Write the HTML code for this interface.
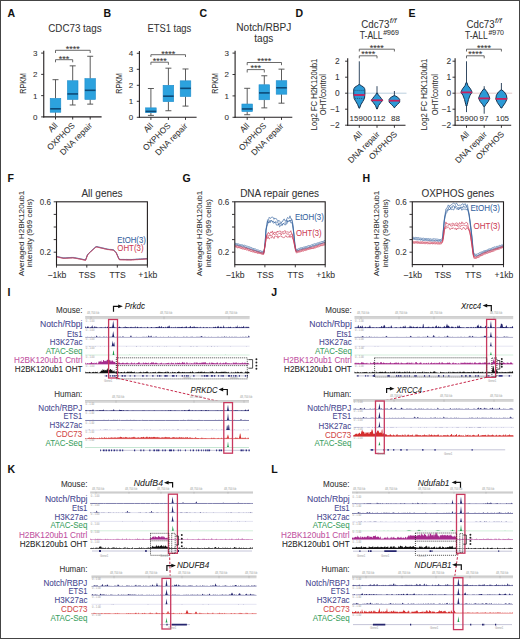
<!DOCTYPE html>
<html><head><meta charset="utf-8"><style>
html,body{margin:0;padding:0;background:#fff;}
svg{display:block;}
text{font-family:"Liberation Sans", sans-serif;}
</style></head><body>
<svg width="520" height="639" viewBox="0 0 520 639">
<rect x="0" y="0" width="520" height="639" fill="#fff"/>
<text x="7.40" y="16.90" font-size="10.5" text-anchor="start" fill="#111" stroke="#111" stroke-width="0.06" font-weight="bold">A</text>
<text x="103.60" y="16.90" font-size="10.5" text-anchor="start" fill="#111" stroke="#111" stroke-width="0.06" font-weight="bold">B</text>
<text x="199.40" y="16.90" font-size="10.5" text-anchor="start" fill="#111" stroke="#111" stroke-width="0.06" font-weight="bold">C</text>
<text x="295.40" y="16.90" font-size="10.5" text-anchor="start" fill="#111" stroke="#111" stroke-width="0.06" font-weight="bold">D</text>
<text x="408.60" y="16.90" font-size="10.5" text-anchor="start" fill="#111" stroke="#111" stroke-width="0.06" font-weight="bold">E</text>
<text x="7.40" y="181.60" font-size="10.5" text-anchor="start" fill="#111" stroke="#111" stroke-width="0.06" font-weight="bold">F</text>
<text x="182.40" y="182.00" font-size="10.5" text-anchor="start" fill="#111" stroke="#111" stroke-width="0.06" font-weight="bold">G</text>
<text x="362.40" y="182.00" font-size="10.5" text-anchor="start" fill="#111" stroke="#111" stroke-width="0.06" font-weight="bold">H</text>
<text x="7.40" y="296.20" font-size="10.5" text-anchor="start" fill="#111" stroke="#111" stroke-width="0.06" font-weight="bold">I</text>
<text x="271.20" y="296.20" font-size="10.5" text-anchor="start" fill="#111" stroke="#111" stroke-width="0.06" font-weight="bold">J</text>
<text x="7.40" y="473.00" font-size="10.5" text-anchor="start" fill="#111" stroke="#111" stroke-width="0.06" font-weight="bold">K</text>
<text x="271.20" y="473.00" font-size="10.5" text-anchor="start" fill="#111" stroke="#111" stroke-width="0.06" font-weight="bold">L</text>
<line x1="43.75" y1="50.80" x2="43.75" y2="117.40" stroke="#231f20" stroke-width="1.1"/>
<line x1="43.25" y1="116.90" x2="101.60" y2="116.90" stroke="#231f20" stroke-width="1.1"/>
<line x1="41.15" y1="116.90" x2="43.75" y2="116.90" stroke="#231f20" stroke-width="0.9"/>
<text x="37.55" y="119.80" font-size="8" text-anchor="end" fill="#333" stroke="#333" stroke-width="0.06">0</text>
<line x1="41.15" y1="95.63" x2="43.75" y2="95.63" stroke="#231f20" stroke-width="0.9"/>
<text x="37.55" y="98.53" font-size="8" text-anchor="end" fill="#333" stroke="#333" stroke-width="0.06">1</text>
<line x1="41.15" y1="74.36" x2="43.75" y2="74.36" stroke="#231f20" stroke-width="0.9"/>
<text x="37.55" y="77.26" font-size="8" text-anchor="end" fill="#333" stroke="#333" stroke-width="0.06">2</text>
<line x1="41.15" y1="53.09" x2="43.75" y2="53.09" stroke="#231f20" stroke-width="0.9"/>
<text x="37.55" y="55.99" font-size="8" text-anchor="end" fill="#333" stroke="#333" stroke-width="0.06">3</text>
<line x1="55.50" y1="116.90" x2="55.50" y2="119.50" stroke="#231f20" stroke-width="0.9"/>
<line x1="72.70" y1="116.90" x2="72.70" y2="119.50" stroke="#231f20" stroke-width="0.9"/>
<line x1="90.20" y1="116.90" x2="90.20" y2="119.50" stroke="#231f20" stroke-width="0.9"/>
<line x1="55.50" y1="79.68" x2="55.50" y2="98.40" stroke="#4a4a4a" stroke-width="0.9"/>
<line x1="55.50" y1="112.22" x2="55.50" y2="116.90" stroke="#4a4a4a" stroke-width="0.9"/>
<line x1="52.50" y1="79.68" x2="58.50" y2="79.68" stroke="#4a4a4a" stroke-width="0.9"/>
<rect x="50.20" y="98.40" width="10.60" height="13.83" fill="#2ca2de" stroke="#1f8ccb" stroke-width="0.6"/>
<line x1="50.20" y1="108.82" x2="60.80" y2="108.82" stroke="#0d4a78" stroke-width="1.6"/>
<line x1="72.70" y1="65.85" x2="72.70" y2="80.74" stroke="#4a4a4a" stroke-width="0.9"/>
<line x1="72.70" y1="99.46" x2="72.70" y2="104.99" stroke="#4a4a4a" stroke-width="0.9"/>
<line x1="69.70" y1="65.85" x2="75.70" y2="65.85" stroke="#4a4a4a" stroke-width="0.9"/>
<line x1="69.70" y1="104.99" x2="75.70" y2="104.99" stroke="#4a4a4a" stroke-width="0.9"/>
<rect x="67.40" y="80.74" width="10.60" height="18.72" fill="#2ca2de" stroke="#1f8ccb" stroke-width="0.6"/>
<line x1="67.40" y1="93.93" x2="78.00" y2="93.93" stroke="#0d4a78" stroke-width="1.6"/>
<line x1="90.20" y1="56.28" x2="90.20" y2="78.61" stroke="#4a4a4a" stroke-width="0.9"/>
<line x1="90.20" y1="99.46" x2="90.20" y2="104.14" stroke="#4a4a4a" stroke-width="0.9"/>
<line x1="87.20" y1="56.28" x2="93.20" y2="56.28" stroke="#4a4a4a" stroke-width="0.9"/>
<line x1="87.20" y1="104.14" x2="93.20" y2="104.14" stroke="#4a4a4a" stroke-width="0.9"/>
<rect x="84.90" y="78.61" width="10.60" height="20.84" fill="#2ca2de" stroke="#1f8ccb" stroke-width="0.6"/>
<line x1="84.90" y1="90.31" x2="95.50" y2="90.31" stroke="#0d4a78" stroke-width="1.6"/>
<path d="M55.50,53.00 L55.50,50.30 L90.20,50.30 L90.20,53.00" fill="none" stroke="#444" stroke-width="0.8"/>
<text x="72.85" y="52.10" font-size="8.5" text-anchor="middle" fill="#333" stroke="#333" stroke-width="0.06" textLength="14.0" lengthAdjust="spacingAndGlyphs">****</text>
<path d="M55.50,62.30 L55.50,59.70 L72.70,59.70 L72.70,62.30" fill="none" stroke="#444" stroke-width="0.8"/>
<text x="64.10" y="61.50" font-size="8.5" text-anchor="middle" fill="#333" stroke="#333" stroke-width="0.06" textLength="10.5" lengthAdjust="spacingAndGlyphs">***</text>
<text x="74.90" y="31.50" font-size="10" text-anchor="middle" fill="#333" stroke="#333" stroke-width="0.06" textLength="53.3" lengthAdjust="spacingAndGlyphs">CDC73 tags</text>
<text x="26.30" y="83.40" font-size="8.2" text-anchor="middle" fill="#333" stroke="#333" stroke-width="0.06" textLength="20.5" lengthAdjust="spacingAndGlyphs" transform="rotate(-90 26.30 83.40)">RPKM</text>
<text x="58.10" y="126.10" font-size="8.4" text-anchor="end" fill="#333" stroke="#333" stroke-width="0.06" transform="rotate(-45 58.10 126.10)">All</text>
<text x="75.30" y="126.10" font-size="8.4" text-anchor="end" fill="#333" stroke="#333" stroke-width="0.06" textLength="35" lengthAdjust="spacingAndGlyphs" transform="rotate(-45 75.30 126.10)">OXPHOS</text>
<text x="92.80" y="126.10" font-size="8.4" text-anchor="end" fill="#333" stroke="#333" stroke-width="0.06" textLength="41.8" lengthAdjust="spacingAndGlyphs" transform="rotate(-45 92.80 126.10)">DNA repair</text>
<line x1="139.40" y1="51.00" x2="139.40" y2="117.80" stroke="#231f20" stroke-width="1.1"/>
<line x1="138.90" y1="117.30" x2="196.60" y2="117.30" stroke="#231f20" stroke-width="1.1"/>
<line x1="136.80" y1="117.30" x2="139.40" y2="117.30" stroke="#231f20" stroke-width="0.9"/>
<text x="133.20" y="120.20" font-size="8" text-anchor="end" fill="#333" stroke="#333" stroke-width="0.06">0</text>
<line x1="136.80" y1="101.30" x2="139.40" y2="101.30" stroke="#231f20" stroke-width="0.9"/>
<text x="133.20" y="104.20" font-size="8" text-anchor="end" fill="#333" stroke="#333" stroke-width="0.06">1</text>
<line x1="136.80" y1="85.30" x2="139.40" y2="85.30" stroke="#231f20" stroke-width="0.9"/>
<text x="133.20" y="88.20" font-size="8" text-anchor="end" fill="#333" stroke="#333" stroke-width="0.06">2</text>
<line x1="136.80" y1="69.30" x2="139.40" y2="69.30" stroke="#231f20" stroke-width="0.9"/>
<text x="133.20" y="72.20" font-size="8" text-anchor="end" fill="#333" stroke="#333" stroke-width="0.06">3</text>
<line x1="136.80" y1="53.30" x2="139.40" y2="53.30" stroke="#231f20" stroke-width="0.9"/>
<text x="133.20" y="56.20" font-size="8" text-anchor="end" fill="#333" stroke="#333" stroke-width="0.06">4</text>
<line x1="150.90" y1="117.30" x2="150.90" y2="119.90" stroke="#231f20" stroke-width="0.9"/>
<line x1="168.40" y1="117.30" x2="168.40" y2="119.90" stroke="#231f20" stroke-width="0.9"/>
<line x1="185.50" y1="117.30" x2="185.50" y2="119.90" stroke="#231f20" stroke-width="0.9"/>
<line x1="150.90" y1="88.50" x2="150.90" y2="107.86" stroke="#4a4a4a" stroke-width="0.9"/>
<line x1="150.90" y1="112.66" x2="150.90" y2="115.38" stroke="#4a4a4a" stroke-width="0.9"/>
<line x1="147.90" y1="88.50" x2="153.90" y2="88.50" stroke="#4a4a4a" stroke-width="0.9"/>
<line x1="147.90" y1="115.38" x2="153.90" y2="115.38" stroke="#4a4a4a" stroke-width="0.9"/>
<rect x="145.60" y="107.86" width="10.60" height="4.80" fill="#2ca2de" stroke="#1f8ccb" stroke-width="0.6"/>
<line x1="145.60" y1="111.38" x2="156.20" y2="111.38" stroke="#0d4a78" stroke-width="1.6"/>
<line x1="168.40" y1="68.18" x2="168.40" y2="85.30" stroke="#4a4a4a" stroke-width="0.9"/>
<line x1="168.40" y1="101.62" x2="168.40" y2="110.74" stroke="#4a4a4a" stroke-width="0.9"/>
<line x1="165.40" y1="68.18" x2="171.40" y2="68.18" stroke="#4a4a4a" stroke-width="0.9"/>
<line x1="165.40" y1="110.74" x2="171.40" y2="110.74" stroke="#4a4a4a" stroke-width="0.9"/>
<rect x="163.10" y="85.30" width="10.60" height="16.32" fill="#2ca2de" stroke="#1f8ccb" stroke-width="0.6"/>
<line x1="163.10" y1="96.18" x2="173.70" y2="96.18" stroke="#0d4a78" stroke-width="1.6"/>
<line x1="185.50" y1="68.98" x2="185.50" y2="80.82" stroke="#4a4a4a" stroke-width="0.9"/>
<line x1="185.50" y1="96.50" x2="185.50" y2="106.10" stroke="#4a4a4a" stroke-width="0.9"/>
<line x1="182.50" y1="68.98" x2="188.50" y2="68.98" stroke="#4a4a4a" stroke-width="0.9"/>
<line x1="182.50" y1="106.10" x2="188.50" y2="106.10" stroke="#4a4a4a" stroke-width="0.9"/>
<rect x="180.20" y="80.82" width="10.60" height="15.68" fill="#2ca2de" stroke="#1f8ccb" stroke-width="0.6"/>
<line x1="180.20" y1="88.34" x2="190.80" y2="88.34" stroke="#0d4a78" stroke-width="1.6"/>
<path d="M150.90,57.00 L150.90,54.70 L185.50,54.70 L185.50,57.00" fill="none" stroke="#444" stroke-width="0.8"/>
<text x="168.20" y="56.50" font-size="8.5" text-anchor="middle" fill="#333" stroke="#333" stroke-width="0.06" textLength="14.0" lengthAdjust="spacingAndGlyphs">****</text>
<path d="M150.90,64.80 L150.90,62.20 L168.40,62.20 L168.40,64.80" fill="none" stroke="#444" stroke-width="0.8"/>
<text x="159.65" y="64.00" font-size="8.5" text-anchor="middle" fill="#333" stroke="#333" stroke-width="0.06" textLength="14.0" lengthAdjust="spacingAndGlyphs">****</text>
<text x="169.40" y="31.60" font-size="10" text-anchor="middle" fill="#333" stroke="#333" stroke-width="0.06" textLength="43.7" lengthAdjust="spacingAndGlyphs">ETS1 tags</text>
<text x="122.50" y="83.40" font-size="8.2" text-anchor="middle" fill="#333" stroke="#333" stroke-width="0.06" textLength="20.5" lengthAdjust="spacingAndGlyphs" transform="rotate(-90 122.50 83.40)">RPKM</text>
<text x="153.50" y="126.50" font-size="8.4" text-anchor="end" fill="#333" stroke="#333" stroke-width="0.06" transform="rotate(-45 153.50 126.50)">All</text>
<text x="171.00" y="126.50" font-size="8.4" text-anchor="end" fill="#333" stroke="#333" stroke-width="0.06" textLength="35" lengthAdjust="spacingAndGlyphs" transform="rotate(-45 171.00 126.50)">OXPHOS</text>
<text x="188.10" y="126.50" font-size="8.4" text-anchor="end" fill="#333" stroke="#333" stroke-width="0.06" textLength="41.8" lengthAdjust="spacingAndGlyphs" transform="rotate(-45 188.10 126.50)">DNA repair</text>
<line x1="235.10" y1="50.70" x2="235.10" y2="117.80" stroke="#231f20" stroke-width="1.1"/>
<line x1="234.60" y1="117.30" x2="292.30" y2="117.30" stroke="#231f20" stroke-width="1.1"/>
<line x1="232.50" y1="117.30" x2="235.10" y2="117.30" stroke="#231f20" stroke-width="0.9"/>
<text x="228.90" y="120.20" font-size="8" text-anchor="end" fill="#333" stroke="#333" stroke-width="0.06">0</text>
<line x1="232.50" y1="95.90" x2="235.10" y2="95.90" stroke="#231f20" stroke-width="0.9"/>
<text x="228.90" y="98.80" font-size="8" text-anchor="end" fill="#333" stroke="#333" stroke-width="0.06">1</text>
<line x1="232.50" y1="74.50" x2="235.10" y2="74.50" stroke="#231f20" stroke-width="0.9"/>
<text x="228.90" y="77.40" font-size="8" text-anchor="end" fill="#333" stroke="#333" stroke-width="0.06">2</text>
<line x1="232.50" y1="53.10" x2="235.10" y2="53.10" stroke="#231f20" stroke-width="0.9"/>
<text x="228.90" y="56.00" font-size="8" text-anchor="end" fill="#333" stroke="#333" stroke-width="0.06">3</text>
<line x1="247.20" y1="117.30" x2="247.20" y2="119.90" stroke="#231f20" stroke-width="0.9"/>
<line x1="264.30" y1="117.30" x2="264.30" y2="119.90" stroke="#231f20" stroke-width="0.9"/>
<line x1="281.50" y1="117.30" x2="281.50" y2="119.90" stroke="#231f20" stroke-width="0.9"/>
<line x1="247.20" y1="88.30" x2="247.20" y2="104.03" stroke="#4a4a4a" stroke-width="0.9"/>
<line x1="247.20" y1="111.52" x2="247.20" y2="114.73" stroke="#4a4a4a" stroke-width="0.9"/>
<line x1="244.20" y1="88.30" x2="250.20" y2="88.30" stroke="#4a4a4a" stroke-width="0.9"/>
<line x1="244.20" y1="114.73" x2="250.20" y2="114.73" stroke="#4a4a4a" stroke-width="0.9"/>
<rect x="241.90" y="104.03" width="10.60" height="7.49" fill="#2ca2de" stroke="#1f8ccb" stroke-width="0.6"/>
<line x1="241.90" y1="108.95" x2="252.50" y2="108.95" stroke="#0d4a78" stroke-width="1.6"/>
<line x1="264.30" y1="75.78" x2="264.30" y2="84.77" stroke="#4a4a4a" stroke-width="0.9"/>
<line x1="264.30" y1="99.75" x2="264.30" y2="107.88" stroke="#4a4a4a" stroke-width="0.9"/>
<line x1="261.30" y1="75.78" x2="267.30" y2="75.78" stroke="#4a4a4a" stroke-width="0.9"/>
<line x1="261.30" y1="107.88" x2="267.30" y2="107.88" stroke="#4a4a4a" stroke-width="0.9"/>
<rect x="259.00" y="84.77" width="10.60" height="14.98" fill="#2ca2de" stroke="#1f8ccb" stroke-width="0.6"/>
<line x1="259.00" y1="92.90" x2="269.60" y2="92.90" stroke="#0d4a78" stroke-width="1.6"/>
<line x1="281.50" y1="69.15" x2="281.50" y2="80.71" stroke="#4a4a4a" stroke-width="0.9"/>
<line x1="281.50" y1="94.19" x2="281.50" y2="103.18" stroke="#4a4a4a" stroke-width="0.9"/>
<line x1="278.50" y1="69.15" x2="284.50" y2="69.15" stroke="#4a4a4a" stroke-width="0.9"/>
<line x1="278.50" y1="103.18" x2="284.50" y2="103.18" stroke="#4a4a4a" stroke-width="0.9"/>
<rect x="276.20" y="80.71" width="10.60" height="13.48" fill="#2ca2de" stroke="#1f8ccb" stroke-width="0.6"/>
<line x1="276.20" y1="87.77" x2="286.80" y2="87.77" stroke="#0d4a78" stroke-width="1.6"/>
<path d="M247.20,65.20 L247.20,62.50 L281.50,62.50 L281.50,65.20" fill="none" stroke="#444" stroke-width="0.8"/>
<text x="264.35" y="64.30" font-size="8.5" text-anchor="middle" fill="#333" stroke="#333" stroke-width="0.06" textLength="14.0" lengthAdjust="spacingAndGlyphs">****</text>
<path d="M247.20,72.50 L247.20,69.60 L264.30,69.60 L264.30,72.50" fill="none" stroke="#444" stroke-width="0.8"/>
<text x="255.75" y="71.40" font-size="8.5" text-anchor="middle" fill="#333" stroke="#333" stroke-width="0.06" textLength="10.5" lengthAdjust="spacingAndGlyphs">***</text>
<text x="263.80" y="30.80" font-size="10" text-anchor="middle" fill="#333" stroke="#333" stroke-width="0.06" textLength="55" lengthAdjust="spacingAndGlyphs">Notch/RBPJ</text>
<text x="263.80" y="42.40" font-size="10" text-anchor="middle" fill="#333" stroke="#333" stroke-width="0.06" textLength="19" lengthAdjust="spacingAndGlyphs">tags</text>
<text x="218.00" y="83.40" font-size="8.2" text-anchor="middle" fill="#333" stroke="#333" stroke-width="0.06" textLength="20.5" lengthAdjust="spacingAndGlyphs" transform="rotate(-90 218.00 83.40)">RPKM</text>
<text x="249.80" y="126.50" font-size="8.4" text-anchor="end" fill="#333" stroke="#333" stroke-width="0.06" transform="rotate(-45 249.80 126.50)">All</text>
<text x="266.90" y="126.50" font-size="8.4" text-anchor="end" fill="#333" stroke="#333" stroke-width="0.06" textLength="35" lengthAdjust="spacingAndGlyphs" transform="rotate(-45 266.90 126.50)">OXPHOS</text>
<text x="284.10" y="126.50" font-size="8.4" text-anchor="end" fill="#333" stroke="#333" stroke-width="0.06" textLength="41.8" lengthAdjust="spacingAndGlyphs" transform="rotate(-45 284.10 126.50)">DNA repair</text>
<line x1="347.70" y1="93.20" x2="406.50" y2="93.20" stroke="#a9c3d6" stroke-width="0.8"/>
<line x1="347.70" y1="58.30" x2="347.70" y2="125.70" stroke="#231f20" stroke-width="1.1"/>
<line x1="347.20" y1="125.20" x2="405.50" y2="125.20" stroke="#231f20" stroke-width="1.1"/>
<line x1="345.10" y1="61.20" x2="347.70" y2="61.20" stroke="#231f20" stroke-width="0.9"/>
<text x="339.70" y="64.10" font-size="8.4" text-anchor="end" fill="#333" stroke="#333" stroke-width="0.06">2</text>
<line x1="345.10" y1="77.20" x2="347.70" y2="77.20" stroke="#231f20" stroke-width="0.9"/>
<text x="339.70" y="80.10" font-size="8.4" text-anchor="end" fill="#333" stroke="#333" stroke-width="0.06">1</text>
<line x1="345.10" y1="93.20" x2="347.70" y2="93.20" stroke="#231f20" stroke-width="0.9"/>
<text x="339.70" y="96.10" font-size="8.4" text-anchor="end" fill="#333" stroke="#333" stroke-width="0.06">0</text>
<line x1="345.10" y1="109.20" x2="347.70" y2="109.20" stroke="#231f20" stroke-width="0.9"/>
<text x="339.70" y="112.10" font-size="8.4" text-anchor="end" fill="#333" stroke="#333" stroke-width="0.06">−1</text>
<line x1="345.10" y1="125.20" x2="347.70" y2="125.20" stroke="#231f20" stroke-width="0.9"/>
<text x="339.70" y="128.10" font-size="8.4" text-anchor="end" fill="#333" stroke="#333" stroke-width="0.06">−2</text>
<line x1="359.30" y1="125.20" x2="359.30" y2="127.80" stroke="#231f20" stroke-width="0.9"/>
<line x1="377.00" y1="125.20" x2="377.00" y2="127.80" stroke="#231f20" stroke-width="0.9"/>
<line x1="394.40" y1="125.20" x2="394.40" y2="127.80" stroke="#231f20" stroke-width="0.9"/>
<line x1="359.30" y1="61.30" x2="359.30" y2="108.50" stroke="#1d3550" stroke-width="0.9"/>
<path d="M359.30,84.60 L358.90,84.60 L357.30,85.70 L355.10,87.00 L354.00,88.50 L353.70,90.00 L353.70,94.00 L354.10,98.40 L355.80,101.50 L357.70,104.70 L358.90,107.90 L359.70,107.90 L360.90,104.70 L362.80,101.50 L364.50,98.40 L364.90,94.00 L364.90,90.00 L364.60,88.50 L363.50,87.00 L361.30,85.70 L359.70,84.60 Z" fill="#2c9ad6" stroke="#183452" stroke-width="1.0"/>
<line x1="353.79" y1="95.00" x2="364.81" y2="95.00" stroke="#c8205e" stroke-width="1.8"/>
<line x1="354.50" y1="90.40" x2="364.10" y2="90.40" stroke="#183452" stroke-width="0.6" stroke-dasharray="1.2,0.8"/>
<line x1="354.90" y1="98.40" x2="363.70" y2="98.40" stroke="#183452" stroke-width="0.6" stroke-dasharray="1.2,0.8"/>
<line x1="377.00" y1="86.20" x2="377.00" y2="109.00" stroke="#1d3550" stroke-width="0.9"/>
<path d="M377.00,93.10 L376.60,93.10 L375.70,94.80 L374.40,96.30 L372.60,98.50 L371.30,100.30 L373.20,102.50 L375.60,105.80 L376.70,109.00 L377.30,109.00 L378.40,105.80 L380.80,102.50 L382.70,100.30 L381.40,98.50 L379.60,96.30 L378.30,94.80 L377.40,93.10 Z" fill="#2c9ad6" stroke="#183452" stroke-width="1.0"/>
<line x1="371.30" y1="100.30" x2="382.70" y2="100.30" stroke="#c8205e" stroke-width="1.8"/>
<line x1="394.40" y1="91.00" x2="394.40" y2="107.60" stroke="#1d3550" stroke-width="0.9"/>
<path d="M394.40,95.70 L394.00,95.70 L391.80,96.80 L390.00,98.20 L389.10,99.40 L389.10,102.10 L391.40,104.50 L393.80,106.90 L394.10,107.60 L394.70,107.60 L395.00,106.90 L397.40,104.50 L399.70,102.10 L399.70,99.40 L398.80,98.20 L397.00,96.80 L394.80,95.70 Z" fill="#2c9ad6" stroke="#183452" stroke-width="1.0"/>
<line x1="389.10" y1="100.70" x2="399.70" y2="100.70" stroke="#c8205e" stroke-width="1.8"/>
<text x="349.60" y="120.60" font-size="8" text-anchor="start" fill="#333" stroke="#333" stroke-width="0.06">15900</text>
<text x="372.70" y="120.60" font-size="8" text-anchor="start" fill="#333" stroke="#333" stroke-width="0.06">112</text>
<text x="391.00" y="120.60" font-size="8" text-anchor="start" fill="#333" stroke="#333" stroke-width="0.06">88</text>
<text x="362.50" y="134.80" font-size="8.4" text-anchor="end" fill="#333" stroke="#333" stroke-width="0.06" transform="rotate(-45 362.50 134.80)">All</text>
<text x="380.20" y="134.80" font-size="8.4" text-anchor="end" fill="#333" stroke="#333" stroke-width="0.06" transform="rotate(-45 380.20 134.80)">DNA repair</text>
<text x="397.60" y="134.80" font-size="8.4" text-anchor="end" fill="#333" stroke="#333" stroke-width="0.06" transform="rotate(-45 397.60 134.80)">OXPHOS</text>
<path d="M359.30,51.50 L359.30,49.20 L394.40,49.20 L394.40,51.50" fill="none" stroke="#444" stroke-width="0.8"/>
<text x="376.85" y="50.50" font-size="8.5" text-anchor="middle" fill="#333" stroke="#333" stroke-width="0.06" textLength="14" lengthAdjust="spacingAndGlyphs">****</text>
<path d="M359.30,58.30 L359.30,55.80 L377.00,55.80 L377.00,58.30" fill="none" stroke="#444" stroke-width="0.8"/>
<text x="368.15" y="57.10" font-size="8.5" text-anchor="middle" fill="#333" stroke="#333" stroke-width="0.06" textLength="14" lengthAdjust="spacingAndGlyphs">****</text>
<text x="361.30" y="27.50" font-size="10" text-anchor="start" fill="#333" stroke="#333" stroke-width="0.06" textLength="28.1" lengthAdjust="spacingAndGlyphs">Cdc73</text>
<text x="389.80" y="22.90" font-size="6.4" text-anchor="start" fill="#333" stroke="#333" stroke-width="0.06" font-style="italic" textLength="6.6" lengthAdjust="spacingAndGlyphs">f/f</text>
<text x="359.80" y="38.70" font-size="10" text-anchor="start" fill="#333" stroke="#333" stroke-width="0.06" textLength="22.8" lengthAdjust="spacingAndGlyphs">T-ALL</text>
<text x="383.20" y="35.00" font-size="6.4" text-anchor="start" fill="#333" stroke="#333" stroke-width="0.06" textLength="15.6" lengthAdjust="spacingAndGlyphs">#969</text>
<text x="316.80" y="94.40" font-size="8.2" text-anchor="middle" fill="#333" stroke="#333" stroke-width="0.06" textLength="71.5" lengthAdjust="spacingAndGlyphs" transform="rotate(-90 316.80 94.40)">Log2 FC H2K120ub1</text>
<text x="326.10" y="94.60" font-size="8.2" text-anchor="middle" fill="#333" stroke="#333" stroke-width="0.06" textLength="41.3" lengthAdjust="spacingAndGlyphs" transform="rotate(-90 326.10 94.60)">OHT/control</text>
<line x1="455.10" y1="93.20" x2="512.20" y2="93.20" stroke="#dcbcbc" stroke-width="0.8"/>
<line x1="455.10" y1="58.30" x2="455.10" y2="125.70" stroke="#231f20" stroke-width="1.1"/>
<line x1="454.60" y1="125.20" x2="511.20" y2="125.20" stroke="#231f20" stroke-width="1.1"/>
<line x1="452.50" y1="61.20" x2="455.10" y2="61.20" stroke="#231f20" stroke-width="0.9"/>
<text x="451.20" y="64.10" font-size="8.4" text-anchor="end" fill="#333" stroke="#333" stroke-width="0.06">2</text>
<line x1="452.50" y1="77.20" x2="455.10" y2="77.20" stroke="#231f20" stroke-width="0.9"/>
<text x="451.20" y="80.10" font-size="8.4" text-anchor="end" fill="#333" stroke="#333" stroke-width="0.06">1</text>
<line x1="452.50" y1="93.20" x2="455.10" y2="93.20" stroke="#231f20" stroke-width="0.9"/>
<text x="451.20" y="96.10" font-size="8.4" text-anchor="end" fill="#333" stroke="#333" stroke-width="0.06">0</text>
<line x1="452.50" y1="109.20" x2="455.10" y2="109.20" stroke="#231f20" stroke-width="0.9"/>
<text x="451.20" y="112.10" font-size="8.4" text-anchor="end" fill="#333" stroke="#333" stroke-width="0.06">−1</text>
<line x1="452.50" y1="125.20" x2="455.10" y2="125.20" stroke="#231f20" stroke-width="0.9"/>
<text x="451.20" y="128.10" font-size="8.4" text-anchor="end" fill="#333" stroke="#333" stroke-width="0.06">−2</text>
<line x1="466.50" y1="125.20" x2="466.50" y2="127.80" stroke="#231f20" stroke-width="0.9"/>
<line x1="484.20" y1="125.20" x2="484.20" y2="127.80" stroke="#231f20" stroke-width="0.9"/>
<line x1="501.40" y1="125.20" x2="501.40" y2="127.80" stroke="#231f20" stroke-width="0.9"/>
<line x1="466.50" y1="61.30" x2="466.50" y2="112.10" stroke="#1d3550" stroke-width="0.9"/>
<path d="M466.50,82.50 L466.10,82.50 L465.00,85.70 L462.50,88.90 L460.90,92.20 L462.90,95.20 L464.50,99.40 L465.80,104.70 L466.10,106.00 L466.90,106.00 L467.20,104.70 L468.50,99.40 L470.10,95.20 L472.10,92.20 L470.50,88.90 L468.00,85.70 L466.90,82.50 Z" fill="#2c9ad6" stroke="#183452" stroke-width="1.0"/>
<line x1="461.03" y1="92.40" x2="471.97" y2="92.40" stroke="#c8205e" stroke-width="1.8"/>
<line x1="484.20" y1="86.20" x2="484.20" y2="113.70" stroke="#1d3550" stroke-width="0.9"/>
<path d="M484.20,88.90 L483.80,88.90 L481.70,91.50 L479.70,95.20 L478.60,98.20 L480.20,101.60 L482.70,104.70 L483.70,106.50 L484.70,106.50 L485.70,104.70 L488.20,101.60 L489.80,98.20 L488.70,95.20 L486.70,91.50 L484.60,88.90 Z" fill="#2c9ad6" stroke="#183452" stroke-width="1.0"/>
<line x1="478.69" y1="98.40" x2="489.71" y2="98.40" stroke="#c8205e" stroke-width="1.8"/>
<line x1="501.40" y1="83.00" x2="501.40" y2="108.00" stroke="#1d3550" stroke-width="0.9"/>
<path d="M501.40,89.90 L501.00,89.90 L498.40,92.00 L496.40,95.20 L495.80,98.90 L497.40,102.60 L500.40,106.90 L501.00,108.00 L501.80,108.00 L502.40,106.90 L505.40,102.60 L507.00,98.90 L506.40,95.20 L504.40,92.00 L501.80,89.90 Z" fill="#2c9ad6" stroke="#183452" stroke-width="1.0"/>
<line x1="495.80" y1="98.90" x2="507.00" y2="98.90" stroke="#c8205e" stroke-width="1.8"/>
<text x="455.60" y="120.60" font-size="8" text-anchor="start" fill="#333" stroke="#333" stroke-width="0.06">15900</text>
<text x="479.50" y="120.60" font-size="8" text-anchor="start" fill="#333" stroke="#333" stroke-width="0.06">97</text>
<text x="495.70" y="120.60" font-size="8" text-anchor="start" fill="#333" stroke="#333" stroke-width="0.06">105</text>
<text x="469.70" y="134.80" font-size="8.4" text-anchor="end" fill="#333" stroke="#333" stroke-width="0.06" transform="rotate(-45 469.70 134.80)">All</text>
<text x="487.40" y="134.80" font-size="8.4" text-anchor="end" fill="#333" stroke="#333" stroke-width="0.06" transform="rotate(-45 487.40 134.80)">DNA repair</text>
<text x="504.60" y="134.80" font-size="8.4" text-anchor="end" fill="#333" stroke="#333" stroke-width="0.06" transform="rotate(-45 504.60 134.80)">OXPHOS</text>
<path d="M466.50,51.50 L466.50,49.20 L501.40,49.20 L501.40,51.50" fill="none" stroke="#444" stroke-width="0.8"/>
<text x="483.95" y="50.50" font-size="8.5" text-anchor="middle" fill="#333" stroke="#333" stroke-width="0.06" textLength="14" lengthAdjust="spacingAndGlyphs">****</text>
<path d="M466.50,58.30 L466.50,55.80 L484.20,55.80 L484.20,58.30" fill="none" stroke="#444" stroke-width="0.8"/>
<text x="475.35" y="57.10" font-size="8.5" text-anchor="middle" fill="#333" stroke="#333" stroke-width="0.06" textLength="14" lengthAdjust="spacingAndGlyphs">****</text>
<text x="466.50" y="27.50" font-size="10" text-anchor="start" fill="#333" stroke="#333" stroke-width="0.06" textLength="28.1" lengthAdjust="spacingAndGlyphs">Cdc73</text>
<text x="495.00" y="22.90" font-size="6.4" text-anchor="start" fill="#333" stroke="#333" stroke-width="0.06" font-style="italic" textLength="6.6" lengthAdjust="spacingAndGlyphs">f/f</text>
<text x="465.00" y="38.70" font-size="10" text-anchor="start" fill="#333" stroke="#333" stroke-width="0.06" textLength="22.8" lengthAdjust="spacingAndGlyphs">T-ALL</text>
<text x="488.40" y="35.00" font-size="6.4" text-anchor="start" fill="#333" stroke="#333" stroke-width="0.06" textLength="15.6" lengthAdjust="spacingAndGlyphs">#970</text>
<text x="426.80" y="94.40" font-size="8.2" text-anchor="middle" fill="#333" stroke="#333" stroke-width="0.06" textLength="71.5" lengthAdjust="spacingAndGlyphs" transform="rotate(-90 426.80 94.40)">Log2 FC H2K120ub1</text>
<text x="438.50" y="94.60" font-size="8.2" text-anchor="middle" fill="#333" stroke="#333" stroke-width="0.06" textLength="41.3" lengthAdjust="spacingAndGlyphs" transform="rotate(-90 438.50 94.60)">OHT/control</text>
<text x="23.50" y="233.50" font-size="7.9" text-anchor="middle" fill="#333" stroke="#333" stroke-width="0.06" textLength="85.6" lengthAdjust="spacingAndGlyphs" transform="rotate(-90 23.50 233.50)">Averaged H2BK120ub1</text>
<text x="32.30" y="233.20" font-size="7.9" text-anchor="middle" fill="#333" stroke="#333" stroke-width="0.06" textLength="68.5" lengthAdjust="spacingAndGlyphs" transform="rotate(-90 32.30 233.20)">intensity (969 cells)</text>
<text x="50.90" y="204.80" font-size="8.6" text-anchor="end" fill="#333" stroke="#333" stroke-width="0.06" textLength="11.2" lengthAdjust="spacingAndGlyphs">0.6</text>
<text x="50.90" y="255.20" font-size="8.6" text-anchor="end" fill="#333" stroke="#333" stroke-width="0.06" textLength="11.2" lengthAdjust="spacingAndGlyphs">0.2</text>
<line x1="53.70" y1="201.80" x2="56.50" y2="201.80" stroke="#231f20" stroke-width="0.9"/>
<line x1="53.70" y1="214.40" x2="56.50" y2="214.40" stroke="#231f20" stroke-width="0.9"/>
<line x1="53.70" y1="227.00" x2="56.50" y2="227.00" stroke="#231f20" stroke-width="0.9"/>
<line x1="53.70" y1="239.60" x2="56.50" y2="239.60" stroke="#231f20" stroke-width="0.9"/>
<line x1="53.70" y1="252.20" x2="56.50" y2="252.20" stroke="#231f20" stroke-width="0.9"/>
<line x1="56.50" y1="265.00" x2="56.50" y2="267.60" stroke="#231f20" stroke-width="0.9"/>
<line x1="86.80" y1="265.00" x2="86.80" y2="267.60" stroke="#231f20" stroke-width="0.9"/>
<line x1="117.30" y1="265.00" x2="117.30" y2="267.60" stroke="#231f20" stroke-width="0.9"/>
<line x1="147.40" y1="265.00" x2="147.40" y2="267.60" stroke="#231f20" stroke-width="0.9"/>
<text x="56.90" y="278.00" font-size="8.6" text-anchor="middle" fill="#333" stroke="#333" stroke-width="0.06">−1kb</text>
<text x="87.20" y="278.00" font-size="8.6" text-anchor="middle" fill="#333" stroke="#333" stroke-width="0.06">TSS</text>
<text x="117.70" y="278.00" font-size="8.6" text-anchor="middle" fill="#333" stroke="#333" stroke-width="0.06">TTS</text>
<text x="147.80" y="278.00" font-size="8.6" text-anchor="middle" fill="#333" stroke="#333" stroke-width="0.06">+1kb</text>
<text x="102.00" y="197.30" font-size="10" text-anchor="middle" fill="#333" stroke="#333" stroke-width="0.06">All genes</text>
<path d="M56.7,256.4 L57.5,256.5 L58.3,256.7 L59.1,256.9 L59.9,257.1 L60.7,257.3 L61.5,257.4 L62.3,257.6 L63.1,257.8 L63.9,257.8 L64.7,257.8 L65.5,257.8 L66.3,257.7 L67.1,257.7 L67.9,257.6 L68.7,257.6 L69.5,257.5 L70.3,257.5 L71.1,257.4 L71.9,257.4 L72.7,257.4 L73.5,257.4 L74.3,257.6 L75.1,257.7 L75.9,257.8 L76.7,258.0 L77.5,258.1 L78.3,258.3 L79.1,258.4 L79.9,258.6 L80.7,258.8 L81.5,258.9 L82.3,259.1 L83.1,259.3 L83.9,259.5 L84.7,259.6 L85.5,259.8 L86.3,257.9 L87.1,255.5 L87.9,254.1 L88.7,253.2 L89.5,252.5 L90.3,251.7 L91.1,250.8 L91.9,250.1 L92.7,249.4 L93.5,248.7 L94.3,248.0 L95.1,247.3 L95.9,246.6 L96.7,246.5 L97.5,246.6 L98.3,246.9 L99.1,247.0 L99.9,247.2 L100.7,247.4 L101.5,247.6 L102.3,247.8 L103.1,248.0 L103.9,248.1 L104.7,248.4 L105.5,248.6 L106.3,248.7 L107.1,248.9 L107.9,249.0 L108.7,249.2 L109.5,249.3 L110.3,249.3 L111.1,249.4 L111.9,249.5 L112.7,249.5 L113.5,249.6 L114.3,250.5 L115.1,251.3 L115.9,252.1 L116.7,253.5 L117.5,255.3 L118.3,257.1 L119.1,259.0 L119.9,259.3 L120.7,259.3 L121.5,259.3 L122.3,259.3 L123.1,259.3 L123.9,259.3 L124.7,259.4 L125.5,259.4 L126.3,259.3 L127.1,259.4 L127.9,259.4 L128.7,259.4 L129.5,259.4 L130.3,259.4 L131.1,259.5 L131.9,259.4 L132.7,259.4 L133.5,259.3 L134.3,259.3 L135.1,259.2 L135.9,259.2 L136.7,259.1 L137.5,259.1 L138.3,259.0 L139.1,258.9 L139.9,258.9 L140.7,258.9 L141.5,258.8 L142.3,258.8 L143.1,258.7 L143.9,258.7 L144.7,258.6 L145.5,258.5 L146.3,258.5 L147.1,258.5" fill="none" stroke="#34629e" stroke-width="0.75" stroke-linejoin="round" stroke-opacity="0.55"/>
<path d="M56.7,256.5 L57.5,256.7 L58.3,256.9 L59.1,257.1 L59.9,257.2 L60.7,257.4 L61.5,257.6 L62.3,257.8 L63.1,257.9 L63.9,258.0 L64.7,257.9 L65.5,257.9 L66.3,257.9 L67.1,257.9 L67.9,257.8 L68.7,257.7 L69.5,257.7 L70.3,257.6 L71.1,257.6 L71.9,257.6 L72.7,257.5 L73.5,257.6 L74.3,257.8 L75.1,257.9 L75.9,258.0 L76.7,258.2 L77.5,258.3 L78.3,258.5 L79.1,258.6 L79.9,258.8 L80.7,259.0 L81.5,259.2 L82.3,259.3 L83.1,259.5 L83.9,259.6 L84.7,259.8 L85.5,260.0 L86.3,258.1 L87.1,255.8 L87.9,254.2 L88.7,253.4 L89.5,252.6 L90.3,251.8 L91.1,251.0 L91.9,250.3 L92.7,249.6 L93.5,248.9 L94.3,248.2 L95.1,247.5 L95.9,246.8 L96.7,246.6 L97.5,246.8 L98.3,247.1 L99.1,247.2 L99.9,247.4 L100.7,247.6 L101.5,247.8 L102.3,248.0 L103.1,248.2 L103.9,248.4 L104.7,248.5 L105.5,248.7 L106.3,248.9 L107.1,249.1 L107.9,249.3 L108.7,249.3 L109.5,249.5 L110.3,249.5 L111.1,249.6 L111.9,249.7 L112.7,249.8 L113.5,249.8 L114.3,250.7 L115.1,251.5 L115.9,252.3 L116.7,253.6 L117.5,255.5 L118.3,257.4 L119.1,259.2 L119.9,259.4 L120.7,259.5 L121.5,259.5 L122.3,259.5 L123.1,259.5 L123.9,259.5 L124.7,259.5 L125.5,259.5 L126.3,259.6 L127.1,259.6 L127.9,259.6 L128.7,259.6 L129.5,259.6 L130.3,259.6 L131.1,259.6 L131.9,259.6 L132.7,259.5 L133.5,259.4 L134.3,259.4 L135.1,259.4 L135.9,259.3 L136.7,259.3 L137.5,259.2 L138.3,259.2 L139.1,259.1 L139.9,259.1 L140.7,259.1 L141.5,259.0 L142.3,259.0 L143.1,258.9 L143.9,258.8 L144.7,258.8 L145.5,258.7 L146.3,258.7 L147.1,258.6" fill="none" stroke="#34629e" stroke-width="0.75" stroke-linejoin="round" stroke-opacity="0.55"/>
<path d="M56.7,256.7 L57.5,256.8 L58.3,257.0 L59.1,257.2 L59.9,257.3 L60.7,257.5 L61.5,257.7 L62.3,257.9 L63.1,258.0 L63.9,258.1 L64.7,258.1 L65.5,258.1 L66.3,258.0 L67.1,258.0 L67.9,257.9 L68.7,257.9 L69.5,257.8 L70.3,257.8 L71.1,257.8 L71.9,257.7 L72.7,257.7 L73.5,257.8 L74.3,257.9 L75.1,258.0 L75.9,258.1 L76.7,258.3 L77.5,258.4 L78.3,258.6 L79.1,258.7 L79.9,258.9 L80.7,259.0 L81.5,259.2 L82.3,259.4 L83.1,259.6 L83.9,259.7 L84.7,259.9 L85.5,260.1 L86.3,258.1 L87.1,255.8 L87.9,254.3 L88.7,253.5 L89.5,252.7 L90.3,251.9 L91.1,251.2 L91.9,250.4 L92.7,249.7 L93.5,249.0 L94.3,248.3 L95.1,247.6 L95.9,246.9 L96.7,246.8 L97.5,246.9 L98.3,247.1 L99.1,247.3 L99.9,247.5 L100.7,247.8 L101.5,247.9 L102.3,248.1 L103.1,248.2 L103.9,248.4 L104.7,248.7 L105.5,248.8 L106.3,249.0 L107.1,249.2 L107.9,249.4 L108.7,249.5 L109.5,249.5 L110.3,249.6 L111.1,249.7 L111.9,249.8 L112.7,249.9 L113.5,249.9 L114.3,250.8 L115.1,251.6 L115.9,252.4 L116.7,253.8 L117.5,255.6 L118.3,257.5 L119.1,259.3 L119.9,259.6 L120.7,259.5 L121.5,259.6 L122.3,259.6 L123.1,259.6 L123.9,259.6 L124.7,259.6 L125.5,259.6 L126.3,259.7 L127.1,259.7 L127.9,259.7 L128.7,259.7 L129.5,259.7 L130.3,259.8 L131.1,259.7 L131.9,259.6 L132.7,259.6 L133.5,259.6 L134.3,259.5 L135.1,259.5 L135.9,259.4 L136.7,259.3 L137.5,259.3 L138.3,259.3 L139.1,259.2 L139.9,259.1 L140.7,259.2 L141.5,259.1 L142.3,259.1 L143.1,259.0 L143.9,259.0 L144.7,258.9 L145.5,258.9 L146.3,258.8 L147.1,258.7" fill="none" stroke="#34629e" stroke-width="0.75" stroke-linejoin="round" stroke-opacity="0.55"/>
<path d="M56.7,256.8 L57.5,256.9 L58.3,257.1 L59.1,257.2 L59.9,257.4 L60.7,257.6 L61.5,257.8 L62.3,257.9 L63.1,258.1 L63.9,258.2 L64.7,258.1 L65.5,258.1 L66.3,258.1 L67.1,258.0 L67.9,258.0 L68.7,257.9 L69.5,257.9 L70.3,257.9 L71.1,257.8 L71.9,257.8 L72.7,257.7 L73.5,257.8 L74.3,257.9 L75.1,258.1 L75.9,258.2 L76.7,258.4 L77.5,258.5 L78.3,258.6 L79.1,258.7 L79.9,258.9 L80.7,259.1 L81.5,259.3 L82.3,259.5 L83.1,259.6 L83.9,259.8 L84.7,260.0 L85.5,260.2 L86.3,258.2 L87.1,255.9 L87.9,254.4 L88.7,253.6 L89.5,252.8 L90.3,252.1 L91.1,251.2 L91.9,250.5 L92.7,249.8 L93.5,249.1 L94.3,248.4 L95.1,247.7 L95.9,247.0 L96.7,246.9 L97.5,247.1 L98.3,247.3 L99.1,247.4 L99.9,247.6 L100.7,247.8 L101.5,248.0 L102.3,248.2 L103.1,248.3 L103.9,248.5 L104.7,248.8 L105.5,248.9 L106.3,249.0 L107.1,249.3 L107.9,249.5 L108.7,249.5 L109.5,249.6 L110.3,249.7 L111.1,249.7 L111.9,249.8 L112.7,249.9 L113.5,250.0 L114.3,250.9 L115.1,251.7 L115.9,252.5 L116.7,253.8 L117.5,255.7 L118.3,257.5 L119.1,259.4 L119.9,259.6 L120.7,259.6 L121.5,259.6 L122.3,259.6 L123.1,259.7 L123.9,259.7 L124.7,259.7 L125.5,259.7 L126.3,259.7 L127.1,259.7 L127.9,259.8 L128.7,259.8 L129.5,259.8 L130.3,259.8 L131.1,259.8 L131.9,259.8 L132.7,259.7 L133.5,259.7 L134.3,259.6 L135.1,259.5 L135.9,259.5 L136.7,259.4 L137.5,259.4 L138.3,259.4 L139.1,259.3 L139.9,259.2 L140.7,259.2 L141.5,259.1 L142.3,259.1 L143.1,259.1 L143.9,259.0 L144.7,259.0 L145.5,258.9 L146.3,258.9 L147.1,258.8" fill="none" stroke="#cc3a55" stroke-width="0.75" stroke-linejoin="round" stroke-opacity="0.55"/>
<path d="M56.7,256.9 L57.5,257.0 L58.3,257.2 L59.1,257.3 L59.9,257.5 L60.7,257.8 L61.5,257.9 L62.3,258.1 L63.1,258.3 L63.9,258.3 L64.7,258.3 L65.5,258.3 L66.3,258.2 L67.1,258.1 L67.9,258.1 L68.7,258.1 L69.5,258.1 L70.3,258.0 L71.1,258.0 L71.9,257.9 L72.7,257.8 L73.5,257.9 L74.3,258.1 L75.1,258.2 L75.9,258.3 L76.7,258.4 L77.5,258.6 L78.3,258.8 L79.1,258.9 L79.9,259.1 L80.7,259.3 L81.5,259.4 L82.3,259.6 L83.1,259.8 L83.9,260.0 L84.7,260.2 L85.5,260.3 L86.3,258.4 L87.1,256.1 L87.9,254.5 L88.7,253.8 L89.5,253.0 L90.3,252.1 L91.1,251.3 L91.9,250.7 L92.7,249.9 L93.5,249.2 L94.3,248.5 L95.1,247.8 L95.9,247.1 L96.7,247.0 L97.5,247.1 L98.3,247.4 L99.1,247.5 L99.9,247.7 L100.7,247.9 L101.5,248.1 L102.3,248.3 L103.1,248.5 L103.9,248.6 L104.7,248.9 L105.5,249.0 L106.3,249.2 L107.1,249.4 L107.9,249.6 L108.7,249.6 L109.5,249.7 L110.3,249.9 L111.1,249.9 L111.9,250.0 L112.7,250.1 L113.5,250.1 L114.3,250.9 L115.1,251.8 L115.9,252.7 L116.7,253.9 L117.5,255.9 L118.3,257.7 L119.1,259.5 L119.9,259.8 L120.7,259.8 L121.5,259.8 L122.3,259.8 L123.1,259.8 L123.9,259.8 L124.7,259.9 L125.5,259.9 L126.3,259.9 L127.1,259.9 L127.9,259.9 L128.7,259.9 L129.5,259.9 L130.3,259.9 L131.1,259.9 L131.9,259.9 L132.7,259.8 L133.5,259.8 L134.3,259.8 L135.1,259.7 L135.9,259.7 L136.7,259.6 L137.5,259.6 L138.3,259.5 L139.1,259.5 L139.9,259.4 L140.7,259.4 L141.5,259.3 L142.3,259.3 L143.1,259.2 L143.9,259.1 L144.7,259.1 L145.5,259.0 L146.3,259.0 L147.1,258.9" fill="none" stroke="#cc3a55" stroke-width="0.75" stroke-linejoin="round" stroke-opacity="0.55"/>
<path d="M56.7,256.9 L57.5,257.1 L58.3,257.3 L59.1,257.5 L59.9,257.7 L60.7,257.8 L61.5,258.0 L62.3,258.2 L63.1,258.4 L63.9,258.5 L64.7,258.4 L65.5,258.4 L66.3,258.3 L67.1,258.3 L67.9,258.2 L68.7,258.2 L69.5,258.2 L70.3,258.1 L71.1,258.0 L71.9,258.0 L72.7,258.0 L73.5,258.1 L74.3,258.2 L75.1,258.3 L75.9,258.4 L76.7,258.6 L77.5,258.7 L78.3,258.9 L79.1,259.0 L79.9,259.2 L80.7,259.4 L81.5,259.5 L82.3,259.7 L83.1,259.9 L83.9,260.1 L84.7,260.2 L85.5,260.5 L86.3,258.5 L87.1,256.2 L87.9,254.6 L88.7,253.8 L89.5,253.0 L90.3,252.3 L91.1,251.5 L91.9,250.7 L92.7,250.0 L93.5,249.3 L94.3,248.6 L95.1,247.9 L95.9,247.3 L96.7,247.0 L97.5,247.2 L98.3,247.4 L99.1,247.7 L99.9,247.8 L100.7,248.0 L101.5,248.2 L102.3,248.4 L103.1,248.6 L103.9,248.7 L104.7,249.0 L105.5,249.1 L106.3,249.4 L107.1,249.5 L107.9,249.7 L108.7,249.7 L109.5,249.8 L110.3,249.9 L111.1,250.0 L111.9,250.0 L112.7,250.2 L113.5,250.3 L114.3,251.1 L115.1,251.9 L115.9,252.7 L116.7,254.1 L117.5,255.9 L118.3,257.8 L119.1,259.6 L119.9,259.9 L120.7,259.9 L121.5,259.9 L122.3,259.9 L123.1,259.9 L123.9,259.9 L124.7,259.9 L125.5,259.9 L126.3,260.0 L127.1,260.0 L127.9,260.0 L128.7,260.0 L129.5,260.0 L130.3,260.1 L131.1,260.0 L131.9,260.0 L132.7,259.9 L133.5,259.9 L134.3,259.8 L135.1,259.8 L135.9,259.7 L136.7,259.7 L137.5,259.7 L138.3,259.6 L139.1,259.6 L139.9,259.5 L140.7,259.5 L141.5,259.4 L142.3,259.4 L143.1,259.3 L143.9,259.3 L144.7,259.2 L145.5,259.1 L146.3,259.1 L147.1,259.1" fill="none" stroke="#cc3a55" stroke-width="0.75" stroke-linejoin="round" stroke-opacity="0.55"/>
<rect x="56.50" y="201.80" width="90.90" height="63.20" fill="none" stroke="#231f20" stroke-width="1.1"/>
<text x="117.30" y="242.50" font-size="9.2" text-anchor="start" fill="#34629e" stroke="#34629e" stroke-width="0.06" textLength="28.5" lengthAdjust="spacingAndGlyphs">EtOH(3)</text>
<text x="117.30" y="250.80" font-size="9.2" text-anchor="start" fill="#cc3a55" stroke="#cc3a55" stroke-width="0.06" textLength="26.2" lengthAdjust="spacingAndGlyphs">OHT(3)</text>
<text x="201.80" y="233.50" font-size="7.9" text-anchor="middle" fill="#333" stroke="#333" stroke-width="0.06" textLength="85.6" lengthAdjust="spacingAndGlyphs" transform="rotate(-90 201.80 233.50)">Averaged H2BK120ub1</text>
<text x="210.60" y="233.20" font-size="7.9" text-anchor="middle" fill="#333" stroke="#333" stroke-width="0.06" textLength="68.5" lengthAdjust="spacingAndGlyphs" transform="rotate(-90 210.60 233.20)">intensity (969 cells)</text>
<text x="229.20" y="204.80" font-size="8.6" text-anchor="end" fill="#333" stroke="#333" stroke-width="0.06" textLength="11.2" lengthAdjust="spacingAndGlyphs">0.6</text>
<text x="229.20" y="255.20" font-size="8.6" text-anchor="end" fill="#333" stroke="#333" stroke-width="0.06" textLength="11.2" lengthAdjust="spacingAndGlyphs">0.2</text>
<line x1="232.00" y1="201.80" x2="234.80" y2="201.80" stroke="#231f20" stroke-width="0.9"/>
<line x1="232.00" y1="214.40" x2="234.80" y2="214.40" stroke="#231f20" stroke-width="0.9"/>
<line x1="232.00" y1="227.00" x2="234.80" y2="227.00" stroke="#231f20" stroke-width="0.9"/>
<line x1="232.00" y1="239.60" x2="234.80" y2="239.60" stroke="#231f20" stroke-width="0.9"/>
<line x1="232.00" y1="252.20" x2="234.80" y2="252.20" stroke="#231f20" stroke-width="0.9"/>
<line x1="234.80" y1="264.70" x2="234.80" y2="267.30" stroke="#231f20" stroke-width="0.9"/>
<line x1="264.90" y1="264.70" x2="264.90" y2="267.30" stroke="#231f20" stroke-width="0.9"/>
<line x1="295.30" y1="264.70" x2="295.30" y2="267.30" stroke="#231f20" stroke-width="0.9"/>
<line x1="325.20" y1="264.70" x2="325.20" y2="267.30" stroke="#231f20" stroke-width="0.9"/>
<text x="235.20" y="278.00" font-size="8.6" text-anchor="middle" fill="#333" stroke="#333" stroke-width="0.06">−1kb</text>
<text x="265.30" y="278.00" font-size="8.6" text-anchor="middle" fill="#333" stroke="#333" stroke-width="0.06">TSS</text>
<text x="295.70" y="278.00" font-size="8.6" text-anchor="middle" fill="#333" stroke="#333" stroke-width="0.06">TTS</text>
<text x="325.60" y="278.00" font-size="8.6" text-anchor="middle" fill="#333" stroke="#333" stroke-width="0.06">+1kb</text>
<text x="279.60" y="197.30" font-size="10" text-anchor="middle" fill="#333" stroke="#333" stroke-width="0.06">DNA repair genes</text>
<path d="M234.8,242.9 L235.6,243.4 L236.4,243.6 L237.2,243.8 L238.0,243.8 L238.8,244.0 L239.6,244.4 L240.4,244.6 L241.2,244.8 L242.0,244.7 L242.8,245.0 L243.6,245.4 L244.4,245.2 L245.2,245.5 L246.0,246.0 L246.8,246.1 L247.6,246.3 L248.4,246.6 L249.2,246.8 L250.0,247.0 L250.8,247.5 L251.6,247.6 L252.4,248.2 L253.2,248.4 L254.0,248.8 L254.8,248.8 L255.6,249.0 L256.4,249.7 L257.2,249.8 L258.0,250.1 L258.8,250.2 L259.6,250.7 L260.4,250.6 L261.2,251.2 L262.0,251.2 L262.8,251.5 L263.6,251.9 L264.4,248.6 L265.2,240.9 L266.0,229.1 L266.8,224.4 L267.6,219.7 L268.4,220.5 L269.2,217.3 L270.0,218.3 L270.8,218.2 L271.6,217.1 L272.4,217.1 L273.2,217.4 L274.0,219.4 L274.8,218.0 L275.6,218.6 L276.4,218.7 L277.2,220.2 L278.0,221.6 L278.8,220.2 L279.6,221.3 L280.4,221.8 L281.2,223.2 L282.0,221.4 L282.8,221.3 L283.6,219.3 L284.4,219.0 L285.2,221.3 L286.0,220.7 L286.8,219.1 L287.6,217.4 L288.4,218.3 L289.2,218.4 L290.0,215.8 L290.8,218.7 L291.6,218.8 L292.4,221.4 L293.2,227.0 L294.0,234.5 L294.8,243.1 L295.6,247.8 L296.4,250.0 L297.2,249.2 L298.0,249.3 L298.8,248.3 L299.6,248.3 L300.4,247.9 L301.2,247.8 L302.0,247.7 L302.8,247.6 L303.6,247.1 L304.4,247.0 L305.2,246.8 L306.0,246.5 L306.8,246.4 L307.6,246.0 L308.4,245.6 L309.2,245.9 L310.0,245.3 L310.8,245.4 L311.6,244.8 L312.4,244.5 L313.2,244.3 L314.0,244.0 L314.8,243.7 L315.6,243.8 L316.4,243.4 L317.2,243.0 L318.0,242.9 L318.8,242.9 L319.6,242.1 L320.4,242.1 L321.2,241.8 L322.0,241.5 L322.8,241.5 L323.6,241.1 L324.4,240.6 L325.2,240.5" fill="none" stroke="#34629e" stroke-width="0.75" stroke-linejoin="round" stroke-opacity="0.85"/>
<path d="M234.8,244.4 L235.6,244.2 L236.4,244.6 L237.2,244.5 L238.0,244.9 L238.8,245.3 L239.6,245.4 L240.4,245.5 L241.2,245.9 L242.0,245.8 L242.8,246.0 L243.6,246.2 L244.4,246.5 L245.2,247.0 L246.0,247.2 L246.8,247.5 L247.6,247.9 L248.4,247.9 L249.2,247.9 L250.0,248.7 L250.8,249.0 L251.6,248.8 L252.4,249.3 L253.2,249.3 L254.0,249.6 L254.8,250.2 L255.6,250.3 L256.4,250.4 L257.2,251.1 L258.0,251.1 L258.8,251.6 L259.6,251.8 L260.4,252.1 L261.2,252.1 L262.0,252.2 L262.8,252.4 L263.6,252.9 L264.4,249.6 L265.2,242.3 L266.0,230.4 L266.8,226.1 L267.6,221.0 L268.4,222.9 L269.2,221.6 L270.0,220.2 L270.8,221.1 L271.6,220.5 L272.4,221.5 L273.2,220.9 L274.0,222.2 L274.8,222.6 L275.6,221.5 L276.4,222.2 L277.2,222.1 L278.0,222.5 L278.8,225.0 L279.6,222.8 L280.4,223.6 L281.2,223.6 L282.0,224.7 L282.8,224.2 L283.6,223.7 L284.4,222.9 L285.2,223.2 L286.0,223.1 L286.8,219.8 L287.6,222.0 L288.4,221.7 L289.2,220.7 L290.0,220.0 L290.8,220.7 L291.6,219.6 L292.4,222.3 L293.2,228.4 L294.0,235.7 L294.8,244.3 L295.6,249.5 L296.4,250.7 L297.2,250.5 L298.0,250.0 L298.8,250.0 L299.6,249.7 L300.4,249.0 L301.2,249.2 L302.0,248.4 L302.8,248.7 L303.6,248.6 L304.4,248.0 L305.2,247.8 L306.0,247.7 L306.8,247.8 L307.6,247.1 L308.4,247.2 L309.2,246.7 L310.0,246.8 L310.8,246.4 L311.6,246.3 L312.4,245.6 L313.2,245.4 L314.0,245.7 L314.8,245.1 L315.6,244.7 L316.4,244.6 L317.2,244.1 L318.0,244.3 L318.8,243.8 L319.6,243.3 L320.4,243.4 L321.2,243.3 L322.0,243.0 L322.8,242.6 L323.6,242.2 L324.4,242.2 L325.2,241.9" fill="none" stroke="#34629e" stroke-width="0.75" stroke-linejoin="round" stroke-opacity="0.85"/>
<path d="M234.8,244.8 L235.6,245.1 L236.4,245.4 L237.2,245.5 L238.0,245.5 L238.8,245.7 L239.6,245.8 L240.4,246.2 L241.2,246.6 L242.0,246.8 L242.8,247.1 L243.6,246.9 L244.4,247.2 L245.2,247.7 L246.0,247.8 L246.8,247.8 L247.6,248.4 L248.4,248.6 L249.2,248.7 L250.0,249.0 L250.8,249.6 L251.6,249.7 L252.4,250.1 L253.2,250.1 L254.0,250.6 L254.8,250.6 L255.6,250.8 L256.4,251.3 L257.2,251.8 L258.0,251.8 L258.8,252.0 L259.6,252.1 L260.4,252.3 L261.2,252.9 L262.0,253.2 L262.8,253.3 L263.6,253.7 L264.4,250.4 L265.2,243.1 L266.0,230.6 L266.8,226.4 L267.6,224.4 L268.4,222.2 L269.2,221.4 L270.0,222.9 L270.8,220.9 L271.6,220.9 L272.4,221.4 L273.2,223.1 L274.0,223.1 L274.8,222.4 L275.6,222.5 L276.4,225.1 L277.2,224.7 L278.0,225.4 L278.8,224.3 L279.6,226.9 L280.4,226.2 L281.2,224.5 L282.0,225.7 L282.8,223.7 L283.6,223.6 L284.4,224.2 L285.2,225.2 L286.0,223.9 L286.8,224.0 L287.6,221.2 L288.4,220.7 L289.2,221.5 L290.0,220.0 L290.8,222.9 L291.6,222.5 L292.4,224.3 L293.2,229.0 L294.0,236.0 L294.8,244.5 L295.6,250.2 L296.4,251.7 L297.2,251.0 L298.0,250.9 L298.8,250.4 L299.6,249.9 L300.4,249.9 L301.2,249.6 L302.0,249.6 L302.8,249.0 L303.6,249.1 L304.4,248.7 L305.2,248.5 L306.0,248.3 L306.8,248.0 L307.6,248.1 L308.4,247.9 L309.2,247.5 L310.0,247.3 L310.8,247.2 L311.6,246.9 L312.4,246.3 L313.2,246.6 L314.0,245.8 L314.8,246.1 L315.6,245.3 L316.4,245.4 L317.2,245.3 L318.0,244.5 L318.8,244.3 L319.6,244.2 L320.4,243.9 L321.2,243.5 L322.0,243.5 L322.8,243.3 L323.6,242.9 L324.4,242.7 L325.2,242.4" fill="none" stroke="#34629e" stroke-width="0.75" stroke-linejoin="round" stroke-opacity="0.85"/>
<path d="M234.8,245.1 L235.6,245.3 L236.4,246.1 L237.2,245.8 L238.0,245.9 L238.8,246.5 L239.6,246.5 L240.4,246.6 L241.2,246.9 L242.0,246.9 L242.8,247.6 L243.6,247.3 L244.4,247.7 L245.2,247.9 L246.0,248.3 L246.8,248.3 L247.6,248.5 L248.4,248.9 L249.2,249.4 L250.0,249.3 L250.8,249.5 L251.6,249.7 L252.4,250.1 L253.2,250.5 L254.0,250.5 L254.8,251.1 L255.6,250.9 L256.4,251.5 L257.2,251.2 L258.0,251.8 L258.8,252.0 L259.6,252.3 L260.4,252.6 L261.2,252.4 L262.0,252.5 L262.8,253.0 L263.6,253.3 L264.4,248.5 L265.2,244.1 L266.0,238.0 L266.8,234.3 L267.6,233.8 L268.4,232.3 L269.2,234.0 L270.0,233.4 L270.8,231.8 L271.6,232.8 L272.4,230.9 L273.2,233.3 L274.0,233.0 L274.8,231.9 L275.6,233.0 L276.4,233.3 L277.2,231.0 L278.0,232.3 L278.8,231.2 L279.6,231.1 L280.4,231.0 L281.2,232.5 L282.0,231.5 L282.8,232.1 L283.6,231.8 L284.4,230.8 L285.2,230.6 L286.0,232.4 L286.8,231.6 L287.6,232.0 L288.4,232.2 L289.2,232.2 L290.0,232.5 L290.8,230.7 L291.6,233.2 L292.4,234.3 L293.2,238.3 L294.0,241.5 L294.8,245.4 L295.6,249.2 L296.4,251.2 L297.2,251.1 L298.0,251.0 L298.8,250.7 L299.6,250.7 L300.4,250.2 L301.2,250.0 L302.0,249.6 L302.8,249.6 L303.6,249.1 L304.4,249.3 L305.2,249.0 L306.0,248.9 L306.8,248.7 L307.6,248.4 L308.4,248.0 L309.2,247.6 L310.0,247.8 L310.8,247.4 L311.6,247.3 L312.4,247.1 L313.2,247.1 L314.0,246.8 L314.8,246.2 L315.6,246.2 L316.4,245.9 L317.2,245.6 L318.0,245.6 L318.8,244.9 L319.6,244.6 L320.4,244.5 L321.2,244.1 L322.0,243.8 L322.8,243.7 L323.6,243.2 L324.4,243.2 L325.2,243.0" fill="none" stroke="#cc3a55" stroke-width="0.75" stroke-linejoin="round" stroke-opacity="0.85"/>
<path d="M234.8,246.2 L235.6,246.6 L236.4,246.6 L237.2,247.1 L238.0,246.9 L238.8,247.3 L239.6,247.4 L240.4,247.7 L241.2,248.0 L242.0,248.2 L242.8,248.0 L243.6,248.5 L244.4,248.9 L245.2,248.7 L246.0,248.9 L246.8,249.0 L247.6,249.4 L248.4,250.0 L249.2,250.2 L250.0,250.2 L250.8,250.4 L251.6,251.1 L252.4,250.9 L253.2,251.5 L254.0,251.7 L254.8,251.9 L255.6,252.1 L256.4,252.1 L257.2,252.7 L258.0,252.8 L258.8,252.5 L259.6,253.0 L260.4,253.3 L261.2,253.3 L262.0,253.8 L262.8,253.7 L263.6,253.8 L264.4,249.4 L265.2,244.6 L266.0,239.1 L266.8,235.3 L267.6,234.6 L268.4,236.3 L269.2,235.9 L270.0,234.5 L270.8,236.1 L271.6,235.9 L272.4,234.5 L273.2,233.2 L274.0,234.7 L274.8,234.4 L275.6,234.0 L276.4,234.3 L277.2,235.0 L278.0,234.4 L278.8,233.5 L279.6,233.4 L280.4,233.2 L281.2,235.0 L282.0,233.5 L282.8,232.7 L283.6,234.2 L284.4,233.3 L285.2,232.6 L286.0,233.1 L286.8,234.2 L287.6,234.1 L288.4,233.7 L289.2,235.1 L290.0,235.5 L290.8,234.9 L291.6,233.6 L292.4,235.0 L293.2,239.1 L294.0,242.3 L294.8,246.1 L295.6,250.0 L296.4,251.9 L297.2,251.9 L298.0,251.5 L298.8,251.4 L299.6,251.3 L300.4,251.2 L301.2,250.9 L302.0,250.5 L302.8,250.2 L303.6,250.2 L304.4,249.9 L305.2,249.6 L306.0,249.7 L306.8,249.5 L307.6,248.9 L308.4,248.8 L309.2,248.6 L310.0,248.6 L310.8,248.3 L311.6,248.4 L312.4,248.2 L313.2,248.0 L314.0,247.6 L314.8,247.5 L315.6,247.0 L316.4,246.8 L317.2,246.7 L318.0,246.1 L318.8,245.7 L319.6,245.7 L320.4,245.5 L321.2,245.0 L322.0,245.1 L322.8,244.7 L323.6,244.5 L324.4,244.1 L325.2,244.0" fill="none" stroke="#cc3a55" stroke-width="0.75" stroke-linejoin="round" stroke-opacity="0.85"/>
<path d="M234.8,246.9 L235.6,246.9 L236.4,247.2 L237.2,247.9 L238.0,247.6 L238.8,247.7 L239.6,247.9 L240.4,248.3 L241.2,248.4 L242.0,248.9 L242.8,249.1 L243.6,249.1 L244.4,249.4 L245.2,249.3 L246.0,249.7 L246.8,250.2 L247.6,250.0 L248.4,250.7 L249.2,250.5 L250.0,251.2 L250.8,251.5 L251.6,251.4 L252.4,251.9 L253.2,251.9 L254.0,251.9 L254.8,252.7 L255.6,252.6 L256.4,252.7 L257.2,253.1 L258.0,253.4 L258.8,253.3 L259.6,253.4 L260.4,253.6 L261.2,253.9 L262.0,254.6 L262.8,254.3 L263.6,254.5 L264.4,250.1 L265.2,245.6 L266.0,239.9 L266.8,235.9 L267.6,238.5 L268.4,237.1 L269.2,239.0 L270.0,238.4 L270.8,237.6 L271.6,237.9 L272.4,236.3 L273.2,237.5 L274.0,238.6 L274.8,236.1 L275.6,236.0 L276.4,236.6 L277.2,235.9 L278.0,238.2 L278.8,236.1 L279.6,236.7 L280.4,235.9 L281.2,235.9 L282.0,237.3 L282.8,237.0 L283.6,237.7 L284.4,237.6 L285.2,236.3 L286.0,235.5 L286.8,237.1 L287.6,237.1 L288.4,237.2 L289.2,235.8 L290.0,237.6 L290.8,236.1 L291.6,236.4 L292.4,237.9 L293.2,239.5 L294.0,243.3 L294.8,247.0 L295.6,251.2 L296.4,253.0 L297.2,252.7 L298.0,252.5 L298.8,252.1 L299.6,252.0 L300.4,252.1 L301.2,251.3 L302.0,251.4 L302.8,250.9 L303.6,251.2 L304.4,250.5 L305.2,250.7 L306.0,250.0 L306.8,250.1 L307.6,249.7 L308.4,249.5 L309.2,249.3 L310.0,249.0 L310.8,248.9 L311.6,248.6 L312.4,248.4 L313.2,248.6 L314.0,248.1 L314.8,248.0 L315.6,247.9 L316.4,247.4 L317.2,247.0 L318.0,247.2 L318.8,246.7 L319.6,246.5 L320.4,246.0 L321.2,245.7 L322.0,245.6 L322.8,245.6 L323.6,245.3 L324.4,245.0 L325.2,244.7" fill="none" stroke="#cc3a55" stroke-width="0.75" stroke-linejoin="round" stroke-opacity="0.85"/>
<rect x="234.80" y="201.80" width="90.40" height="62.90" fill="none" stroke="#231f20" stroke-width="1.1"/>
<text x="294.90" y="220.40" font-size="9.2" text-anchor="start" fill="#34629e" stroke="#34629e" stroke-width="0.06" textLength="28.9" lengthAdjust="spacingAndGlyphs">EtOH(3)</text>
<text x="295.90" y="235.80" font-size="9.2" text-anchor="start" fill="#cc3a55" stroke="#cc3a55" stroke-width="0.06" textLength="25.8" lengthAdjust="spacingAndGlyphs">OHT(3)</text>
<text x="379.30" y="233.50" font-size="7.9" text-anchor="middle" fill="#333" stroke="#333" stroke-width="0.06" textLength="85.6" lengthAdjust="spacingAndGlyphs" transform="rotate(-90 379.30 233.50)">Averaged H2BK120ub1</text>
<text x="388.10" y="233.20" font-size="7.9" text-anchor="middle" fill="#333" stroke="#333" stroke-width="0.06" textLength="68.5" lengthAdjust="spacingAndGlyphs" transform="rotate(-90 388.10 233.20)">intensity (969 cells)</text>
<text x="406.70" y="204.80" font-size="8.6" text-anchor="end" fill="#333" stroke="#333" stroke-width="0.06" textLength="11.2" lengthAdjust="spacingAndGlyphs">0.6</text>
<text x="406.70" y="255.20" font-size="8.6" text-anchor="end" fill="#333" stroke="#333" stroke-width="0.06" textLength="11.2" lengthAdjust="spacingAndGlyphs">0.2</text>
<line x1="409.50" y1="201.80" x2="412.30" y2="201.80" stroke="#231f20" stroke-width="0.9"/>
<line x1="409.50" y1="214.40" x2="412.30" y2="214.40" stroke="#231f20" stroke-width="0.9"/>
<line x1="409.50" y1="227.00" x2="412.30" y2="227.00" stroke="#231f20" stroke-width="0.9"/>
<line x1="409.50" y1="239.60" x2="412.30" y2="239.60" stroke="#231f20" stroke-width="0.9"/>
<line x1="409.50" y1="252.20" x2="412.30" y2="252.20" stroke="#231f20" stroke-width="0.9"/>
<line x1="412.30" y1="264.60" x2="412.30" y2="267.20" stroke="#231f20" stroke-width="0.9"/>
<line x1="442.60" y1="264.60" x2="442.60" y2="267.20" stroke="#231f20" stroke-width="0.9"/>
<line x1="473.00" y1="264.60" x2="473.00" y2="267.20" stroke="#231f20" stroke-width="0.9"/>
<line x1="503.50" y1="264.60" x2="503.50" y2="267.20" stroke="#231f20" stroke-width="0.9"/>
<text x="412.70" y="278.00" font-size="8.6" text-anchor="middle" fill="#333" stroke="#333" stroke-width="0.06">−1kb</text>
<text x="443.00" y="278.00" font-size="8.6" text-anchor="middle" fill="#333" stroke="#333" stroke-width="0.06">TSS</text>
<text x="473.40" y="278.00" font-size="8.6" text-anchor="middle" fill="#333" stroke="#333" stroke-width="0.06">TTS</text>
<text x="503.90" y="278.00" font-size="8.6" text-anchor="middle" fill="#333" stroke="#333" stroke-width="0.06">+1kb</text>
<text x="457.80" y="197.30" font-size="10" text-anchor="middle" fill="#333" stroke="#333" stroke-width="0.06">OXPHOS genes</text>
<path d="M412.3,237.2 L413.1,237.5 L413.9,237.2 L414.7,237.8 L415.5,237.4 L416.3,237.5 L417.1,237.6 L417.9,237.8 L418.7,237.6 L419.5,238.1 L420.3,238.0 L421.1,238.4 L421.9,238.2 L422.7,238.4 L423.5,238.2 L424.3,238.6 L425.1,238.4 L425.9,238.8 L426.7,238.5 L427.5,238.7 L428.3,238.5 L429.1,239.0 L429.9,238.9 L430.7,238.8 L431.5,239.2 L432.3,239.2 L433.1,238.7 L433.9,238.9 L434.7,238.9 L435.5,239.0 L436.3,239.1 L437.1,238.9 L437.9,239.4 L438.7,239.4 L439.5,239.5 L440.3,239.5 L441.1,239.5 L441.9,238.7 L442.7,237.0 L443.5,227.8 L444.3,219.3 L445.1,214.4 L445.9,208.9 L446.7,208.7 L447.5,206.8 L448.3,204.9 L449.1,206.0 L449.9,206.2 L450.7,205.1 L451.5,204.7 L452.3,203.9 L453.1,203.2 L453.9,203.2 L454.7,203.9 L455.5,204.4 L456.3,203.1 L457.1,203.6 L457.9,205.6 L458.7,205.4 L459.5,205.2 L460.3,205.4 L461.1,205.0 L461.9,204.5 L462.7,203.6 L463.5,205.0 L464.3,204.6 L465.1,203.6 L465.9,205.9 L466.7,205.2 L467.5,204.7 L468.3,210.1 L469.1,213.6 L469.9,219.7 L470.7,225.5 L471.5,232.7 L472.3,240.1 L473.1,249.1 L473.9,253.8 L474.7,254.0 L475.5,254.3 L476.3,254.3 L477.1,254.2 L477.9,253.4 L478.7,253.4 L479.5,252.7 L480.3,252.4 L481.1,252.1 L481.9,251.9 L482.7,251.6 L483.5,251.0 L484.3,250.8 L485.1,250.5 L485.9,250.5 L486.7,250.2 L487.5,249.8 L488.3,249.3 L489.1,248.8 L489.9,249.0 L490.7,248.7 L491.5,248.3 L492.3,247.8 L493.1,247.4 L493.9,247.4 L494.7,246.8 L495.5,247.1 L496.3,246.5 L497.1,246.3 L497.9,246.4 L498.7,246.0 L499.5,245.4 L500.3,245.7 L501.1,245.1 L501.9,245.0 L502.7,244.9 L503.5,244.7" fill="none" stroke="#34629e" stroke-width="0.75" stroke-linejoin="round" stroke-opacity="0.85"/>
<path d="M412.3,238.2 L413.1,238.5 L413.9,238.4 L414.7,238.6 L415.5,238.9 L416.3,238.8 L417.1,238.7 L417.9,239.1 L418.7,238.9 L419.5,239.3 L420.3,239.1 L421.1,239.6 L421.9,239.3 L422.7,239.3 L423.5,239.8 L424.3,239.4 L425.1,239.5 L425.9,239.6 L426.7,239.6 L427.5,239.7 L428.3,239.9 L429.1,239.9 L429.9,239.8 L430.7,240.1 L431.5,240.3 L432.3,240.2 L433.1,240.0 L433.9,240.2 L434.7,240.5 L435.5,240.1 L436.3,240.4 L437.1,240.4 L437.9,240.6 L438.7,240.8 L439.5,240.5 L440.3,240.9 L441.1,240.8 L441.9,239.8 L442.7,238.7 L443.5,228.8 L444.3,220.6 L445.1,215.5 L445.9,211.8 L446.7,211.1 L447.5,209.3 L448.3,209.2 L449.1,206.3 L449.9,206.9 L450.7,208.3 L451.5,206.7 L452.3,207.6 L453.1,205.3 L453.9,206.1 L454.7,207.3 L455.5,205.6 L456.3,206.8 L457.1,207.4 L457.9,208.0 L458.7,207.5 L459.5,208.4 L460.3,206.8 L461.1,208.4 L461.9,206.8 L462.7,207.8 L463.5,205.8 L464.3,207.2 L465.1,206.8 L465.9,207.6 L466.7,205.9 L467.5,209.0 L468.3,211.2 L469.1,214.8 L469.9,221.0 L470.7,227.0 L471.5,233.8 L472.3,241.5 L473.1,250.6 L473.9,254.7 L474.7,255.0 L475.5,255.5 L476.3,255.3 L477.1,255.5 L477.9,254.9 L478.7,254.8 L479.5,254.2 L480.3,253.9 L481.1,253.4 L481.9,252.8 L482.7,252.5 L483.5,252.1 L484.3,251.8 L485.1,251.4 L485.9,251.5 L486.7,251.0 L487.5,250.6 L488.3,250.3 L489.1,250.2 L489.9,250.2 L490.7,249.5 L491.5,249.2 L492.3,249.1 L493.1,248.7 L493.9,248.6 L494.7,248.2 L495.5,248.3 L496.3,247.7 L497.1,247.4 L497.9,247.4 L498.7,247.2 L499.5,246.8 L500.3,246.9 L501.1,246.2 L501.9,246.2 L502.7,245.7 L503.5,245.6" fill="none" stroke="#34629e" stroke-width="0.75" stroke-linejoin="round" stroke-opacity="0.85"/>
<path d="M412.3,239.0 L413.1,239.2 L413.9,239.1 L414.7,239.4 L415.5,239.2 L416.3,239.7 L417.1,239.8 L417.9,239.8 L418.7,239.8 L419.5,239.7 L420.3,240.2 L421.1,239.8 L421.9,239.8 L422.7,240.4 L423.5,240.4 L424.3,240.5 L425.1,240.2 L425.9,240.3 L426.7,240.5 L427.5,240.7 L428.3,240.4 L429.1,240.7 L429.9,240.6 L430.7,240.9 L431.5,240.9 L432.3,241.1 L433.1,240.8 L433.9,241.1 L434.7,240.9 L435.5,241.1 L436.3,240.9 L437.1,241.0 L437.9,241.0 L438.7,241.2 L439.5,241.0 L440.3,241.1 L441.1,241.6 L441.9,240.8 L442.7,239.0 L443.5,229.6 L444.3,221.0 L445.1,216.5 L445.9,213.8 L446.7,212.9 L447.5,210.4 L448.3,210.4 L449.1,209.0 L449.9,210.0 L450.7,208.0 L451.5,209.6 L452.3,209.1 L453.1,209.9 L453.9,209.8 L454.7,207.0 L455.5,207.5 L456.3,208.5 L457.1,209.5 L457.9,208.2 L458.7,210.0 L459.5,207.9 L460.3,208.2 L461.1,208.6 L461.9,210.3 L462.7,208.8 L463.5,209.1 L464.3,209.5 L465.1,208.6 L465.9,209.8 L466.7,209.7 L467.5,208.8 L468.3,211.9 L469.1,215.4 L469.9,221.2 L470.7,227.8 L471.5,234.3 L472.3,242.4 L473.1,251.3 L473.9,255.7 L474.7,256.0 L475.5,256.0 L476.3,256.5 L477.1,255.8 L477.9,255.8 L478.7,255.3 L479.5,254.7 L480.3,254.6 L481.1,253.9 L481.9,253.8 L482.7,253.5 L483.5,252.8 L484.3,252.4 L485.1,252.5 L485.9,252.2 L486.7,252.1 L487.5,251.6 L488.3,251.1 L489.1,251.1 L489.9,250.5 L490.7,250.4 L491.5,249.9 L492.3,249.9 L493.1,249.7 L493.9,249.5 L494.7,249.1 L495.5,249.0 L496.3,248.8 L497.1,248.5 L497.9,248.3 L498.7,247.8 L499.5,247.6 L500.3,247.5 L501.1,247.0 L501.9,247.1 L502.7,246.4 L503.5,246.4" fill="none" stroke="#34629e" stroke-width="0.75" stroke-linejoin="round" stroke-opacity="0.85"/>
<path d="M412.3,241.4 L413.1,241.4 L413.9,241.4 L414.7,241.7 L415.5,241.4 L416.3,241.7 L417.1,241.6 L417.9,241.5 L418.7,241.9 L419.5,242.0 L420.3,241.8 L421.1,241.9 L421.9,241.8 L422.7,241.6 L423.5,242.1 L424.3,242.1 L425.1,242.1 L425.9,242.0 L426.7,242.2 L427.5,242.2 L428.3,242.1 L429.1,241.8 L429.9,241.9 L430.7,242.1 L431.5,242.3 L432.3,242.4 L433.1,242.4 L433.9,242.1 L434.7,242.1 L435.5,242.1 L436.3,242.5 L437.1,242.0 L437.9,242.2 L438.7,242.6 L439.5,242.4 L440.3,242.4 L441.1,242.6 L441.9,241.5 L442.7,239.8 L443.5,235.6 L444.3,228.8 L445.1,226.1 L445.9,221.9 L446.7,224.0 L447.5,223.6 L448.3,224.1 L449.1,223.7 L449.9,224.3 L450.7,224.1 L451.5,224.2 L452.3,223.1 L453.1,223.2 L453.9,223.9 L454.7,224.3 L455.5,223.3 L456.3,222.9 L457.1,223.1 L457.9,223.6 L458.7,224.6 L459.5,222.6 L460.3,223.8 L461.1,224.2 L461.9,221.8 L462.7,223.5 L463.5,223.1 L464.3,223.9 L465.1,223.5 L465.9,222.3 L466.7,222.5 L467.5,223.0 L468.3,227.0 L469.1,229.1 L469.9,231.5 L470.7,235.9 L471.5,241.0 L472.3,246.9 L473.1,253.4 L473.9,256.3 L474.7,256.6 L475.5,257.0 L476.3,256.7 L477.1,256.2 L477.9,256.1 L478.7,255.5 L479.5,255.2 L480.3,254.9 L481.1,254.2 L481.9,253.8 L482.7,253.6 L483.5,253.1 L484.3,253.0 L485.1,252.1 L485.9,252.4 L486.7,251.6 L487.5,251.4 L488.3,251.1 L489.1,250.7 L489.9,250.7 L490.7,250.3 L491.5,250.4 L492.3,249.9 L493.1,249.5 L493.9,249.6 L494.7,249.0 L495.5,248.7 L496.3,248.7 L497.1,248.2 L497.9,248.0 L498.7,247.7 L499.5,247.3 L500.3,247.2 L501.1,246.8 L501.9,246.3 L502.7,246.2 L503.5,245.9" fill="none" stroke="#cc3a55" stroke-width="0.75" stroke-linejoin="round" stroke-opacity="0.85"/>
<path d="M412.3,242.1 L413.1,242.4 L413.9,242.7 L414.7,242.7 L415.5,242.4 L416.3,242.3 L417.1,242.7 L417.9,242.6 L418.7,242.5 L419.5,242.9 L420.3,242.8 L421.1,242.4 L421.9,242.8 L422.7,242.7 L423.5,242.7 L424.3,242.7 L425.1,242.8 L425.9,242.8 L426.7,242.7 L427.5,242.7 L428.3,243.0 L429.1,243.2 L429.9,243.2 L430.7,243.2 L431.5,243.0 L432.3,243.2 L433.1,243.1 L433.9,243.3 L434.7,242.8 L435.5,243.3 L436.3,243.0 L437.1,243.4 L437.9,242.9 L438.7,243.3 L439.5,243.5 L440.3,243.2 L441.1,243.0 L441.9,242.7 L442.7,241.1 L443.5,236.1 L444.3,229.7 L445.1,227.4 L445.9,226.2 L446.7,226.2 L447.5,226.1 L448.3,225.3 L449.1,224.1 L449.9,224.7 L450.7,226.1 L451.5,226.0 L452.3,226.1 L453.1,224.4 L453.9,225.5 L454.7,225.8 L455.5,224.7 L456.3,225.9 L457.1,224.5 L457.9,226.6 L458.7,225.8 L459.5,225.7 L460.3,226.7 L461.1,225.3 L461.9,225.9 L462.7,225.3 L463.5,225.1 L464.3,225.4 L465.1,225.3 L465.9,226.0 L466.7,225.5 L467.5,227.3 L468.3,228.3 L469.1,230.1 L469.9,232.2 L470.7,236.6 L471.5,241.9 L472.3,247.5 L473.1,253.9 L473.9,257.1 L474.7,257.6 L475.5,257.7 L476.3,257.8 L477.1,257.5 L477.9,256.9 L478.7,256.7 L479.5,256.0 L480.3,255.5 L481.1,255.3 L481.9,254.8 L482.7,254.6 L483.5,253.9 L484.3,253.6 L485.1,253.2 L485.9,253.0 L486.7,252.6 L487.5,252.3 L488.3,252.3 L489.1,251.9 L489.9,251.7 L490.7,251.6 L491.5,251.3 L492.3,250.9 L493.1,250.3 L493.9,250.2 L494.7,249.6 L495.5,249.4 L496.3,249.1 L497.1,249.0 L497.9,248.6 L498.7,248.6 L499.5,248.2 L500.3,247.7 L501.1,247.5 L501.9,247.5 L502.7,247.3 L503.5,247.0" fill="none" stroke="#cc3a55" stroke-width="0.75" stroke-linejoin="round" stroke-opacity="0.85"/>
<path d="M412.3,243.2 L413.1,243.1 L413.9,243.2 L414.7,243.2 L415.5,243.0 L416.3,243.0 L417.1,243.2 L417.9,243.2 L418.7,243.2 L419.5,243.2 L420.3,243.4 L421.1,243.5 L421.9,243.4 L422.7,243.5 L423.5,243.4 L424.3,243.6 L425.1,243.7 L425.9,243.6 L426.7,243.3 L427.5,243.8 L428.3,243.7 L429.1,243.6 L429.9,243.9 L430.7,243.7 L431.5,243.5 L432.3,243.9 L433.1,243.5 L433.9,243.7 L434.7,243.8 L435.5,243.9 L436.3,243.7 L437.1,243.8 L437.9,244.2 L438.7,244.0 L439.5,244.1 L440.3,244.0 L441.1,244.0 L441.9,243.3 L442.7,241.6 L443.5,237.3 L444.3,230.9 L445.1,227.6 L445.9,228.6 L446.7,227.5 L447.5,227.6 L448.3,227.0 L449.1,227.7 L449.9,229.6 L450.7,229.2 L451.5,227.9 L452.3,228.9 L453.1,227.6 L453.9,228.5 L454.7,228.8 L455.5,228.1 L456.3,230.0 L457.1,228.2 L457.9,229.1 L458.7,227.7 L459.5,228.2 L460.3,228.0 L461.1,229.1 L461.9,229.7 L462.7,228.6 L463.5,227.1 L464.3,228.0 L465.1,229.3 L465.9,229.5 L466.7,227.7 L467.5,228.5 L468.3,229.2 L469.1,230.6 L469.9,232.9 L470.7,237.4 L471.5,243.0 L472.3,248.6 L473.1,254.7 L473.9,258.3 L474.7,258.4 L475.5,258.5 L476.3,258.1 L477.1,258.1 L477.9,257.3 L478.7,257.3 L479.5,256.9 L480.3,256.2 L481.1,255.8 L481.9,255.5 L482.7,255.2 L483.5,254.7 L484.3,254.3 L485.1,253.9 L485.9,254.0 L486.7,253.3 L487.5,253.4 L488.3,252.9 L489.1,252.3 L489.9,252.5 L490.7,252.1 L491.5,251.7 L492.3,251.6 L493.1,251.4 L493.9,251.0 L494.7,250.7 L495.5,250.2 L496.3,249.8 L497.1,249.7 L497.9,249.4 L498.7,249.3 L499.5,249.1 L500.3,248.6 L501.1,248.5 L501.9,247.9 L502.7,247.6 L503.5,247.3" fill="none" stroke="#cc3a55" stroke-width="0.75" stroke-linejoin="round" stroke-opacity="0.85"/>
<rect x="412.30" y="201.80" width="91.20" height="62.80" fill="none" stroke="#231f20" stroke-width="1.1"/>
<text x="470.50" y="210.70" font-size="9.2" text-anchor="start" fill="#34629e" stroke="#34629e" stroke-width="0.06" textLength="29.4" lengthAdjust="spacingAndGlyphs">EtOH(3)</text>
<text x="473.40" y="228.90" font-size="9.2" text-anchor="start" fill="#cc3a55" stroke="#cc3a55" stroke-width="0.06" textLength="26.9" lengthAdjust="spacingAndGlyphs">OHT(3)</text>
<text x="82.50" y="312.60" font-size="8.6" text-anchor="end" fill="#333" stroke="#333" stroke-width="0.06" textLength="26.5" lengthAdjust="spacingAndGlyphs">Mouse:</text>
<text x="82.50" y="327.40" font-size="8.6" text-anchor="end" fill="#45458f" stroke="#45458f" stroke-width="0.06" textLength="42.5" lengthAdjust="spacingAndGlyphs">Notch/Rbpj</text>
<text x="82.50" y="336.50" font-size="8.6" text-anchor="end" fill="#45458f" stroke="#45458f" stroke-width="0.06" textLength="15.4" lengthAdjust="spacingAndGlyphs">Ets1</text>
<text x="82.50" y="345.40" font-size="8.6" text-anchor="end" fill="#45458f" stroke="#45458f" stroke-width="0.06" textLength="32.8" lengthAdjust="spacingAndGlyphs">H3K27ac</text>
<text x="82.50" y="354.20" font-size="8.6" text-anchor="end" fill="#3aa05e" stroke="#3aa05e" stroke-width="0.06" textLength="36.8" lengthAdjust="spacingAndGlyphs">ATAC-Seq</text>
<text x="82.50" y="363.10" font-size="8.6" text-anchor="end" fill="#c150a0" stroke="#c150a0" stroke-width="0.06" textLength="68.5" lengthAdjust="spacingAndGlyphs">H2BK120ub1 Cntrl</text>
<text x="82.50" y="372.30" font-size="8.6" text-anchor="end" fill="#222" stroke="#222" stroke-width="0.06" textLength="67.7" lengthAdjust="spacingAndGlyphs">H2BK120ub1 OHT</text>
<rect x="85.20" y="316.60" width="164.40" height="2.60" fill="#d6d6d6" stroke="none" stroke-width="1"/>
<line x1="85.20" y1="316.60" x2="249.60" y2="316.60" stroke="#a8a8a8" stroke-width="0.5"/>
<text x="87.00" y="314.40" font-size="2.8" text-anchor="start" fill="#9a9a9a">48,700 kb</text>
<line x1="91.00" y1="316.60" x2="91.00" y2="319.20" stroke="#999" stroke-width="0.4"/>
<text x="160.00" y="314.40" font-size="2.8" text-anchor="start" fill="#9a9a9a">48,700 kb</text>
<line x1="164.00" y1="316.60" x2="164.00" y2="319.20" stroke="#999" stroke-width="0.4"/>
<text x="225.00" y="314.40" font-size="2.8" text-anchor="start" fill="#9a9a9a">48,700 kb</text>
<line x1="229.00" y1="316.60" x2="229.00" y2="319.20" stroke="#999" stroke-width="0.4"/>
<line x1="85.20" y1="328.00" x2="249.60" y2="328.00" stroke="#b8b8d8" stroke-width="0.5"/>
<text x="85.70" y="321.80" font-size="2.6" text-anchor="start" fill="#999">0 - 1.00</text>
<path d="M85.2,328.0L85.2,326.6 85.7,326.5 86.2,327.7 86.7,327.5 87.2,327 87.7,326.2 88.2,326.2 88.7,327.5 89.2,327.5 89.7,327.7 90.2,327.5 90.7,327.1 91.2,327.5 91.7,326.5 92.2,324.9 92.7,326.9 93.2,327.4 93.7,327.5 94.2,327.5 94.7,325.9 95.2,326.4 95.7,327.4 96.2,327.5 96.7,326.5 97.2,327.5 97.7,327.5 98.2,327.4 98.7,327.7 99.2,327.5 99.7,327.5 100.2,327.2 100.7,327.5 101.2,327.1 101.7,327.5 102.2,327.6 102.7,327.5 103.2,327.5 103.7,327.6 104.2,327.5 104.7,327.5 105.2,326.6 105.7,327.5 106.2,327.5 106.7,327.7 107.2,326.5 107.7,326.9 108.2,326.7 108.7,327.4 109.2,326.9 109.7,327.5 110.2,326.7 110.7,327.5 111.2,326.6 111.7,327.8 112.2,326.8 112.7,324.3 113.2,320.6 113.7,324.1 114.2,327.1 114.7,327.5 115.7,327.5 116.2,327.6 116.7,327.8 117.2,327.5 118.2,327.5 118.7,327 119.2,326.9 119.7,326.5 120.2,327.1 120.7,327.5 123.2,327.5 123.7,326.9 124.2,327.5 124.7,326.9 125.2,326.1 125.7,327.4 126.2,327 126.7,327 127.2,327.5 127.7,327 128.2,327 128.7,327.5 129.7,327.5 130.2,326.8 130.7,327.2 131.2,327.5 131.7,326.8 132.2,327 132.7,327.5 133.2,327.5 133.7,327 134.2,327.5 134.7,327.3 135.2,326.1 135.7,327.4 136.2,327.5 136.7,327.5 137.2,326.6 137.7,326.9 138.2,327.2 138.7,327.5 139.7,327.5 140.2,327 140.7,327.6 141.2,326.7 141.7,327.5 142.7,327.5 143.2,327.6 143.7,327.4 144.2,327.3 144.7,327.5 145.2,327.4 145.7,327.5 146.2,327.5 146.7,327.7 147.2,326.7 147.7,326.9 148.2,327.4 148.7,327.5 149.2,327.6 149.7,327.8 150.2,327.5 150.7,327.6 151.2,327 151.7,327 152.2,327.5 153.7,327.5 154.2,327.2 154.7,327.8 155.2,326.9 155.7,327.4 156.2,326.9 156.7,327 157.2,327.5 157.7,326.8 158.2,327.5 158.7,326.6 159.2,326.7 159.7,325.8 160.2,327.3 160.7,327.4 161.2,326.1 161.7,326.4 162.2,327.4 162.7,327.5 163.2,327 163.7,326.9 164.2,327.5 165.2,327.5 165.7,326.6 166.2,327.5 166.7,327.5 167.2,326.8 167.7,326.6 168.2,327 168.7,325.9 169.2,325.2 169.7,326.5 170.2,327.7 170.7,327.5 171.2,326.8 171.7,327.4 172.2,327.5 172.7,327.6 173.2,326.9 173.7,327.5 174.7,327.5 175.2,326.6 175.7,327.5 176.2,327.4 176.7,327.5 177.2,327.5 177.7,326.7 178.2,327.4 178.7,326.7 179.2,327.5 179.7,326.7 180.2,327.5 180.7,327.1 181.2,327.1 181.7,327 182.2,326.5 182.7,327.3 183.2,327.5 183.7,327.2 184.2,327.5 184.7,327.1 185.2,326.6 185.7,327.4 186.2,326.3 186.7,326.6 187.2,327.5 187.7,327.5 188.2,327.4 188.7,327 189.2,327.5 189.7,326.7 190.2,326.5 190.7,325.8 191.2,327.2 191.7,327.5 192.2,326.8 192.7,327.1 193.2,327.5 193.7,326.6 194.2,325.9 194.7,327.3 195.2,327 195.7,327.5 196.2,326.7 196.7,327.5 197.2,327.5 197.7,326.8 198.2,327.5 198.7,327.5 199.2,327.4 199.7,327.5 200.2,326.5 200.7,327.5 201.7,327.5 202.2,327.7 202.7,327.5 203.2,326.8 203.7,327.3 204.2,327.5 206.2,327.5 206.7,327.1 207.2,327.5 207.7,326.9 208.2,327.7 208.7,327.8 209.2,327.1 209.7,327.6 210.2,327.5 211.7,327.5 212.2,327.7 212.7,327.5 213.2,326.8 213.7,327.2 214.2,327.5 214.7,326.9 215.2,327 215.7,326.4 216.2,327.4 216.7,327.5 217.2,327.1 217.7,326.3 218.2,325.8 218.7,326.7 219.2,327.5 219.7,327.5 220.2,327 220.7,326.5 221.2,327.5 221.7,326.6 222.2,327.5 222.7,327.5 223.2,327 223.7,325.1 224.2,327.1 224.7,327.5 225.7,327.5 226.2,326.9 226.7,327.4 227.2,327.8 227.7,327 228.2,327.5 228.7,326.6 229.2,327.5 229.7,326.9 230.2,327.1 230.7,326.5 231.2,327.5 232.7,327.5 233.2,327 233.7,327.5 234.2,327.3 234.7,327.5 235.2,327.7 235.7,326.6 236.2,327.1 236.7,326.9 237.2,325.1 237.7,327.2 238.2,327.5 238.7,327 239.2,327.5 239.7,326.6 240.2,327.2 240.7,327.2 241.2,327.5 241.7,326.6 242.2,327.1 242.7,327.3 243.2,326.7 243.7,325.8 244.2,326.7 244.7,327.7 245.2,327.7 245.7,326.8 246.2,326.6 246.7,327.5 247.2,326.5 247.7,327.5 248.2,326.6 248.7,327.2 249.2,327.5 249.6,328.0Z" fill="#25256e" stroke="none" stroke-width="1"/>
<line x1="85.20" y1="337.20" x2="249.60" y2="337.20" stroke="#c0c0dc" stroke-width="0.5"/>
<text x="85.70" y="331.00" font-size="2.6" text-anchor="start" fill="#999">0 - 1.00</text>
<path d="M85.2,337.2L85.2,336.9 86.7,336.9 87.2,336.8 87.7,336.9 91.2,336.9 91.7,336.8 92.2,336.9 93.7,336.9 94.2,336.7 94.7,336.9 95.7,336.9 96.2,336.6 96.7,335.2 97.2,336.4 97.7,336.9 98.7,336.9 99.2,336.6 99.7,336.9 100.2,337 100.7,336.8 101.2,336.9 103.2,336.9 103.7,336.6 104.2,336.6 104.7,336.9 105.7,336.9 106.2,336.6 106.7,336.9 107.7,336.9 108.2,336.7 108.7,336.6 109.2,336.8 109.7,336.9 110.2,336.8 110.7,337 111.2,336.6 111.7,336.9 112.2,336.6 112.7,334.1 113.2,331.1 113.7,334.1 114.2,336.6 114.7,336.9 116.2,336.9 116.7,336.8 117.2,336.9 117.7,336.8 118.2,336.8 118.7,336.9 119.2,336.9 119.7,336.7 120.2,336.6 120.7,336.9 122.2,336.9 122.7,336.3 123.2,336.2 123.7,336.9 129.7,336.9 130.2,336.8 130.7,335.6 131.2,335.5 131.7,336.9 134.2,336.9 134.7,337 135.2,336.9 136.2,336.9 136.7,336.7 137.2,336.9 138.2,336.9 138.7,337 139.2,336.9 141.7,336.9 142.2,336.7 142.7,336.9 143.2,336.9 143.7,336.7 144.2,336.8 144.7,336.9 145.7,336.9 146.2,336.6 146.7,336.9 147.7,336.9 148.2,336.5 148.7,335.3 149.2,336.3 149.7,336.9 150.2,336.9 150.7,336 151.2,335.6 151.7,336.8 152.2,336.9 153.2,336.9 153.7,336.7 154.2,336.9 154.7,336.9 155.2,336.6 155.7,336.9 156.2,336.7 156.7,336.6 157.2,337 157.7,336.9 159.7,336.9 160.2,336.7 160.7,336.9 163.2,336.9 163.7,336.7 164.2,336.9 167.7,336.9 168.2,336.7 168.7,336.6 169.2,336.9 170.2,336.9 170.7,336.8 171.2,336.9 173.7,336.9 174.2,336.6 174.7,336.9 175.2,336.8 175.7,336.9 177.2,336.9 177.7,336.8 178.2,336.9 182.7,336.9 183.2,336.7 183.7,336.8 184.2,336.8 184.7,336.9 185.7,336.9 186.2,336.8 186.7,336.8 187.2,336.9 187.7,336.8 188.2,336.9 189.7,336.9 190.2,336.8 190.7,336.9 191.2,336.9 191.7,336.7 192.2,336.6 192.7,336.9 196.2,336.9 196.7,336.8 197.2,336.7 197.7,336.9 198.2,336.7 198.7,336.9 199.2,336.9 199.7,336.8 200.2,336.9 200.7,336.6 201.2,336.3 201.7,336.1 202.2,336.8 202.7,336.8 203.2,336.9 204.2,336.9 204.7,336.8 205.2,336.8 205.7,337 206.2,336.9 208.2,336.9 208.7,336.8 209.2,336.9 211.2,336.9 211.7,336.8 212.2,336.9 217.2,336.9 217.7,336.8 218.2,336.9 218.7,336.8 219.2,336.9 221.2,336.9 221.7,336.8 222.2,336.7 222.7,336.9 223.2,337 223.7,336.9 224.2,336.6 224.7,336.5 225.2,336.9 225.7,336.9 226.2,336.6 226.7,336.9 229.2,336.9 229.7,336.6 230.2,336.9 231.2,336.9 231.7,336.8 232.2,337 232.7,336.8 233.2,336.9 234.2,336.9 234.7,336.7 235.2,336.7 235.7,336.9 236.2,336.9 236.7,336.7 237.2,336.9 239.2,336.9 239.7,337 240.2,336.7 240.7,336.9 241.7,336.9 242.2,336.7 242.7,336.9 243.2,336.7 243.7,336.9 244.7,336.9 245.2,336.7 245.7,336.8 246.2,336.9 246.7,336.8 247.2,336.9 247.7,336.9 248.2,336.8 248.7,335.6 249.2,335.9 249.6,337.2Z" fill="#25256e" stroke="none" stroke-width="1"/>
<line x1="85.20" y1="346.20" x2="249.60" y2="346.20" stroke="#c8c8e4" stroke-width="0.5"/>
<text x="85.70" y="340.00" font-size="2.6" text-anchor="start" fill="#999">0 - 1.00</text>
<path d="M85.2,346.2L85.2,346.2 88.7,346.2 89.2,346 89.7,346.2 95.2,346.2 95.7,346.1 96.2,346.2 99.7,346.2 100.2,345.9 100.7,346.2 103.7,346.2 104.2,346.1 104.7,346.2 111.2,346.2 111.7,346.1 112.2,343.5 112.7,340.5 113.2,345 113.7,343 114.2,342.1 114.7,345.8 115.2,346.2 126.2,346.2 126.7,346.1 127.2,346.2 135.7,346.2 136.2,345.9 136.7,346.1 137.2,346.2 139.7,346.2 140.2,346 140.7,346.2 147.2,346.2 147.7,346.1 148.2,346.2 152.2,346.2 152.7,346.1 153.2,346.2 157.2,346.2 157.7,345.9 158.2,346.2 158.7,346.2 159.2,346.1 159.7,346.2 163.7,346.2 164.2,346 164.7,346.2 166.2,346.2 166.7,346.1 167.2,346.2 179.2,346.2 179.7,346.1 180.2,346.1 180.7,346.2 190.2,346.2 190.7,345.9 191.2,346 191.7,346.2 192.7,346.2 193.2,346.1 193.7,346.2 195.7,346.2 196.2,346.1 196.7,346.2 197.2,346 197.7,346.2 207.2,346.2 207.7,345.9 208.2,346.2 210.7,346.2 211.2,346 211.7,346 212.2,346.2 214.2,346.2 214.7,346 215.2,346.2 216.7,346.2 217.2,346 217.7,346.2 229.7,346.2 230.2,346.1 230.7,346.2 245.7,346.2 246.2,346 246.7,346.2 249.2,346.2 249.6,346.2Z" fill="#25256e" stroke="none" stroke-width="1"/>
<line x1="85.20" y1="355.00" x2="249.60" y2="355.00" stroke="#a8dcb8" stroke-width="0.5"/>
<text x="85.70" y="348.80" font-size="2.6" text-anchor="start" fill="#999">0 - 1.00</text>
<path d="M85.2,355.0L85.2,355 100.2,355 100.7,354.9 101.2,355 112.2,355 112.7,354.8 113.2,351.3 113.7,350.2 114.2,354.5 114.7,355 128.7,355 129.2,354.8 129.7,355 160.2,355 160.7,354.9 161.2,355 189.2,355 189.7,354.9 190.2,355 217.7,355 218.2,354.9 218.7,355 225.2,355 225.7,354.8 226.2,355 243.2,355 243.7,354.9 244.2,355 246.2,355 246.7,354.9 247.2,355 249.2,355 249.6,355.0Z" fill="#1f9a4c" stroke="none" stroke-width="1"/>
<line x1="85.20" y1="364.20" x2="249.60" y2="364.20" stroke="#e0b0d4" stroke-width="0.5"/>
<text x="85.70" y="358.00" font-size="2.6" text-anchor="start" fill="#999">0 - 1.00</text>
<path d="M85.2,364.2L85.2,362.3 85.7,363.2 86.2,364 86.7,363.4 87.2,363.2 87.7,362.9 88.2,363.7 88.7,363.2 90.2,363.2 90.7,363 91.2,362.2 91.7,362 92.2,363.1 92.7,363.2 93.2,363.2 93.7,363.1 94.2,362.5 94.7,363.7 95.2,362.7 95.7,363.2 96.2,363.4 96.7,362 97.2,364 97.7,363.2 98.2,363.3 98.7,361.3 99.2,361.8 99.7,361.4 100.2,360.8 100.7,362 101.2,360 101.7,362.2 102.2,362.1 102.7,362.1 103.2,360 103.7,360.1 104.2,360.7 104.7,361.3 105.2,361.2 105.7,360.6 106.2,361.6 106.7,360.3 107.2,359.8 107.7,359.7 108.2,359.8 108.7,359.3 109.2,360.4 109.7,359.8 110.2,359.9 110.7,361.4 111.2,361.7 111.7,360.5 112.2,360.1 112.7,360.9 113.2,361 113.7,362.2 114.2,361.7 114.7,362 115.2,362.3 115.7,363.4 116.2,363.6 116.7,363.2 117.2,362.6 117.7,363.2 118.2,361.9 118.7,363.2 119.2,362.5 119.7,362.7 120.2,363.2 121.7,363.2 122.2,362.6 122.7,363.1 123.2,362.6 123.7,363.2 125.7,363.2 126.2,362.6 126.7,363.3 127.2,362.2 127.7,363.2 128.7,363.2 129.2,363.7 129.7,363.2 130.2,363.2 130.7,363.4 131.2,363.2 131.7,362.1 132.2,363 132.7,363.4 133.2,363.4 133.7,363.2 134.2,362.6 134.7,363.2 135.2,363.6 135.7,363.8 136.2,363.2 136.7,363.2 137.2,363 137.7,363.3 138.2,363.1 138.7,361.9 139.2,362 139.7,363.2 140.2,363.7 140.7,363.2 141.2,362.8 141.7,363.8 142.2,363.7 142.7,363.2 143.2,362 143.7,363.2 144.7,363.2 145.2,362.3 145.7,363.2 146.2,362.8 146.7,362.9 147.2,363.2 147.7,363.2 148.2,362.3 148.7,363.2 149.2,363.7 149.7,363.6 150.2,363.2 150.7,363 151.2,362.8 151.7,362.3 152.2,362.1 152.7,363.2 153.2,362.8 153.7,362.1 154.2,363.4 154.7,363.2 155.2,362.5 155.7,362.9 156.2,363 156.7,362.5 157.2,363.7 157.7,362.8 158.2,364 158.7,363.2 159.2,363.2 159.7,363.7 160.2,363.2 160.7,363.2 161.2,362.3 161.7,363.2 162.2,363.2 162.7,363.7 163.2,363.5 163.7,363.2 164.2,363.2 164.7,363.7 165.2,363.5 165.7,363.2 166.7,363.2 167.2,363 167.7,363.2 168.2,362.5 168.7,363.2 169.2,362.8 169.7,363.9 170.2,363.2 170.7,363.8 171.2,361.9 171.7,363.2 172.2,363.3 172.7,363.3 173.2,362.7 173.7,363.2 174.2,363.6 174.7,364 175.2,363.2 175.7,362.4 176.2,363.2 176.7,363.6 177.2,362.3 177.7,363.2 178.2,363 178.7,363 179.2,363.2 179.7,362.2 180.2,363.2 181.7,363.2 182.2,361.8 182.7,362.2 183.2,363.3 183.7,362.2 184.2,363.2 184.7,362 185.2,363.2 185.7,363.9 186.2,363.4 186.7,361.9 187.2,362.2 187.7,363.5 188.2,363.2 188.7,363.5 189.2,363.9 189.7,362.8 190.2,362.8 190.7,364 191.2,363.2 191.7,362.9 192.2,363.4 192.7,363.3 193.2,363.7 193.7,362.9 194.2,362.1 194.7,363 195.2,363.9 195.7,362.3 196.2,362.9 196.7,362.3 197.2,362.3 197.7,363.2 199.2,363.2 199.7,362.8 200.2,362.8 200.7,363.2 201.2,363.2 201.7,362.3 202.2,363.2 202.7,362 203.2,363 203.7,361.9 204.2,362.8 204.7,362.3 205.2,362.4 205.7,362.1 206.2,363.5 206.7,363.2 207.7,363.2 208.2,363.8 208.7,363.2 209.2,363.2 209.7,361.9 210.2,363.9 210.7,363.3 211.2,362.1 211.7,363.2 212.2,363 212.7,362.5 213.2,363.3 213.7,362.7 214.2,363.2 215.7,363.2 216.2,363.5 216.7,362.6 217.2,363.2 217.7,361.8 218.2,364 218.7,363.5 219.2,363.2 219.7,363.2 220.2,363.5 220.7,362.3 221.2,363.2 221.7,363.8 222.2,363.2 223.2,363.2 223.7,362.4 224.2,363.2 224.7,363.4 225.2,362.5 225.7,362.6 226.2,361.9 226.7,363.5 227.2,363.2 229.7,363.2 230.2,363.8 230.7,363.2 231.7,363.2 232.2,363.9 232.7,363.2 233.2,362 233.7,363.2 234.2,362.5 234.7,363.2 235.2,363.2 235.7,362.6 236.2,362 236.7,363.2 237.2,363.2 237.7,363.5 238.2,362.5 238.7,363.8 239.2,363.1 239.7,363.5 240.2,363.1 240.7,363.2 241.7,363.2 242.2,362.1 242.7,363.2 243.7,363.2 244.2,363.3 244.7,362.5 245.2,362.5 245.7,363.2 248.7,363.2 249.2,364 249.6,364.2Z" fill="#a52a8c" stroke="none" stroke-width="1"/>
<text x="85.70" y="367.00" font-size="2.6" text-anchor="start" fill="#999">0 - 1.00</text>
<path d="M85.2,373.2L85.2,371.3 85.7,372.3 88.2,372.3 88.7,372.4 89.2,372 89.7,371.8 90.2,372.3 90.7,372.3 91.2,373 91.7,372.2 92.2,372.3 92.7,372.1 93.2,372.3 93.7,371.8 94.2,372 94.7,372.8 95.2,371.4 95.7,372.3 96.2,372 96.7,372.2 97.2,371.6 97.7,372.6 98.2,372.6 98.7,372.9 99.2,372.7 99.7,372.3 100.2,372.1 100.7,371.4 101.2,370.4 101.7,370.5 102.2,371.2 102.7,369 103.2,369.8 103.7,370.1 104.2,369.4 104.7,370.7 105.2,369.7 105.7,370.5 106.2,369.5 106.7,370.8 107.2,368.1 107.7,369.2 108.2,370.8 108.7,368.1 109.2,369.9 109.7,369.9 110.2,368.9 110.7,369 111.2,370.2 111.7,369.7 112.2,369.5 112.7,371.4 113.2,371.4 113.7,370.8 114.2,370.1 114.7,372.1 115.2,372.4 115.7,371.4 116.2,371.7 116.7,372.1 117.2,372.3 117.7,371.5 118.2,371.2 118.7,372.3 119.2,371.9 119.7,372.7 120.2,372.2 120.7,372.3 121.2,372 121.7,372 122.2,372.3 122.7,372.4 123.2,372.3 123.7,372.5 124.2,371.4 124.7,371.8 125.2,372.5 125.7,372.6 126.2,372.2 126.7,372.3 127.2,371.9 127.7,371.6 128.2,371.6 128.7,372.3 129.2,371.2 129.7,372.4 130.2,371.7 130.7,371.8 131.2,371.5 131.7,371.4 132.2,372.3 132.7,372.1 133.2,372 133.7,372.3 134.2,372.3 134.7,371.2 135.2,372.9 135.7,372.3 136.2,372.9 136.7,372.1 137.2,372.3 137.7,372.7 138.2,372.9 138.7,372.1 139.2,372.3 140.2,372.3 140.7,371.4 141.2,372.3 141.7,372.3 142.2,372.8 142.7,372.3 143.2,372.6 143.7,371.6 144.2,371.9 144.7,372.6 145.2,372.1 145.7,372.3 146.2,371.8 146.7,371.6 147.2,372.3 147.7,371.2 148.2,372.1 148.7,372.8 149.2,372.3 149.7,372.9 150.2,372 150.7,372.5 151.2,372.3 151.7,372.7 152.2,372.3 153.2,372.3 153.7,372 154.2,372.3 155.2,372.3 155.7,371.6 156.2,372.8 156.7,372.7 157.2,372.5 157.7,372.3 158.2,371.5 158.7,372.3 159.2,371.6 159.7,372.3 160.2,371.8 160.7,372.3 161.2,372.3 161.7,372.1 162.2,372.3 162.7,372.3 163.2,372.1 163.7,372.7 164.2,372.3 164.7,372.3 165.2,371.9 165.7,371.8 166.2,371.6 166.7,372.8 167.2,372.5 167.7,371.3 168.2,371.7 168.7,371.9 169.2,372.6 169.7,373 170.2,372.3 170.7,372.3 171.2,373 171.7,372.3 172.2,372.3 172.7,371.6 173.2,372.6 173.7,372.3 174.2,372.3 174.7,372.1 175.2,372.3 175.7,372.3 176.2,372.7 176.7,372.7 177.2,371.9 177.7,371.9 178.2,371.8 178.7,371.5 179.2,371.4 179.7,372.3 181.2,372.3 181.7,372.6 182.2,371.8 182.7,371.9 183.2,371.9 183.7,372.6 184.2,371.7 184.7,372.3 185.2,372.4 185.7,372.2 186.2,372.3 188.7,372.3 189.2,372.2 189.7,372.3 190.2,371.5 190.7,372 191.2,372.3 191.7,372.5 192.2,371.3 192.7,371.4 193.2,372.3 193.7,372.3 194.2,373 194.7,372.3 195.2,372.5 195.7,372.3 197.2,372.3 197.7,372.1 198.2,372.3 198.7,371.5 199.2,371.8 199.7,372.5 200.2,372 200.7,371.7 201.2,371.3 201.7,372.3 202.2,371.4 202.7,372.5 203.2,371.9 203.7,372.3 204.2,372.3 204.7,371.3 205.2,372.6 205.7,372.3 206.7,372.3 207.2,372.5 207.7,372.2 208.2,372 208.7,372.5 209.2,373 209.7,371.7 210.2,371.4 210.7,372.3 211.2,372.3 211.7,371.4 212.2,371.5 212.7,371.3 213.2,372.3 213.7,372.3 214.2,372.4 214.7,372.7 215.2,372.8 215.7,372.3 216.2,371.7 216.7,371.2 217.2,372.3 219.2,372.3 219.7,371.9 220.2,372.3 220.7,371.9 221.2,371.6 221.7,372.2 222.2,371.5 222.7,372.3 223.2,371.8 223.7,371.9 224.2,371.3 224.7,372.5 225.2,371.3 225.7,372.6 226.2,371.8 226.7,372.3 227.2,372.4 227.7,372.3 228.2,371.8 228.7,372.3 229.2,372.9 229.7,372.5 230.2,372.5 230.7,373 231.2,371.6 231.7,372.8 232.2,372.3 232.7,372.7 233.2,372.5 233.7,372.3 234.2,372.1 234.7,373 235.2,372.3 235.7,371.5 236.2,372.2 236.7,372.7 237.2,371.3 237.7,372.3 238.2,372.3 238.7,371.7 239.2,372.3 239.7,372.7 240.2,372.3 240.7,371.8 241.2,372.5 241.7,371.6 242.2,372.5 242.7,372.3 243.2,372.5 243.7,373 244.2,372.9 244.7,372.3 245.2,372.3 245.7,371.3 246.2,371.8 246.7,372.2 247.2,372.3 247.7,371.8 248.2,371.8 248.7,372.1 249.2,372.1 249.6,373.2Z" fill="#111" stroke="none" stroke-width="1"/>
<line x1="104.00" y1="375.90" x2="247.00" y2="375.90" stroke="#8a8ab0" stroke-width="0.5"/>
<path d="M105.7,375.0h1.2v1.8h-1.2ZM109.8,375.0h0.9v1.8h-0.9ZM112.2,375.0h1.3v1.8h-1.3ZM114.2,375.0h1.3v1.8h-1.3ZM117.2,375.0h1.3v1.8h-1.3ZM121.6,375.0h1.6v1.8h-1.6ZM124.3,375.0h1.4v1.8h-1.4ZM129.7,375.0h0.9v1.8h-0.9ZM134.2,375.0h1.1v1.8h-1.1ZM142.1,375.0h1.6v1.8h-1.6ZM146.4,375.0h1.0v1.8h-1.0ZM152.2,375.0h1.3v1.8h-1.3ZM157.2,375.0h0.8v1.8h-0.8ZM158.8,375.0h1.2v1.8h-1.2ZM160.5,375.0h0.8v1.8h-0.8ZM164.4,375.0h1.6v1.8h-1.6ZM166.2,375.0h1.4v1.8h-1.4ZM171.9,375.0h1.5v1.8h-1.5ZM173.2,375.0h1.3v1.8h-1.3ZM176.1,375.0h0.9v1.8h-0.9ZM181.7,375.0h1.2v1.8h-1.2ZM184.2,375.0h0.8v1.8h-0.8ZM185.9,375.0h1.0v1.8h-1.0ZM187.4,375.0h1.3v1.8h-1.3ZM193.2,375.0h1.3v1.8h-1.3ZM201.6,375.0h0.8v1.8h-0.8ZM203.8,375.0h1.3v1.8h-1.3ZM205.7,375.0h1.5v1.8h-1.5ZM207.1,375.0h1.2v1.8h-1.2ZM210.9,375.0h1.3v1.8h-1.3ZM212.3,375.0h0.8v1.8h-0.8ZM214.0,375.0h1.2v1.8h-1.2ZM218.2,375.0h0.9v1.8h-0.9ZM220.7,375.0h0.9v1.8h-0.9ZM222.3,375.0h1.5v1.8h-1.5ZM228.0,375.0h1.4v1.8h-1.4ZM229.3,375.0h0.9v1.8h-0.9ZM231.1,375.0h0.9v1.8h-0.9ZM233.3,375.0h0.9v1.8h-0.9ZM235.0,375.0h1.5v1.8h-1.5ZM238.9,375.0h1.0v1.8h-1.0ZM244.9,375.0h1.0v1.8h-1.0ZM246.9,375.0h1.0v1.8h-1.0Z" fill="#3a3a88" stroke="none" stroke-width="1"/>
<rect x="108.60" y="319.50" width="8.90" height="58.50" fill="none" stroke="#c8385e" stroke-width="1.3"/>
<rect x="116.30" y="357.80" width="131.00" height="21.10" fill="none" stroke="#222" stroke-width="0.9" stroke-dasharray="0.9,1.1"/>
<line x1="116.30" y1="365.60" x2="247.30" y2="365.60" stroke="#222" stroke-width="0.9" stroke-dasharray="0.9,1.1"/>
<path d="M248.4,359.6 L252.6,359.6 L252.6,368.2 L248.4,368.2" fill="none" stroke="#222" stroke-width="0.8"/>
<circle cx="256.40" cy="359.29" r="0.95" fill="#222"/>
<circle cx="256.40" cy="362.46" r="0.95" fill="#222"/>
<circle cx="256.40" cy="365.64" r="0.95" fill="#222"/>
<circle cx="256.40" cy="368.81" r="0.95" fill="#222"/>
<path d="M113.50,311.80 L113.50,306.30 L119.80,306.30" fill="none" stroke="#111" stroke-width="1.2"/>
<path d="M122.80,306.30 L118.20,304.40 L118.20,308.20 Z" fill="#111" stroke="none" stroke-width="1"/>
<text x="124.70" y="309.40" font-size="8.8" text-anchor="start" fill="#1a1a1a" stroke="#1a1a1a" stroke-width="0.06" font-style="italic" textLength="20.2" lengthAdjust="spacingAndGlyphs">Prkdc</text>
<line x1="117.30" y1="378.20" x2="224.00" y2="402.60" stroke="#c82a4c" stroke-width="1.0" stroke-dasharray="2.6,1.6"/>
<text x="82.30" y="397.00" font-size="8.6" text-anchor="end" fill="#333" stroke="#333" stroke-width="0.06" textLength="28" lengthAdjust="spacingAndGlyphs">Human:</text>
<text x="82.30" y="410.80" font-size="8.6" text-anchor="end" fill="#45458f" stroke="#45458f" stroke-width="0.06" textLength="44" lengthAdjust="spacingAndGlyphs">Notch/RBPJ</text>
<text x="82.30" y="419.20" font-size="8.6" text-anchor="end" fill="#45458f" stroke="#45458f" stroke-width="0.06" textLength="18.9" lengthAdjust="spacingAndGlyphs">ETS1</text>
<text x="82.30" y="428.10" font-size="8.6" text-anchor="end" fill="#45458f" stroke="#45458f" stroke-width="0.06" textLength="32.8" lengthAdjust="spacingAndGlyphs">H3K27ac</text>
<text x="82.30" y="437.30" font-size="8.6" text-anchor="end" fill="#d24848" stroke="#d24848" stroke-width="0.06" textLength="26.3" lengthAdjust="spacingAndGlyphs">CDC73</text>
<text x="82.30" y="445.80" font-size="8.6" text-anchor="end" fill="#3aa05e" stroke="#3aa05e" stroke-width="0.06" textLength="36.8" lengthAdjust="spacingAndGlyphs">ATAC-Seq</text>
<rect x="85.00" y="400.50" width="164.00" height="2.30" fill="#d6d6d6" stroke="none" stroke-width="1"/>
<line x1="85.00" y1="400.50" x2="249.00" y2="400.50" stroke="#a8a8a8" stroke-width="0.5"/>
<text x="112.00" y="398.30" font-size="2.8" text-anchor="start" fill="#9a9a9a">48,700 kb</text>
<line x1="116.00" y1="400.50" x2="116.00" y2="402.80" stroke="#999" stroke-width="0.4"/>
<text x="190.00" y="398.30" font-size="2.8" text-anchor="start" fill="#9a9a9a">48,700 kb</text>
<line x1="194.00" y1="400.50" x2="194.00" y2="402.80" stroke="#999" stroke-width="0.4"/>
<text x="240.00" y="398.30" font-size="2.8" text-anchor="start" fill="#9a9a9a">48,700 kb</text>
<line x1="244.00" y1="400.50" x2="244.00" y2="402.80" stroke="#999" stroke-width="0.4"/>
<line x1="85.00" y1="410.90" x2="249.00" y2="410.90" stroke="#b8b8d8" stroke-width="0.5"/>
<text x="85.50" y="404.70" font-size="2.6" text-anchor="start" fill="#999">0 - 1.00</text>
<path d="M85.0,410.9L85,410.1 85.5,410.6 86,410.6 86.5,410 87,410.6 89.5,410.6 90,410 90.5,410.2 91,410.6 91.5,410.3 92,410.6 92.5,410.3 93,409 93.5,410.2 94,410.7 94.5,410.7 95,410.6 95.5,410.6 96,410.7 96.5,410.2 97,410.6 97.5,410.3 98,410.4 98.5,410.6 99,410.6 99.5,410 100,410.2 100.5,410.1 101,410.6 101.5,410.1 102,410.6 102.5,410.1 103,410.3 103.5,409.2 104,410.4 104.5,410.6 105,410.5 105.5,410.6 106.5,410.6 107,410.3 107.5,410.6 108,410.7 108.5,410.6 109.5,410.6 110,410.4 110.5,410.6 111,410.2 111.5,410.6 112,410 112.5,410.6 113,410.5 113.5,409.3 114,409.5 114.5,410.6 117.5,410.6 118,410.4 118.5,410.6 119,410.4 119.5,409.6 120,410.1 120.5,409.9 121,409.9 121.5,410.1 122,410.2 122.5,410.6 123,410.3 123.5,410.1 124,410.5 124.5,410.6 125,410.5 125.5,410.5 126,410.6 126.5,410.3 127,410.6 127.5,410.2 128,410.3 128.5,410.5 129,410.6 129.5,410.6 130,410.7 130.5,410.6 132.5,410.6 133,410.3 133.5,410.6 135.5,410.6 136,410.4 136.5,410.6 138.5,410.6 139,410.5 139.5,410.6 141.5,410.6 142,410.4 142.5,410.6 143,410.1 143.5,410.5 144,410.6 144.5,410.2 145,410.6 145.5,410.6 146,410.4 146.5,410.6 147,410.5 147.5,410.6 148.5,410.6 149,410.3 149.5,410.5 150,410.5 150.5,410.6 153.5,410.6 154,410.3 154.5,410.3 155,410.6 155.5,410.5 156,410.5 156.5,410.6 161.5,410.6 162,410.2 162.5,410.6 165,410.6 165.5,410.3 166,410.6 166.5,410.6 167,410.4 167.5,410.6 168,410.6 168.5,410 169,410.6 169.5,410.2 170,410.6 170.5,410 171,410.1 171.5,410.5 172,410.5 172.5,410.6 174,410.6 174.5,410.5 175,410.1 175.5,410.6 180,410.6 180.5,410.7 181,410.6 181.5,410.6 182,410.1 182.5,410.6 184,410.6 184.5,410.1 185,410.1 185.5,410.6 186,410.2 186.5,410.6 187,410.6 187.5,410.4 188,410.1 188.5,410 189,409.5 189.5,409.6 190,410.6 190.5,410.3 191,410.7 191.5,410.6 192,410.1 192.5,410.6 193,410.1 193.5,410.7 194,410.4 194.5,410.6 195,410.6 195.5,410.2 196,410.2 196.5,410.6 197,410.4 197.5,410.4 198,410.6 198.5,410.6 199,410.3 199.5,410.6 200.5,410.6 201,410 201.5,410.1 202,410.6 202.5,410.6 203,410.2 203.5,410.6 205,410.6 205.5,410 206,409.9 206.5,410.2 207,410.2 207.5,410.6 208,410.4 208.5,410 209,410.4 209.5,410.6 211,410.6 211.5,410.4 212.5,410.4 213,410.6 215,410.6 215.5,410.4 216,410.2 216.5,410.6 217,410.4 217.5,410.3 218,410.2 218.5,410.6 220,410.6 220.5,410.2 221,410.4 221.5,410.6 222,410.1 222.5,410.6 223,410.6 223.5,410.4 224,410.3 224.5,410.6 225.5,410.6 226,410.4 226.5,410.6 227,410.5 227.5,407.6 228,404.6 228.5,408.2 229,410.5 229.5,410.6 231.5,410.6 232,410.1 232.5,410.6 234.5,410.6 235,410.1 235.5,410.6 236,410.1 236.5,410.6 237,410.2 237.5,410.2 238,410.6 239.5,410.6 240,410.4 240.5,410.6 241,410.6 241.5,410.3 242,410.2 242.5,410.5 243,410.5 243.5,410.6 244.5,410.6 245,409.7 245.5,409.4 246,410.3 246.5,410.6 247,410.2 247.5,410.5 248,409.5 248.5,409.5 249,410.6 249.0,410.9Z" fill="#25256e" stroke="none" stroke-width="1"/>
<line x1="85.00" y1="420.40" x2="249.00" y2="420.40" stroke="#c0c0dc" stroke-width="0.5"/>
<text x="85.50" y="414.20" font-size="2.6" text-anchor="start" fill="#999">0 - 1.00</text>
<path d="M85.0,420.4L85,420.1 85.5,420.2 86,419.9 86.5,420.1 87,420.1 87.5,419.9 88,420 88.5,420 89,420.1 89.5,420 90,420.1 91.5,420.1 92,419.9 92.5,420.1 93,419.8 93.5,419.9 94,420.1 95.5,420.1 96,419.9 96.5,420.1 97,419.9 97.5,420.1 99,420.1 99.5,420 100,420.1 100.5,420 101,420.1 101.5,419.9 102,420.1 103.5,420.1 104,419.8 104.5,420.1 107.5,420.1 108,420 108.5,419.8 109,420.1 109.5,420.2 110,420.1 113,420.1 113.5,419.8 114,420.1 114.5,420.1 115,419.8 115.5,420.1 117,420.1 117.5,419.8 118,419.9 118.5,420.2 119,420.1 119.5,419.8 120,419.9 120.5,420.2 121,420.1 123.5,420.1 124,419.9 124.5,420 125,420.1 125.5,420 126,420.1 126.5,420.1 127,419.8 127.5,420.1 130,420.1 130.5,419.8 131,420.1 133.5,420.1 134,419.8 134.5,420 135,420.1 136.5,420.1 137,419.9 137.5,420.1 138,420.2 138.5,420.1 140.5,420.1 141,420.2 141.5,420.1 142,420.2 142.5,419.8 143,420.1 143.5,420 144,420 144.5,419.9 145,420.1 148,420.1 148.5,420.2 149,420.1 150,420.1 150.5,419.9 151,420 151.5,420.1 152,420 152.5,420.1 153.5,420.1 154,420.2 154.5,420.1 155,420.1 155.5,419.9 156,420 156.5,420.1 157,420 157.5,420 158,420.1 158.5,420.1 159,419.9 159.5,420.1 165,420.1 165.5,420.2 166,420.1 167,420.1 167.5,419.9 168,419.9 168.5,420 169,420.1 169.5,420.1 170,419.9 170.5,420.1 171,420.1 171.5,420 172,420 172.5,420.1 173,420.1 173.5,420 174,420.1 174.5,420 175,420.1 175.5,419.9 176,420.1 176.5,420.1 177,420 177.5,420.1 178.5,420.1 179,419.9 179.5,420.2 180,419.9 180.5,420.1 181.5,420.1 182,419.9 182.5,420 183,420.1 183.5,419.8 184,420.1 184.5,419.9 185,419.9 185.5,420.1 186,420.1 186.5,420.2 187,420.1 187.5,420.1 188,419.8 188.5,420.1 189,419.8 189.5,420.1 190.5,420.1 191,419.8 191.5,419.9 192,419.8 192.5,420.1 194.5,420.1 195,419.9 195.5,420.1 198.5,420.1 199,419.8 199.5,420.1 200.5,420.1 201,419.9 201.5,420.1 203,420.1 203.5,420.2 204,420 204.5,420.1 206,420.1 206.5,420 207,420.1 208.5,420.1 209,419.9 209.5,420.1 211,420.1 211.5,420 212,420.1 212.5,419.9 213,420.1 215,420.1 215.5,419.8 216,420.1 216.5,420.1 217,420 217.5,420.1 218.5,420.1 219,419.8 219.5,420 220,420.1 220.5,420 221,420.1 221.5,419.8 222,420.1 224,420.1 224.5,419.9 225,420.1 226.5,420.1 227,419.7 227.5,417.2 228,412.9 228.5,417.2 229,420 229.5,419.8 230,420.1 231.5,420.1 232,420.2 232.5,419.9 233,420.1 233.5,419.9 234,420.1 234.5,419.8 235,420.1 236.5,420.1 237,420 237.5,419.9 238,420.1 240,420.1 240.5,419.7 241,418.7 241.5,419.7 242,420.2 242.5,420.1 244.5,420.1 245,419.8 245.5,420.1 246,420.1 246.5,419.9 247,420 247.5,420.1 248,419.9 248.5,419.9 249,420.1 249.0,420.4Z" fill="#25256e" stroke="none" stroke-width="1"/>
<line x1="85.00" y1="430.10" x2="249.00" y2="430.10" stroke="#c8c8e4" stroke-width="0.5"/>
<text x="85.50" y="423.90" font-size="2.6" text-anchor="start" fill="#999">0 - 1.00</text>
<path d="M85.0,430.1L85,430 88,430 88.5,429.9 89,429.8 89.5,429.8 90,430 92.5,430 93,429.8 93.5,429.9 94,430 100,430 100.5,429.7 101,430 103.5,430 104,429.7 104.5,430 105,429.8 105.5,429.8 106,430 106.5,429.7 107,430 107.5,429.7 108,430 109,430 109.5,429.9 110,429.7 110.5,430 114,430 114.5,429.9 115,430 115.5,429.9 116,430 117,430 117.5,429.8 118,429.9 118.5,429.8 119,430 119.5,430 120,429.8 120.5,430 121,430 121.5,429.9 122,430 122.5,429.8 123,430 123.5,430 124,429.8 124.5,429.9 125,430 130.5,430 131,429.7 131.5,430 132,429.8 132.5,430 141.5,430 142,429.9 142.5,430 144,430 144.5,429.8 145,430 146.5,430 147,429.8 147.5,430 148,429.9 148.5,430 150,430 150.5,429.7 151,430 153.5,430 154,429.9 154.5,430 155,429.9 155.5,430 159.5,430 160,429.8 160.5,430 163.5,430 164,429.8 164.5,430 166,430 166.5,429.7 167,430 168,430 168.5,429.9 169,429.8 169.5,430 171,430 171.5,429.9 172,430 172.5,430 173,429.8 173.5,430 175,430 175.5,429.9 176,430 177,430 177.5,429.8 178.5,429.8 179,430 186.5,430 187,429.8 187.5,430 188.5,430 189,429.9 189.5,430 197,430 197.5,429.8 198,429.8 198.5,430 199,429.8 199.5,430 201,430 201.5,429.9 202,430 206,430 206.5,429.7 207,429.9 207.5,430 208.5,430 209,429.9 209.5,430 211.5,430 212,429.7 212.5,429.8 213,430 213.5,429.9 214,430 216,430 216.5,429.8 217,430 219,430 219.5,429.9 220,430 220.5,429.9 221,430 221.5,429.7 222,430 222.5,430 223,429.7 223.5,429.9 224,430 224.5,430 225,429.9 226,429.9 226.5,429.2 227,425 227.5,426.1 228,429.4 228.5,425.3 229,424.2 229.5,429.3 230,429.9 231.5,429.9 232,430 234,430 234.5,429.8 235,430 243,430 243.5,429.8 244,430 244.5,429.9 245,430 247.5,430 248,429.8 248.5,430 249,429.8 249.0,430.1Z" fill="#25256e" stroke="none" stroke-width="1"/>
<line x1="85.00" y1="438.80" x2="249.00" y2="438.80" stroke="#f0b0b0" stroke-width="0.5"/>
<text x="85.50" y="432.60" font-size="2.6" text-anchor="start" fill="#999">0 - 1.00</text>
<path d="M85.0,438.8L85,438.2 85.5,438.1 86,438.4 86.5,438.4 87,438.6 87.5,438.2 88,438.2 88.5,438 89,437.5 89.5,437.4 90,438.2 90.5,437.8 91,438.2 91.5,437.3 92,437.7 92.5,438.1 93,438.2 93.5,437.3 94,437.9 94.5,438.2 95,437.7 95.5,438.2 96.5,438.2 97,438 97.5,437.9 98,438.2 98.5,438.3 99,437.9 99.5,437.4 100,438 100.5,438.1 101,438.4 101.5,437.6 102,437.2 102.5,438 103,438.1 103.5,438.3 104,437.4 104.5,437 105,437.9 105.5,437.7 106,438 106.5,437.6 107,437.7 107.5,438.2 108,437.9 108.5,437.3 109,437.9 109.5,437.8 110,437.7 110.5,437.7 111,437.4 111.5,437.8 112,436.8 112.5,437.9 113,437.7 113.5,437.9 114,436.9 114.5,437.7 115,437.4 115.5,437.2 116,437.9 116.5,437.9 117,437.1 117.5,437.9 118,437 118.5,437.9 119,436.8 119.5,437.6 120,437.5 120.5,436.6 121,437 121.5,437.1 122,437.6 122.5,437.4 123,437.8 123.5,437.2 124,437.6 124.5,437.8 125,437.3 125.5,436.8 126,437.8 126.5,437.1 127,437.2 127.5,437.8 128,437.5 128.5,437.7 129,437.5 129.5,437.3 130,437.7 130.5,437.4 131,437.8 131.5,437.6 132,436.9 132.5,437.6 133,437.3 133.5,437.2 134,436.5 134.5,437.3 135,437.5 135.5,437.4 136,437.7 136.5,437.8 137,437.8 137.5,437.4 138,437.5 138.5,437.3 139,437.4 139.5,437.8 140,437.7 140.5,437.5 141,437.6 141.5,436.9 142,437.1 142.5,437.4 143,437.2 143.5,436.7 144,437 144.5,437.7 145,437.5 145.5,437.4 146,437.2 146.5,437 147,436.3 147.5,437.2 148,437.6 148.5,437.6 149,437.3 149.5,437.1 150,436.8 150.5,437.6 151,437.6 151.5,437.2 152,436.8 152.5,437.6 153,437.3 153.5,437 154,436.8 154.5,437.3 155,436.8 155.5,437.4 156,437.2 156.5,437.3 157,437.4 157.5,436.8 158,437.7 158.5,437.3 159,437.2 159.5,437.6 160,437.8 160.5,437.7 161,437.8 161.5,437.4 162,437.3 162.5,437.5 163,437.3 163.5,437.6 164,437.7 164.5,437.1 165,437.7 165.5,436.7 166,437.1 166.5,437.3 167,437.5 167.5,437.5 168,436.7 168.5,437.7 169,437 169.5,437.6 170,437.3 170.5,437.9 171,437.7 171.5,437.7 172,437.8 172.5,437.4 173,436.7 173.5,437.6 174,437 174.5,437.6 175,437.6 175.5,437.4 176,438 176.5,437.5 177,436.8 177.5,438 178,437.6 178.5,437.4 179,437.7 179.5,436.8 180,437.6 180.5,437.4 181,437.6 181.5,437.2 182,437.3 182.5,437.6 183,438 183.5,437 184,438.1 184.5,437.8 185,437.5 185.5,437.2 186,437.6 186.5,437.8 187,437 187.5,437.3 188,437.6 188.5,437.9 189,438.1 189.5,437.4 190,437.3 190.5,437.6 191,437.9 191.5,437.9 192,437.5 192.5,437.9 193,438.1 193.5,438.2 194,437.8 194.5,437.9 195,438.2 195.5,437.1 196,437.5 196.5,437.9 197,438 197.5,438 198,437.9 198.5,438.1 199,438.1 199.5,438.2 200,438.6 200.5,437.9 201,438.2 201.5,437.8 202,437.6 202.5,438.2 203,437.8 203.5,438.3 204,438.2 204.5,438.1 205,438.2 205.5,438.1 206,438.1 206.5,438.2 211,438.2 211.5,437.8 212,437.7 212.5,438.2 213,438.2 213.5,438.1 214,437.5 214.5,438.2 215,437.9 215.5,438.2 216,438.4 216.5,438.2 217,438.2 217.5,437.9 218,438.3 218.5,437.7 219,438.2 219.5,438.3 220,438.2 220.5,438.2 221,438.3 221.5,437.5 222,438.2 222.5,438.4 223,437.7 223.5,438.2 224.5,438.2 225,437.6 225.5,438.2 226,438.2 226.5,437.6 227,438 227.5,435.8 228,434.2 228.5,436.2 229,438 229.5,438.2 230,438.4 230.5,438 231,438.2 231.5,438.3 232,437.6 232.5,437.6 233,438 233.5,438.4 234,438.2 234.5,438.2 235,437.9 235.5,437.4 236,437.5 236.5,438.1 237,437.8 237.5,437.7 238,438.2 238.5,438.2 239,438.1 239.5,436 240,433.3 240.5,433.9 241,437.3 241.5,438.4 242,437.4 242.5,438.2 243,437.6 243.5,438.2 244,437.8 244.5,438.2 245,437.6 245.5,437.6 246,438.2 246.5,438.4 247,438.1 247.5,438.6 248,437.3 248.5,438.3 249,437.8 249.0,438.8Z" fill="#d42d2d" stroke="none" stroke-width="1"/>
<text x="85.50" y="441.00" font-size="2.6" text-anchor="start" fill="#999">0 - 1.00</text>
<path d="M85.0,447.2L85,447.1 227,447.1 227.5,445.5 228,441.3 228.5,445.5 229,447.1 249,447.1 249.0,447.2Z" fill="#1f9a4c" stroke="none" stroke-width="1"/>
<line x1="100.00" y1="450.30" x2="249.00" y2="450.30" stroke="#8a8ab0" stroke-width="0.5"/>
<path d="M100.0,449.4h0.8v1.8h-0.8ZM102.9,449.4h1.1v1.8h-1.1ZM104.4,449.4h1.0v1.8h-1.0ZM106.0,449.4h1.0v1.8h-1.0ZM108.3,449.4h1.6v1.8h-1.6ZM111.0,449.4h1.1v1.8h-1.1ZM113.6,449.4h1.5v1.8h-1.5ZM116.5,449.4h1.0v1.8h-1.0ZM119.4,449.4h1.4v1.8h-1.4ZM122.1,449.4h1.1v1.8h-1.1ZM134.0,449.4h1.2v1.8h-1.2ZM140.3,449.4h1.2v1.8h-1.2ZM143.2,449.4h1.1v1.8h-1.1ZM149.3,449.4h1.1v1.8h-1.1ZM153.4,449.4h1.6v1.8h-1.6ZM156.2,449.4h1.5v1.8h-1.5ZM158.0,449.4h1.4v1.8h-1.4ZM162.2,449.4h1.1v1.8h-1.1ZM164.6,449.4h1.3v1.8h-1.3ZM169.0,449.4h1.6v1.8h-1.6ZM170.4,449.4h1.6v1.8h-1.6ZM173.1,449.4h1.2v1.8h-1.2ZM177.8,449.4h1.0v1.8h-1.0ZM179.9,449.4h0.8v1.8h-0.8ZM184.9,449.4h1.0v1.8h-1.0ZM190.1,449.4h0.8v1.8h-0.8ZM192.7,449.4h1.3v1.8h-1.3ZM196.3,449.4h0.8v1.8h-0.8ZM198.0,449.4h1.2v1.8h-1.2ZM200.9,449.4h0.9v1.8h-0.9ZM203.0,449.4h0.7v1.8h-0.7ZM205.1,449.4h1.3v1.8h-1.3ZM207.2,449.4h1.1v1.8h-1.1ZM208.6,449.4h1.5v1.8h-1.5ZM216.1,449.4h1.0v1.8h-1.0ZM218.8,449.4h1.5v1.8h-1.5ZM220.7,449.4h1.3v1.8h-1.3ZM223.2,449.4h0.9v1.8h-0.9ZM240.5,449.4h1.3v1.8h-1.3ZM241.8,449.4h0.9v1.8h-0.9ZM243.4,449.4h0.7v1.8h-0.7ZM245.6,449.4h1.4v1.8h-1.4ZM248.5,449.4h1.3v1.8h-1.3Z" fill="#2e2e80" stroke="none" stroke-width="1"/>
<rect x="223.80" y="402.60" width="8.70" height="50.60" fill="none" stroke="#c8385e" stroke-width="1.3"/>
<path d="M227.30,395.30 L227.30,389.50 L221.60,389.50" fill="none" stroke="#111" stroke-width="1.2"/>
<path d="M218.60,389.50 L223.20,387.60 L223.20,391.40 Z" fill="#111" stroke="none" stroke-width="1"/>
<text x="190.60" y="393.20" font-size="8.8" text-anchor="start" fill="#1a1a1a" stroke="#1a1a1a" stroke-width="0.06" font-style="italic" textLength="26.9" lengthAdjust="spacingAndGlyphs">PRKDC</text>
<text x="351.80" y="312.60" font-size="8.6" text-anchor="end" fill="#333" stroke="#333" stroke-width="0.06" textLength="26.5" lengthAdjust="spacingAndGlyphs">Mouse:</text>
<text x="351.80" y="327.40" font-size="8.6" text-anchor="end" fill="#45458f" stroke="#45458f" stroke-width="0.06" textLength="42.5" lengthAdjust="spacingAndGlyphs">Notch/Rbpj</text>
<text x="351.80" y="336.50" font-size="8.6" text-anchor="end" fill="#45458f" stroke="#45458f" stroke-width="0.06" textLength="15.4" lengthAdjust="spacingAndGlyphs">Ets1</text>
<text x="351.80" y="345.40" font-size="8.6" text-anchor="end" fill="#45458f" stroke="#45458f" stroke-width="0.06" textLength="32.8" lengthAdjust="spacingAndGlyphs">H3K27ac</text>
<text x="351.80" y="354.20" font-size="8.6" text-anchor="end" fill="#3aa05e" stroke="#3aa05e" stroke-width="0.06" textLength="36.8" lengthAdjust="spacingAndGlyphs">ATAC-Seq</text>
<text x="351.80" y="363.10" font-size="8.6" text-anchor="end" fill="#c150a0" stroke="#c150a0" stroke-width="0.06" textLength="68.5" lengthAdjust="spacingAndGlyphs">H2BK120ub1 Cntrl</text>
<text x="351.80" y="372.30" font-size="8.6" text-anchor="end" fill="#222" stroke="#222" stroke-width="0.06" textLength="67.7" lengthAdjust="spacingAndGlyphs">H2BK120ub1 OHT</text>
<rect x="354.50" y="316.60" width="158.70" height="2.60" fill="#d6d6d6" stroke="none" stroke-width="1"/>
<line x1="354.50" y1="316.60" x2="513.20" y2="316.60" stroke="#a8a8a8" stroke-width="0.5"/>
<text x="357.00" y="314.40" font-size="2.8" text-anchor="start" fill="#9a9a9a">48,700 kb</text>
<line x1="361.00" y1="316.60" x2="361.00" y2="319.20" stroke="#999" stroke-width="0.4"/>
<text x="395.00" y="314.40" font-size="2.8" text-anchor="start" fill="#9a9a9a">48,700 kb</text>
<line x1="399.00" y1="316.60" x2="399.00" y2="319.20" stroke="#999" stroke-width="0.4"/>
<text x="430.00" y="314.40" font-size="2.8" text-anchor="start" fill="#9a9a9a">48,700 kb</text>
<line x1="434.00" y1="316.60" x2="434.00" y2="319.20" stroke="#999" stroke-width="0.4"/>
<text x="490.00" y="314.40" font-size="2.8" text-anchor="start" fill="#9a9a9a">48,700 kb</text>
<line x1="494.00" y1="316.60" x2="494.00" y2="319.20" stroke="#999" stroke-width="0.4"/>
<line x1="354.50" y1="328.00" x2="513.20" y2="328.00" stroke="#b8b8d8" stroke-width="0.5"/>
<text x="355.00" y="321.80" font-size="2.6" text-anchor="start" fill="#999">0 - 1.00</text>
<path d="M354.5,328.0L354.5,327.6 355,327.5 355.5,327.5 356,326.5 356.5,327.6 357,327.5 357.5,327.3 358,325.4 358.5,325.1 359,327.2 359.5,327.5 360,326.5 360.5,325.8 361,327 361.5,327.2 362,325.4 362.5,325.7 363,327.4 363.5,327.5 364.5,327.5 365,326.9 365.5,326.6 366,327.5 366.5,327.2 367,327.5 367.5,327.2 368,326.8 368.5,327 369,327.4 369.5,326 370,324.9 370.5,327.1 371,327.5 371.5,327.5 372,327.3 372.5,327.5 373,326.8 373.5,327.5 374,327.3 374.5,327.5 375,327.6 375.5,327.6 376,327.5 376.5,326.9 377,327.5 377.5,327.5 378,327.3 378.5,327.5 379,327.5 379.5,326.9 380,327.6 380.5,327.3 381,327 381.5,325.9 382,325.9 382.5,327.4 383,327 383.5,326.2 384,324.7 384.5,325.2 385,326 385.5,327.4 386,327.7 386.5,327.1 387,327.5 387.5,327.5 388,327 388.5,327.5 389,326.5 389.5,327.5 390,327.5 390.5,327.4 391,325.6 391.5,325.4 392,327.2 392.5,327.7 393,327.5 393.5,327.8 394,327.7 394.5,327.4 395,327.2 395.5,327.3 396,327.5 396.5,327.1 397,327.5 397.5,327.5 398,327.7 398.5,327.5 399.5,327.5 400,327.6 400.5,326.5 401,327.5 401.5,327.2 402,327.5 402.5,327.6 403,326.2 403.5,326.3 404,327.1 404.5,327.3 405,325.3 405.5,326.2 406,327.4 406.5,327.4 407,327.7 407.5,327.2 408,327.5 408.5,327.2 409,327.5 409.5,326.9 410,325.2 410.5,327 411,325.9 411.5,326.8 412,327.2 412.5,327.6 413,326.6 413.5,326.7 414,326.7 414.5,327.5 415,327.1 415.5,327.5 416,327 416.5,327.1 417,326.8 417.5,326.5 418,327.5 418.5,327.6 419,327.5 419.5,327 420,326.8 420.5,326.9 421,327.5 421.5,327.6 422,326.9 422.5,327.3 423,323.7 423.5,324.3 424,327.4 424.5,327.3 425,327.6 425.5,327.1 426,327.2 426.5,326.9 427,327.5 427.5,326.7 428,327.6 428.5,326.7 429,326.6 429.5,327.5 430,327.2 430.5,327.5 431,326.8 431.5,327.7 432,327.1 432.5,326.6 433,327.5 433.5,326.6 434,327.5 434.5,327.6 435,327.4 435.5,326.3 436,325.8 436.5,325.3 437,326.8 437.5,327.4 438,326.9 438.5,326.3 439,326.5 439.5,327.4 440,326.7 440.5,326.7 441,327.6 441.5,327.7 442,326.8 442.5,327.5 443,327.5 443.5,326.9 444,326.4 444.5,325.7 445,327.2 445.5,327.3 446,326.6 446.5,325.3 447,323.4 447.5,325.3 448,326.1 448.5,325.6 449,325.9 449.5,326.8 450,327.5 450.5,327.5 451,327.2 451.5,326.4 452,326.5 452.5,326.9 453,326.6 453.5,327.2 454,327.5 454.5,327.5 455,327.4 455.5,326.8 456,326.9 456.5,327.7 457,327.2 457.5,326.1 458,325.3 458.5,327.1 459,326.3 459.5,325 460,327.3 460.5,327 461,327.3 461.5,327.5 462,326.9 462.5,327.5 463,327.5 463.5,327.2 464,327.6 464.5,327.5 465,327.7 465.5,327.7 466,327.5 466.5,327.1 467,327.6 467.5,326.9 468,327.5 468.5,327 469,327.4 469.5,327.5 470,327.7 470.5,326.7 471,327.7 471.5,326.7 472,327.5 472.5,327.5 473,327.4 473.5,326.7 474,327.5 474.5,327.5 475,327.6 475.5,326.8 476,327.5 476.5,327.6 477,325.9 477.5,325.1 478,326.3 478.5,324.1 479,326.9 479.5,327.5 480,326.4 480.5,326.2 481,325.5 481.5,327.1 482,327.5 482.5,327.1 483,327.5 483.5,327.3 484,327.2 484.5,327.5 485,326.8 485.5,325.4 486,326.4 486.5,326.5 487,327 487.5,327.3 488,327.5 488.5,326.6 489,327.5 489.5,327.5 490,327.2 490.5,323.7 491,320.7 491.5,325.7 492,327.4 492.5,327.5 493,326.9 493.5,327.3 494,327.5 494.5,327.2 495,327.6 495.5,327.5 496,327.7 496.5,327.7 497,327.5 498,327.5 498.5,327.6 499,327.5 499.5,327.7 500,326.7 500.5,326.3 501,323.3 501.5,324.1 502,323.7 502.5,324.6 503,327.1 503.5,327.1 504,326.9 504.5,327 505,327.6 505.5,326.7 506,326.3 506.5,325 507,326.9 507.5,327.5 508,326.9 508.5,327.5 510,327.5 510.5,327.3 511,326.8 511.5,327.7 512,326.8 512.5,326.1 513,326.7 513.2,328.0Z" fill="#25256e" stroke="none" stroke-width="1"/>
<line x1="354.50" y1="337.20" x2="513.20" y2="337.20" stroke="#c0c0dc" stroke-width="0.5"/>
<text x="355.00" y="331.00" font-size="2.6" text-anchor="start" fill="#999">0 - 1.00</text>
<path d="M354.5,337.2L354.5,336.9 357.5,336.9 358,336.8 358.5,336.9 359,337 359.5,336.9 360.5,336.9 361,336.7 361.5,336.9 362,336.6 362.5,336.2 363,336.2 363.5,336.8 364,336.9 366,336.9 366.5,336.8 367,336.9 367.5,336.9 368,337 368.5,336.9 369,336.8 369.5,336.6 370,336.8 370.5,336.9 371,336.9 371.5,336.8 372,336.9 374,336.9 374.5,336.7 375,336.9 376.5,336.9 377,336.7 377.5,336.9 382.5,336.9 383,336.8 383.5,336.9 385,336.9 385.5,336.7 386,336.4 386.5,335.7 387,336.6 387.5,336.9 393,336.9 393.5,337 394,336.9 396.5,336.9 397,336.8 397.5,336.9 406,336.9 406.5,336.8 407,336.9 409,336.9 409.5,337 410,336.8 410.5,335.7 411,336 411.5,336.7 412,336.9 417.5,336.9 418,336.6 418.5,337 419,336.9 419.5,336.8 420,336.9 422.5,336.9 423,336.7 423.5,336.9 424,336.8 424.5,336.9 425,336.9 425.5,336.8 426,336.9 426.5,336.9 427,336.7 427.5,335.5 428,336.3 428.5,336.9 429,336.8 429.5,336.9 432,336.9 432.5,336.8 433,336.7 433.5,335.1 434,335.3 434.5,336.7 435,336.8 435.5,336.9 438.5,336.9 439,336.6 439.5,336.9 441,336.9 441.5,337 442,336.9 442.5,337 443,336.9 444,336.9 444.5,336.6 445,336.9 445.5,336.8 446,336.9 446.5,336.9 447,335.8 447.5,335.5 448,336.8 448.5,336.6 449,336.9 449.5,336.9 450,336.8 450.5,336.9 451.5,336.9 452,337 452.5,336.7 453,336.9 457.5,336.9 458,336.8 458.5,336.9 460.5,336.9 461,336.6 461.5,336.9 464,336.9 464.5,336.8 465,336.9 468,336.9 468.5,336.8 469,336.7 469.5,336.4 470,335.4 470.5,336.7 471,337 471.5,336.9 472,336.4 472.5,335.8 473,336.6 473.5,336.9 474,336.8 474.5,336.9 475.5,336.9 476,336.7 476.5,336.9 477.5,336.9 478,337 478.5,336.9 480.5,336.9 481,336.8 481.5,336.9 482,336.7 482.5,336.9 483,336.8 483.5,336.7 484,336.7 484.5,335.5 485,336.3 485.5,336.3 486,335.5 486.5,336.7 487,336.9 488,336.9 488.5,336.7 489,336.9 489.5,336.9 490,336.5 490.5,333.9 491,331.6 491.5,335.5 492,336.6 492.5,336.9 495.5,336.9 496,336.8 496.5,336.9 497,336.7 497.5,336.7 498,336.9 503.5,336.9 504,336.2 504.5,336.7 505,336.6 505.5,336.9 506,336.9 506.5,336.6 507,336.9 507.5,336.8 508,336.7 508.5,336.9 513,336.9 513.2,337.2Z" fill="#25256e" stroke="none" stroke-width="1"/>
<line x1="354.50" y1="346.20" x2="513.20" y2="346.20" stroke="#c8c8e4" stroke-width="0.5"/>
<text x="355.00" y="340.00" font-size="2.6" text-anchor="start" fill="#999">0 - 1.00</text>
<path d="M354.5,346.2L354.5,346.2 363.5,346.2 364,346 364.5,346.2 374.5,346.2 375,346 375.5,346.2 377.5,346.2 378,346.1 378.5,346.2 409.5,346.2 410,346 410.5,346.2 422,346.2 422.5,346 423,346.2 430,346.2 430.5,346.1 431,346.2 431.5,346.1 432,346.2 440,346.2 440.5,346 441,346.2 446.5,346.2 447,346.1 447.5,346.2 462.5,346.2 463,346.1 463.5,346.2 475,346.2 475.5,346.1 476,346.2 481,346.2 481.5,346 482,346.2 489.5,346.2 490,346.1 490.5,343.9 491,341.4 491.5,345.4 492,346 492.5,346.1 493,346.2 513,346.2 513.2,346.2Z" fill="#25256e" stroke="none" stroke-width="1"/>
<line x1="354.50" y1="355.00" x2="513.20" y2="355.00" stroke="#a8dcb8" stroke-width="0.5"/>
<text x="355.00" y="348.80" font-size="2.6" text-anchor="start" fill="#999">0 - 1.00</text>
<path d="M354.5,355.0L354.5,354.9 490,354.9 490.5,353.4 491,351.6 491.5,354.4 492,354.9 513,354.9 513.2,355.0Z" fill="#1f9a4c" stroke="none" stroke-width="1"/>
<line x1="354.50" y1="364.20" x2="513.20" y2="364.20" stroke="#e0b0d4" stroke-width="0.5"/>
<text x="355.00" y="358.00" font-size="2.6" text-anchor="start" fill="#999">0 - 1.00</text>
<path d="M354.5,364.2L354.5,362.8 355,363.2 355.5,363 356,362.3 356.5,363.2 357.5,363.2 358,362.4 358.5,363.1 359,363.2 361,363.2 361.5,361.9 362,362.2 362.5,362.7 363,362.2 363.5,362.8 364,363.2 364.5,363.3 365,363.2 366.5,363.2 367,362.5 367.5,363.2 368,364 368.5,363.2 369,363.4 369.5,363.6 370,363.9 370.5,361.9 371,363.2 371.5,363.2 372,363.3 372.5,363.2 373,363.2 373.5,362.2 374,361.8 374.5,363.2 375,362.1 375.5,363.2 376.5,363.2 377,362.1 377.5,363.2 378,361.9 378.5,363.2 380,363.2 380.5,362 381,362.2 381.5,362.1 382,362.9 382.5,363.2 383,363.2 383.5,362.1 384,363.2 384.5,362.7 385,363.2 385.5,363.2 386,363.1 386.5,363.2 387,362.7 387.5,363.2 388,363.6 388.5,362.9 389,363.2 389.5,363.2 390,362.8 390.5,361.9 391,363.2 394,363.2 394.5,362.7 395,362.9 395.5,362.2 396,363.6 396.5,362 397,363.2 397.5,363.2 398,362.5 398.5,362.4 399,363.2 399.5,363.2 400,364 400.5,363.2 401,362.6 401.5,362.5 402,363.5 402.5,363 403,363.2 403.5,363.2 404,363.5 404.5,363.2 405,363.2 405.5,363.4 406,362.8 406.5,363.2 407,362.4 407.5,363 408,362 408.5,364 409,362.3 409.5,363.2 410,362.6 410.5,363.2 411,363.2 411.5,362 412,363.9 412.5,363.2 413,362.3 413.5,363.8 414,363.5 414.5,363.2 415,363.9 415.5,362.1 416,362.1 416.5,361.9 417,363 417.5,363.2 418,363.2 418.5,363.7 419,363.2 419.5,363.2 420,362.4 420.5,362.8 421,361.9 421.5,363.6 422,363.3 422.5,364 423,363.6 423.5,363.2 424,362.8 424.5,363.2 425,363.8 425.5,363.2 426,363.2 426.5,362.8 427,363.2 427.5,363.7 428,363.2 428.5,362.2 429,363.6 429.5,363.9 430,363.1 430.5,363.2 431,363.2 431.5,361.8 432,363.4 432.5,363.2 433,363.2 433.5,363.1 434,363.2 434.5,362.4 435,363.7 435.5,363.2 436,362.5 436.5,363.5 437,362.8 437.5,363.2 438.5,363.2 439,362.4 439.5,362.2 440,362.7 440.5,363.2 441,363.9 441.5,362.2 442,362.7 442.5,362.1 443,363.4 443.5,363.1 444,363.2 446.5,363.2 447,362.9 447.5,362.2 448,363.2 448.5,362.4 449,363.2 449.5,362 450,363.2 450.5,363.2 451,363.5 451.5,364 452,363.6 452.5,363 453,362.5 453.5,362.6 454,363.7 454.5,363.2 455,363.2 455.5,363.1 456,363.3 456.5,363.6 457,363.2 457.5,363.9 458,363.2 458.5,362.9 459,363.8 459.5,363.8 460,363.2 460.5,363.8 461,361.9 461.5,363.2 462,363 462.5,363.3 463,362.2 463.5,363.2 464,363 464.5,362 465,363.6 465.5,362.2 466,363.2 466.5,363.2 467,362.2 467.5,363.2 468,362.4 468.5,363 469,363.2 469.5,362.4 470,363 470.5,362.2 471,363.6 471.5,363.2 472,362.4 472.5,362.7 473,364 473.5,363.2 474,363.2 474.5,362.6 475,361.9 475.5,362.4 476,363.5 476.5,363.1 477,363.2 478,363.2 478.5,363.1 479,362.4 479.5,362.4 480,363.2 480.5,362.2 481,363.2 482.5,363.2 483,362 483.5,363.2 484,363.2 484.5,362.4 485,361.8 485.5,362.6 486,363.2 486.5,363.2 487,363.7 487.5,363.2 488,362.8 488.5,363.5 489,362 489.5,362.8 490,363.2 490.5,364 491,363.2 491.5,363.2 492,362.1 492.5,363.1 493,361.3 493.5,360.3 494,358.3 494.5,360.9 495,362.4 495.5,362.6 496,364 496.5,362.5 497,363.2 497.5,362.1 498,363.6 498.5,363.3 499,363.2 499.5,363.5 500,362.6 500.5,363.2 501,363 501.5,363.2 502,363 502.5,363.2 503,362.2 503.5,362.3 504,363.2 504.5,362.5 505,363.2 505.5,363.2 506,363.3 506.5,363.8 507,362 507.5,363.1 508,362.4 508.5,362.9 509,363.2 510,363.2 510.5,361.8 511,363.2 511.5,361.9 512,363.2 512.5,364 513,362.8 513.2,364.2Z" fill="#a52a8c" stroke="none" stroke-width="1"/>
<text x="355.00" y="367.00" font-size="2.6" text-anchor="start" fill="#999">0 - 1.00</text>
<path d="M354.5,373.2L354.5,371.7 355,371.7 355.5,372.5 356,372.2 356.5,372.3 357,373 357.5,371.6 358,372.3 359,372.3 359.5,372.8 360,372.6 360.5,372.3 361,372.3 361.5,372.7 362,372.6 362.5,372.3 364,372.3 364.5,371.9 365,372.3 365.5,371.9 366,372.3 366.5,371.8 367,372.5 367.5,372.6 368,372.3 368.5,373 369,372.3 370,372.3 370.5,372.4 371,372.8 371.5,372.2 372,372.4 372.5,371.4 373,372.3 373.5,371.9 374,372.3 374.5,371.5 375,372.9 375.5,372.8 376,371.3 376.5,372.3 377,372.6 377.5,372.6 378,372.3 378.5,372.4 379,372.3 379.5,371.8 380,372.2 380.5,371.6 381,372.3 381.5,371.8 382,372.3 382.5,371.5 383,372.3 384.5,372.3 385,371.4 385.5,371.3 386,372.2 386.5,372.3 387,372.5 387.5,372.3 388,372.6 388.5,372.3 389,372 389.5,372.8 390,372.5 390.5,371.4 391,372.4 391.5,372.6 392,371.7 392.5,372.4 393,371.4 393.5,372.3 394,372.3 394.5,371.3 395,372.3 395.5,372.7 396,372.3 396.5,372.3 397,371.3 397.5,372.4 398,372.5 398.5,371.8 399,372.3 399.5,371.8 400,371.5 400.5,372.3 401,372.5 401.5,372.4 402,371.8 402.5,372.3 403.5,372.3 404,372.5 404.5,371.2 405,372.3 405.5,372.2 406,371.4 406.5,373 407,371.3 407.5,371.8 408,373 408.5,372 409,372.3 409.5,371.3 410,372.1 410.5,372.3 411,372.9 411.5,372.3 412,372.3 412.5,372.6 413,372.3 413.5,371.5 414,372.7 414.5,372.3 415,372.2 415.5,371.5 416,372.4 416.5,372.9 417,372.3 419.5,372.3 420,372 420.5,372.6 421,372 421.5,372.4 422,372.3 422.5,371.2 423,372.3 423.5,372.9 424,371.3 424.5,372.6 425,372.3 426,372.3 426.5,372.1 427,372.5 427.5,372.3 428.5,372.3 429,372.2 429.5,373 430,372.3 430.5,371.6 431,372.3 432,372.3 432.5,372.4 433,372.3 433.5,371.5 434,371.6 434.5,371.4 435,371.3 435.5,372.3 436,372.6 436.5,372.5 437,372 437.5,372.9 438,372.3 438.5,372.7 439,373 439.5,373 440,372.3 440.5,371.4 441,372.3 444,372.3 444.5,372.2 445,372.7 445.5,372.6 446,372.3 446.5,372.3 447,372.7 447.5,372.4 448,372.3 448.5,371.4 449,372.6 449.5,372.8 450,371.3 450.5,372.6 451,372.3 451.5,372.3 452,372.8 452.5,372.1 453,371.6 453.5,372.3 454,371.8 454.5,372.3 457.5,372.3 458,371.6 458.5,372.7 459,372.3 459.5,372.3 460,371.2 460.5,372.1 461,372.3 461.5,372.6 462,372 462.5,372.3 463,371.4 463.5,372.1 464,371.3 464.5,372 465,372.3 466,372.3 466.5,372.4 467,371.7 467.5,372.2 468,372.3 468.5,372.1 469,372.3 469.5,371.9 470,372.3 470.5,372.4 471,372.1 471.5,371.4 472,372.7 472.5,372.3 473,372.3 473.5,371.4 474,371.5 474.5,372.3 475,371.7 475.5,372.3 476,372.3 476.5,371.9 477,372.5 477.5,371.8 478,372.3 478.5,371.3 479,372.3 479.5,372.3 480,372.4 480.5,371.7 481,372.3 481.5,372.4 482,371.6 482.5,372.3 483,371.6 483.5,372.7 484,372.3 484.5,372.7 485,372.1 485.5,372.3 486,371.5 486.5,372.3 487,372.3 487.5,372.8 488,371.2 488.5,372.4 489,371.9 489.5,371.7 490,372.7 490.5,371.9 491,372.3 491.5,372.2 492,371.1 492.5,368.4 493,365.8 493.5,366.3 494,369.1 494.5,371.9 495,370.5 495.5,369.3 496,369.5 496.5,370.3 497,370.2 497.5,371.3 498,372.4 498.5,372.3 499.5,372.3 500,371.8 500.5,372.3 501,372.8 501.5,372.3 502,371.6 502.5,372.3 504.5,372.3 505,372 505.5,372.3 506,371.7 506.5,372.4 507,372.3 507.5,372.6 508,371.4 508.5,372.3 509,372.3 509.5,371.3 510,372.7 510.5,371.2 511,372.3 511.5,372.3 512,371.3 512.5,371.2 513,371.7 513.2,373.2Z" fill="#111" stroke="none" stroke-width="1"/>
<line x1="356.00" y1="375.90" x2="512.00" y2="375.90" stroke="#8a8ab0" stroke-width="0.5"/>
<path d="M357.3,375.0h1.2v1.8h-1.2ZM365.2,375.0h0.9v1.8h-0.9ZM367.5,375.0h0.9v1.8h-0.9ZM372.7,375.0h1.4v1.8h-1.4ZM373.9,375.0h1.2v1.8h-1.2ZM387.4,375.0h1.3v1.8h-1.3ZM388.7,375.0h1.1v1.8h-1.1ZM396.1,375.0h0.9v1.8h-0.9ZM397.8,375.0h1.5v1.8h-1.5ZM400.2,375.0h1.2v1.8h-1.2ZM404.4,375.0h0.9v1.8h-0.9ZM406.8,375.0h0.7v1.8h-0.7ZM409.2,375.0h0.8v1.8h-0.8ZM414.3,375.0h1.5v1.8h-1.5ZM416.3,375.0h0.7v1.8h-0.7ZM424.0,375.0h1.1v1.8h-1.1ZM428.8,375.0h1.0v1.8h-1.0ZM438.0,375.0h1.5v1.8h-1.5ZM443.0,375.0h1.0v1.8h-1.0ZM448.4,375.0h0.9v1.8h-0.9ZM461.2,375.0h1.2v1.8h-1.2ZM465.1,375.0h1.5v1.8h-1.5ZM469.1,375.0h1.0v1.8h-1.0ZM470.3,375.0h0.7v1.8h-0.7ZM475.2,375.0h1.1v1.8h-1.1ZM477.6,375.0h1.3v1.8h-1.3ZM486.3,375.0h0.9v1.8h-0.9ZM488.3,375.0h1.1v1.8h-1.1ZM500.9,375.0h1.5v1.8h-1.5ZM508.7,375.0h1.2v1.8h-1.2ZM498.6,375.0H502.6v1.8H498.6Z" fill="#3a3a88" stroke="none" stroke-width="1"/>
<rect x="486.60" y="319.40" width="9.00" height="57.90" fill="none" stroke="#c8385e" stroke-width="1.3"/>
<rect x="374.60" y="357.80" width="112.30" height="19.20" fill="none" stroke="#222" stroke-width="0.9" stroke-dasharray="0.9,1.1"/>
<rect x="491.90" y="358.00" width="5.00" height="18.50" fill="none" stroke="#222" stroke-width="0.9" stroke-dasharray="0.9,1.1"/>
<path d="M497.2,360.5 L499.8,360.5 L499.8,369.1 L497.2,369.1" fill="none" stroke="#222" stroke-width="0.8"/>
<circle cx="501.80" cy="359.07" r="0.95" fill="#222"/>
<circle cx="501.80" cy="361.62" r="0.95" fill="#222"/>
<circle cx="501.80" cy="364.18" r="0.95" fill="#222"/>
<circle cx="501.80" cy="366.73" r="0.95" fill="#222"/>
<path d="M491.30,311.30 L491.30,305.60 L485.60,305.60" fill="none" stroke="#111" stroke-width="1.2"/>
<path d="M482.60,305.60 L487.20,303.70 L487.20,307.50 Z" fill="#111" stroke="none" stroke-width="1"/>
<text x="461.00" y="309.00" font-size="8.8" text-anchor="start" fill="#1a1a1a" stroke="#1a1a1a" stroke-width="0.06" font-style="italic" textLength="20.3" lengthAdjust="spacingAndGlyphs">Xrcc4</text>
<line x1="486.60" y1="377.30" x2="384.30" y2="400.80" stroke="#c82a4c" stroke-width="1.0" stroke-dasharray="2.6,1.6"/>
<text x="351.30" y="397.30" font-size="8.6" text-anchor="end" fill="#333" stroke="#333" stroke-width="0.06" textLength="28" lengthAdjust="spacingAndGlyphs">Human:</text>
<text x="351.30" y="410.90" font-size="8.6" text-anchor="end" fill="#45458f" stroke="#45458f" stroke-width="0.06" textLength="44" lengthAdjust="spacingAndGlyphs">Notch/RBPJ</text>
<text x="351.30" y="419.30" font-size="8.6" text-anchor="end" fill="#45458f" stroke="#45458f" stroke-width="0.06" textLength="18.9" lengthAdjust="spacingAndGlyphs">ETS1</text>
<text x="351.30" y="428.60" font-size="8.6" text-anchor="end" fill="#45458f" stroke="#45458f" stroke-width="0.06" textLength="32.8" lengthAdjust="spacingAndGlyphs">H3K27ac</text>
<text x="351.30" y="437.80" font-size="8.6" text-anchor="end" fill="#d24848" stroke="#d24848" stroke-width="0.06" textLength="26.3" lengthAdjust="spacingAndGlyphs">CDC73</text>
<text x="351.30" y="446.20" font-size="8.6" text-anchor="end" fill="#3aa05e" stroke="#3aa05e" stroke-width="0.06" textLength="36.8" lengthAdjust="spacingAndGlyphs">ATAC-Seq</text>
<rect x="353.30" y="399.60" width="160.20" height="2.30" fill="#d6d6d6" stroke="none" stroke-width="1"/>
<line x1="353.30" y1="399.60" x2="513.50" y2="399.60" stroke="#a8a8a8" stroke-width="0.5"/>
<text x="390.00" y="397.40" font-size="2.8" text-anchor="start" fill="#9a9a9a">48,700 kb</text>
<line x1="394.00" y1="399.60" x2="394.00" y2="401.90" stroke="#999" stroke-width="0.4"/>
<text x="440.00" y="397.40" font-size="2.8" text-anchor="start" fill="#9a9a9a">48,700 kb</text>
<line x1="444.00" y1="399.60" x2="444.00" y2="401.90" stroke="#999" stroke-width="0.4"/>
<text x="490.00" y="397.40" font-size="2.8" text-anchor="start" fill="#9a9a9a">48,700 kb</text>
<line x1="494.00" y1="399.60" x2="494.00" y2="401.90" stroke="#999" stroke-width="0.4"/>
<line x1="353.30" y1="409.30" x2="513.50" y2="409.30" stroke="#b8b8d8" stroke-width="0.5"/>
<text x="353.80" y="403.10" font-size="2.6" text-anchor="start" fill="#999">0 - 1.00</text>
<path d="M353.3,409.3L353.3,408.6 353.8,409 354.3,409.1 354.8,408.4 355.3,408.7 355.8,408.5 356.3,409.1 357.8,409.1 358.3,409 358.8,409 359.3,408.7 359.8,408.9 360.3,408.2 360.8,407.9 361.3,408.7 361.8,408.6 362.3,409 362.8,408.7 363.3,409 363.8,408.7 364.3,407.4 364.8,408.5 365.3,409 365.8,409 366.3,408.9 366.8,409 367.3,409.1 369.3,409.1 369.8,408.8 370.3,408.6 370.8,409.1 371.3,408.9 371.8,409.1 372.3,408.7 372.8,409 373.3,408.8 373.8,409.1 374.3,408.8 374.8,408.6 375.3,409.1 376.3,409.1 376.8,409 378.3,409 378.8,407.6 379.3,403.2 379.8,406 380.3,408.8 380.8,409 381.3,408.5 381.8,408.6 382.3,409 382.8,409.1 383.3,409.1 383.8,408.8 384.3,409.1 384.8,409.1 385.3,408.4 385.8,409 386.3,408.6 386.8,408.9 387.3,408.4 387.8,408.8 388.3,409 389.8,409 390.3,408.6 390.8,408.5 391.3,407.3 391.8,408.4 392.3,409 393.8,409 394.3,408.5 394.8,408.4 395.3,407.5 395.8,408.7 396.3,409 396.8,408.7 397.3,409 397.8,409.1 398.8,409.1 399.3,409 399.8,408.9 400.3,409 400.8,408.6 401.3,408 401.8,407.6 402.3,408.6 402.8,409 403.3,409 403.8,408.8 404.3,409.1 405.8,409.1 406.3,408.6 406.8,409.1 407.3,408.5 407.8,409.1 408.3,408.8 408.8,409.1 409.3,408.5 409.8,409.1 410.3,409.1 410.8,408.6 411.3,408.7 411.8,408.9 412.3,409.1 413.8,409.1 414.3,408.7 414.8,409.1 415.3,408.7 415.8,408.5 416.3,409.1 417.8,409.1 418.3,408.6 418.8,409.1 419.3,408.6 419.8,408.9 420.3,408.8 420.8,409.1 421.3,408.8 421.8,408.6 422.3,409.1 422.8,409.1 423.3,408.4 423.8,409.1 425.3,409.1 425.8,409 426.3,408.9 426.8,408.8 427.3,408.6 427.8,408.9 428.3,408.7 428.8,409 429.3,409.1 429.8,408.9 430.3,408.9 430.8,408.7 431.3,408.7 431.8,409.1 432.3,409.1 432.8,408.9 433.3,409.1 433.8,409.1 434.3,409 434.8,408.8 435.3,409.1 435.8,409 436.8,409 437.3,408.8 437.8,407.6 438.3,408.4 438.8,409 440.8,409 441.3,409.1 443.3,409.1 443.8,408.6 444.3,409.1 444.8,409 445.3,409 445.8,409.1 447.8,409.1 448.3,409 449.3,409 449.8,408.8 450.3,408.1 450.8,408.7 451.3,409 451.8,409 452.3,408.8 452.8,409 453.3,409.1 453.8,408.8 454.3,408.6 454.8,409 455.3,408.9 455.8,408.8 456.3,408.5 456.8,408.8 457.3,409.1 457.8,408.8 458.3,409.1 458.8,408.6 459.3,408.5 459.8,409.1 460.3,408.7 460.8,409.1 461.3,409.1 461.8,408.8 462.3,408.8 462.8,409.1 463.3,409 463.8,409.1 464.3,409 464.8,409.1 465.3,408.4 465.8,409.1 466.3,409.1 466.8,408.6 467.3,409.1 467.8,408.7 468.3,408.6 468.8,408.8 469.3,409 469.8,409.1 470.8,409.1 471.3,409 471.8,409.1 472.3,409 472.8,409 473.3,409.1 473.8,408.5 474.3,409 474.8,408.6 475.3,408.9 475.8,409 476.8,409 477.3,408.7 477.8,408.1 478.3,407.2 478.8,408.5 479.3,408.7 479.8,409 480.3,408 480.8,408.1 481.3,408.7 481.8,408.4 482.3,409 482.8,409 483.3,408.7 483.8,408.7 484.3,408.6 484.8,407.6 485.3,408.7 485.8,408.4 486.3,408.5 486.8,408.7 487.3,408.7 487.8,409.1 488.3,409 489.3,409 489.8,408.5 490.3,408.4 490.8,408.3 491.3,409 491.8,408.6 492.3,407.5 492.8,407.9 493.3,409 493.8,409 494.3,408.5 494.8,408.9 495.3,408.8 495.8,409 496.3,408.7 496.8,409.1 497.3,408.5 497.8,409 498.3,409 498.8,408.8 499.3,407.6 499.8,408.3 500.3,408.9 500.8,409 501.3,408.9 501.8,409 502.3,409.1 502.8,408.9 503.3,408.6 503.8,409.1 504.3,408.8 504.8,409.1 505.3,409.1 505.8,408.8 506.3,409.1 506.8,409 507.3,408.9 507.8,409.1 508.3,409.1 508.8,409 509.3,408.5 509.8,409 510.3,409 510.8,408.1 511.3,408.5 511.8,408.8 512.8,408.8 513.3,409 513.5,409.3Z" fill="#25256e" stroke="none" stroke-width="1"/>
<line x1="353.30" y1="418.20" x2="513.50" y2="418.20" stroke="#c0c0dc" stroke-width="0.5"/>
<text x="353.80" y="412.00" font-size="2.6" text-anchor="start" fill="#999">0 - 1.00</text>
<path d="M353.3,418.2L353.3,417.7 353.8,417.9 354.3,417.9 354.8,417.7 355.3,417.9 355.8,417.8 356.3,417.9 358.3,417.9 358.8,417.8 359.3,417.9 360.3,417.9 360.8,417.7 361.3,417.9 362.3,417.9 362.8,417.8 363.3,416.9 363.8,417.2 364.3,417.9 364.8,417.7 365.3,417.9 365.8,417.8 366.3,417.7 366.8,417.7 367.3,417.9 370.3,417.9 370.8,417.8 371.3,417.9 371.8,417.6 372.3,417.9 372.8,417.6 373.3,417.8 373.8,417.9 375.8,417.9 376.3,417.6 376.8,417.9 378.3,417.9 378.8,416.1 379.3,411.7 379.8,414.3 380.3,417.6 380.8,417.9 381.3,417.7 381.8,417.9 382.8,417.9 383.3,418 383.8,417.9 387.8,417.9 388.3,418 388.8,417.9 389.3,417.7 389.8,417.9 391.8,417.9 392.3,417.7 392.8,417.9 394.8,417.9 395.3,417.7 395.8,417.9 397.8,417.9 398.3,417.8 398.8,417.9 400.8,417.9 401.3,417.7 401.8,417.9 402.3,418 402.8,417.9 403.3,417.8 403.8,417.7 404.3,417.8 404.8,417.9 409.8,417.9 410.3,418 410.8,417.9 413.3,417.9 413.8,417.7 414.3,417.5 414.8,416.6 415.3,417.5 415.8,417.9 416.8,417.9 417.3,417.4 417.8,417 418.3,417.6 418.8,417.9 420.3,417.9 420.8,417.7 421.3,417.9 422.3,417.9 422.8,417.7 423.3,417.9 424.8,417.9 425.3,417.7 425.8,417.9 429.3,417.9 429.8,418 430.3,417.9 430.8,417.6 431.3,417.8 431.8,417.9 432.8,417.9 433.3,417.8 433.8,417.9 434.3,417.9 434.8,417.4 435.3,417.4 435.8,417.7 436.3,417.9 436.8,417.9 437.3,417.7 437.8,417.9 439.3,417.9 439.8,417.7 440.3,417.9 440.8,417.8 441.3,417.9 442.8,417.9 443.3,417.7 443.8,416.5 444.3,417.4 444.8,417.9 445.3,417.9 445.8,417.7 446.3,417.9 446.8,417.8 447.3,417.7 447.8,417.9 448.8,417.9 449.3,418 449.8,417.9 450.3,417.7 450.8,417.9 451.3,417.7 451.8,418 452.3,417.9 453.8,417.9 454.3,418 454.8,417.6 455.3,417.9 455.8,417.9 456.3,417.6 456.8,417.9 457.8,417.9 458.3,417.8 458.8,417.9 459.8,417.9 460.3,418 460.8,418 461.3,417.9 461.8,417.9 462.3,418 462.8,417.9 467.3,417.9 467.8,418 468.3,417.9 469.3,417.9 469.8,417.6 470.3,417.9 470.8,417.9 471.3,417.8 471.8,417.7 472.3,417.9 472.8,417.6 473.3,417.9 475.3,417.9 475.8,417.8 476.3,417.9 476.8,417.9 477.3,417.6 477.8,417.7 478.3,417.9 478.8,417.9 479.3,417.7 479.8,417.9 480.8,417.9 481.3,417.8 481.8,417.9 482.3,417.9 482.8,417.6 483.3,417.8 483.8,417.9 484.3,417.9 484.8,417.8 485.3,418 485.8,417.7 486.3,417.7 486.8,417.9 487.3,417.9 487.8,418 488.3,417.8 488.8,417.9 489.8,417.9 490.3,417.7 490.8,417.7 491.3,417.9 491.8,417.6 492.3,417.9 493.8,417.9 494.3,417.8 494.8,417.9 495.8,417.9 496.3,417.7 496.8,417.9 498.8,417.9 499.3,417.8 499.8,417.9 502.8,417.9 503.3,417.7 503.8,417.8 504.3,417.9 504.8,417.7 505.3,417.7 505.8,417.9 507.3,417.9 507.8,417.7 508.3,417.9 509.3,417.9 509.8,417.6 510.3,417.4 510.8,416.2 511.3,417.4 511.8,417.9 512.8,417.9 513.3,417.8 513.5,418.2Z" fill="#25256e" stroke="none" stroke-width="1"/>
<line x1="353.30" y1="427.30" x2="513.50" y2="427.30" stroke="#c8c8e4" stroke-width="0.5"/>
<text x="353.80" y="421.10" font-size="2.6" text-anchor="start" fill="#999">0 - 1.00</text>
<path d="M353.3,427.3L353.3,427.2 353.8,427.2 354.3,426.9 354.8,427.2 355.3,427 355.8,427 356.3,427.2 356.8,427 357.3,427.1 357.8,427.2 358.3,427 358.8,427.2 359.3,427 359.8,427.2 360.8,427.2 361.3,427.1 361.8,427.2 362.3,427 362.8,427.2 367.3,427.2 367.8,427 368.3,427.2 368.8,427 369.3,427.2 369.8,427 370.3,427.2 371.8,427.2 372.3,427.1 372.8,427 373.3,427.2 373.8,427.2 374.3,427.1 374.8,426.9 375.3,426.9 375.8,427.2 376.3,427.2 376.8,427.1 377.3,426.9 377.8,427.1 378.3,427.1 378.8,426.1 379.3,421.3 379.8,424.4 380.3,427 380.8,427.1 381.8,427.1 382.3,427.2 382.8,426.9 383.3,426.9 383.8,427.2 387.3,427.2 387.8,427 388.3,427.2 389.8,427.2 390.3,427 390.8,427.2 391.3,427.1 391.8,427.2 392.3,427 392.8,427.2 393.3,427.2 393.8,427 394.3,427.2 395.8,427.2 396.3,427.1 396.8,427.2 410.3,427.2 410.8,427.1 411.3,427.1 411.8,427.2 418.3,427.2 418.8,427.1 419.3,427.2 419.8,427.2 420.3,427.1 420.8,427.2 423.8,427.2 424.3,427 424.8,427.2 425.8,427.2 426.3,427 426.8,427.2 434.8,427.2 435.3,427.1 435.8,427.2 436.3,427 436.8,427.2 439.3,427.2 439.8,427 440.3,427.2 440.8,427 441.3,427.2 441.8,427 442.3,427.2 442.8,427 443.3,427.2 445.8,427.2 446.3,427 446.8,427.2 447.3,427.2 447.8,427 448.3,427.2 452.3,427.2 452.8,427.1 453.3,427.2 456.3,427.2 456.8,427.1 457.3,427.2 457.8,427.1 458.3,427.1 458.8,427.2 465.8,427.2 466.3,427.1 466.8,427.1 467.3,427.2 468.8,427.2 469.3,427 469.8,427 470.3,427.2 470.8,426.9 471.3,426.9 471.8,427.2 472.3,427.2 472.8,427.1 473.3,427.2 473.8,427.2 474.3,427.1 474.8,427.2 476.8,427.2 477.3,427.1 477.8,427.2 478.3,426.9 478.8,427 479.8,427 480.3,427.1 480.8,427 481.3,427.2 483.3,427.2 483.8,427 484.3,427.2 485.3,427.2 485.8,426.9 486.3,427.2 491.3,427.2 491.8,427.1 492.3,427.2 496.3,427.2 496.8,427 497.3,427.2 501.3,427.2 501.8,426.9 502.3,427.2 503.3,427.2 503.8,427 504.3,427.2 510.8,427.2 511.3,426.9 511.8,427.2 512.8,427.2 513.3,427.1 513.5,427.3Z" fill="#25256e" stroke="none" stroke-width="1"/>
<line x1="353.30" y1="436.50" x2="513.50" y2="436.50" stroke="#f0b0b0" stroke-width="0.5"/>
<text x="353.80" y="430.30" font-size="2.6" text-anchor="start" fill="#999">0 - 1.00</text>
<path d="M353.3,436.5L353.3,435.3 353.8,434.9 354.3,434.9 354.8,434.4 355.3,433.5 355.8,434.5 356.3,433.2 356.8,433.9 357.3,434.8 357.8,433.5 358.3,433.6 358.8,433.8 359.3,433 359.8,432.4 360.3,433.9 360.8,433.9 361.3,431.9 361.8,430.5 362.3,430 362.8,431.8 363.3,431.6 363.8,431.9 364.3,432.3 364.8,434 365.3,433.8 365.8,432.1 366.3,433.5 366.8,432.1 367.3,432.8 367.8,432.5 368.3,432.1 368.8,434 369.3,433.7 369.8,432 370.3,431.9 370.8,432.3 371.3,431.6 371.8,429.2 372.3,429.6 372.8,430.9 373.3,433.7 373.8,433.8 374.3,434 374.8,433.4 375.3,433.2 375.8,431.7 376.3,432.9 376.8,432.1 377.3,430.8 377.8,430.4 378.3,430.5 378.8,431.6 379.3,433 379.8,432.6 380.3,432.1 380.8,432.9 381.3,432.9 381.8,429.8 382.3,429.3 382.8,434.6 383.3,433.6 383.8,433 384.3,433.7 384.8,434.4 385.3,434 385.8,434.4 386.3,434.4 386.8,434.6 387.3,435 387.8,435.5 388.3,435.3 388.8,434.9 389.3,435.4 389.8,434.6 390.3,434.3 390.8,434.6 391.3,435.3 391.8,435.3 392.3,435.8 392.8,434.9 393.3,434.3 393.8,435.3 394.8,435.3 395.3,436.2 395.8,434.7 396.3,435.3 396.8,434.3 397.3,434 397.8,435.4 398.3,435.3 400.3,435.3 400.8,435.2 401.3,434.8 401.8,436.2 402.3,434.2 402.8,435.3 403.8,435.3 404.3,436.1 404.8,434.1 405.3,436.1 405.8,434.1 406.3,435.8 406.8,435.7 407.3,435.3 407.8,434.4 408.3,435.3 408.8,434 409.3,436.2 409.8,434.8 410.3,435.3 411.8,435.3 412.3,434.3 412.8,435.3 413.3,436.2 413.8,435.3 414.3,435.2 414.8,436.2 415.3,435.3 415.8,434.2 416.3,434.2 416.8,435.3 417.3,435.3 417.8,434.2 418.3,435.2 418.8,435.2 419.3,435.3 420.3,435.3 420.8,434.9 421.3,435.9 421.8,435.3 422.3,435.3 422.8,435.2 423.3,435.3 423.8,435.2 424.3,434 424.8,435.3 426.8,435.3 427.3,434.8 427.8,436.1 428.3,435.8 428.8,434.6 429.3,434.1 429.8,435.7 430.3,435.1 430.8,435.3 431.3,435.1 431.8,434.1 432.3,435.6 432.8,435.3 433.3,434.8 433.8,436 434.3,434.5 434.8,435.3 437.3,435.3 437.8,434.4 438.3,434.3 438.8,435.3 439.3,435.6 439.8,436 440.3,435.3 440.8,435.5 441.3,435.3 441.8,435.8 442.3,435.3 442.8,436.2 443.3,435.3 443.8,435 444.3,435.3 445.8,435.3 446.3,435.5 446.8,435.3 447.3,435.3 447.8,434.5 448.3,435.6 448.8,435.3 449.3,436.2 449.8,435.3 450.3,435.3 450.8,435.1 451.3,434 451.8,433.9 452.3,435.3 452.8,435.7 453.3,435.3 453.8,435.3 454.3,436.2 454.8,434.8 455.3,434.9 455.8,435.2 456.3,434.2 456.8,434.1 457.3,436.2 457.8,435.8 458.3,435.3 458.8,435.3 459.3,434.5 459.8,435.3 460.3,435.3 460.8,435.7 461.3,435.3 461.8,435.4 462.3,435.3 462.8,436.1 463.3,435.3 463.8,435.5 464.3,436 464.8,436.2 465.3,434 465.8,436.2 466.3,435.3 466.8,435.3 467.3,434.8 467.8,435.3 468.3,434.5 468.8,436.2 469.3,435.3 469.8,435.3 470.3,434.7 470.8,436 471.3,435.3 471.8,436.2 472.3,435.3 472.8,435 473.3,435.3 473.8,434.4 474.3,435.7 474.8,434.7 475.3,436.1 475.8,435.3 476.3,436.3 476.8,434.8 477.3,435.9 477.8,434.7 478.3,434.1 478.8,434.3 479.3,436 479.8,435.8 480.3,435.8 480.8,435.3 481.3,435.6 481.8,435.3 482.3,434.9 482.8,435.3 483.3,435.3 483.8,435.1 484.3,435.3 484.8,434.9 485.3,435.3 485.8,434.6 486.3,436.2 486.8,435.3 487.3,434.4 487.8,436 488.3,435.3 488.8,434.2 489.3,435.5 489.8,435.3 490.3,435.4 490.8,435.3 491.8,435.3 492.3,434.2 492.8,435.3 493.8,435.3 494.3,435.2 494.8,436.2 495.3,435.5 495.8,435.3 496.3,435.3 496.8,434.4 497.3,435.3 497.8,436.2 498.3,435.3 498.8,435.5 499.3,434.7 499.8,435.3 501.3,435.3 501.8,436.1 502.3,435.3 502.8,435.4 503.3,435.3 503.8,434.2 504.3,435.3 504.8,435.7 505.3,435.3 505.8,434.1 506.3,435.3 506.8,436 507.3,435.3 507.8,435.2 508.3,435.3 508.8,435.3 509.3,434 509.8,435.3 513.3,435.3 513.5,436.5Z" fill="#d42d2d" stroke="none" stroke-width="1"/>
<text x="353.80" y="439.10" font-size="2.6" text-anchor="start" fill="#999">0 - 1.00</text>
<path d="M353.3,445.3L353.3,445.2 378.3,445.2 378.8,444.6 379.3,441.4 379.8,443.4 380.3,445.2 513.3,445.2 513.5,445.3Z" fill="#1f9a4c" stroke="none" stroke-width="1"/>
<line x1="369.70" y1="449.80" x2="505.20" y2="449.80" stroke="#8a8ab0" stroke-width="0.5"/>
<path d="M383.4,448.9h1.1v1.8h-1.1ZM387.4,448.9h1.5v1.8h-1.5ZM393.1,448.9h1.2v1.8h-1.2ZM400.2,448.9h1.6v1.8h-1.6ZM406.4,448.9h1.1v1.8h-1.1ZM422.1,448.9h1.4v1.8h-1.4ZM434.4,448.9h1.3v1.8h-1.3ZM471.6,448.9h1.1v1.8h-1.1ZM370.7,448.9H373.2v1.8H370.7Z" fill="#3a3a88" stroke="none" stroke-width="1"/>
<rect x="375.50" y="401.00" width="8.80" height="52.50" fill="none" stroke="#c8385e" stroke-width="1.3"/>
<path d="M386.60,393.00 L386.60,388.70 L391.50,388.70" fill="none" stroke="#111" stroke-width="1.2"/>
<path d="M394.50,388.70 L389.90,386.80 L389.90,390.60 Z" fill="#111" stroke="none" stroke-width="1"/>
<text x="396.40" y="393.00" font-size="8.8" text-anchor="start" fill="#1a1a1a" stroke="#1a1a1a" stroke-width="0.06" font-style="italic" textLength="25.6" lengthAdjust="spacingAndGlyphs">XRCC4</text>
<text x="87.40" y="487.10" font-size="8.6" text-anchor="end" fill="#333" stroke="#333" stroke-width="0.06" textLength="26.5" lengthAdjust="spacingAndGlyphs">Mouse:</text>
<text x="87.40" y="502.20" font-size="8.6" text-anchor="end" fill="#45458f" stroke="#45458f" stroke-width="0.06" textLength="42.5" lengthAdjust="spacingAndGlyphs">Notch/Rbpj</text>
<text x="87.40" y="511.00" font-size="8.6" text-anchor="end" fill="#45458f" stroke="#45458f" stroke-width="0.06" textLength="15.4" lengthAdjust="spacingAndGlyphs">Ets1</text>
<text x="87.40" y="519.70" font-size="8.6" text-anchor="end" fill="#45458f" stroke="#45458f" stroke-width="0.06" textLength="32.8" lengthAdjust="spacingAndGlyphs">H3K27ac</text>
<text x="87.40" y="528.40" font-size="8.6" text-anchor="end" fill="#3aa05e" stroke="#3aa05e" stroke-width="0.06" textLength="36.8" lengthAdjust="spacingAndGlyphs">ATAC-Seq</text>
<text x="87.40" y="537.60" font-size="8.6" text-anchor="end" fill="#c150a0" stroke="#c150a0" stroke-width="0.06" textLength="68.5" lengthAdjust="spacingAndGlyphs">H2BK120ub1 Cntrl</text>
<text x="87.40" y="546.80" font-size="8.6" text-anchor="end" fill="#222" stroke="#222" stroke-width="0.06" textLength="67.7" lengthAdjust="spacingAndGlyphs">H2BK120ub1 OHT</text>
<rect x="90.20" y="491.90" width="162.80" height="1.80" fill="#d6d6d6" stroke="none" stroke-width="1"/>
<line x1="90.20" y1="491.90" x2="253.00" y2="491.90" stroke="#a8a8a8" stroke-width="0.5"/>
<text x="92.00" y="489.70" font-size="2.8" text-anchor="start" fill="#9a9a9a">48,700 kb</text>
<line x1="96.00" y1="491.90" x2="96.00" y2="493.70" stroke="#999" stroke-width="0.4"/>
<text x="125.00" y="489.70" font-size="2.8" text-anchor="start" fill="#9a9a9a">48,700 kb</text>
<line x1="129.00" y1="491.90" x2="129.00" y2="493.70" stroke="#999" stroke-width="0.4"/>
<text x="157.00" y="489.70" font-size="2.8" text-anchor="start" fill="#9a9a9a">48,700 kb</text>
<line x1="161.00" y1="491.90" x2="161.00" y2="493.70" stroke="#999" stroke-width="0.4"/>
<text x="190.00" y="489.70" font-size="2.8" text-anchor="start" fill="#9a9a9a">48,700 kb</text>
<line x1="194.00" y1="491.90" x2="194.00" y2="493.70" stroke="#999" stroke-width="0.4"/>
<text x="224.00" y="489.70" font-size="2.8" text-anchor="start" fill="#9a9a9a">48,700 kb</text>
<line x1="228.00" y1="491.90" x2="228.00" y2="493.70" stroke="#999" stroke-width="0.4"/>
<line x1="90.20" y1="503.40" x2="253.00" y2="503.40" stroke="#c0c0dc" stroke-width="0.5"/>
<text x="90.70" y="497.20" font-size="2.6" text-anchor="start" fill="#999">0 - 1.00</text>
<path d="M90.2,503.4L90.2,503.1 97.2,503.1 97.7,503.2 98.2,503.1 103.2,503.1 103.7,503.2 104.2,503 104.7,503.1 105.2,503.1 105.7,503.2 106.2,503.1 112.2,503.1 112.7,503 113.2,503.1 116.2,503.1 116.7,503.2 117.2,503.1 122.7,503.1 123.2,503.2 123.7,503.1 134.2,503.1 134.7,503.2 135.2,503.1 135.7,503 136.2,503.1 137.7,503.1 138.2,503 138.7,503.1 139.7,503.1 140.2,503.2 140.7,503 141.2,503.1 145.2,503.1 145.7,503.2 146.2,503.1 149.7,503.1 150.2,503.2 150.7,503.2 151.2,503.1 151.7,503 152.2,503.1 153.7,503.1 154.2,503.2 154.7,503.1 159.2,503.1 159.7,503.2 160.2,503.1 160.7,503.1 161.2,503 161.7,503.1 163.2,503.1 163.7,503.2 164.2,503.1 166.7,503.1 167.2,503.2 167.7,503.1 171.2,503.1 171.7,502.8 172.2,499.3 172.7,496.6 173.2,501.3 173.7,503.1 174.2,503 174.7,503.2 175.2,503.2 175.7,503.1 177.2,503.1 177.7,503.2 178.2,503.1 179.7,503.1 180.2,503 180.7,503.1 182.2,503.1 182.7,502.6 183.2,502.3 183.7,503 184.2,503.1 195.2,503.1 195.7,502.8 196.2,501.3 196.7,502.2 197.2,503.1 201.7,503.1 202.2,503 202.7,503.1 207.2,503.1 207.7,503.2 208.2,503.1 211.2,503.1 211.7,503 212.2,503.1 212.7,503.2 213.2,503.1 222.2,503.1 222.7,503 223.2,502.4 223.7,502.9 224.2,503.1 237.2,503.1 237.7,502.9 238.2,502.5 238.7,503 239.2,503.1 243.2,503.1 243.7,503.2 244.2,503.1 245.7,503.1 246.2,503.2 246.7,503.1 249.7,503.1 250.2,503.2 250.7,503.1 251.2,503.1 251.7,503.2 252.2,503.1 252.7,503.1 253.0,503.4Z" fill="#25256e" stroke="none" stroke-width="1"/>
<line x1="90.20" y1="512.60" x2="253.00" y2="512.60" stroke="#c0c0dc" stroke-width="0.5"/>
<text x="90.70" y="506.40" font-size="2.6" text-anchor="start" fill="#999">0 - 1.00</text>
<path d="M90.2,512.6L90.2,512.4 90.7,512.1 91.2,512.4 92.7,512.4 93.2,512.2 93.7,512.4 94.2,512.3 95.7,512.3 96.2,511.8 96.7,510.6 97.2,511.8 97.7,512.3 99.2,512.3 99.7,512.4 100.7,512.4 101.2,512.2 101.7,512.4 102.2,512.3 102.7,512.4 103.2,512.4 103.7,512.2 104.2,512.3 104.7,512.4 108.2,512.4 108.7,512.1 109.2,512.3 109.7,512.4 110.2,512.4 110.7,512.3 111.2,512.4 113.2,512.4 113.7,512.3 114.2,512.4 115.7,512.4 116.2,512.2 116.7,512.4 117.7,512.4 118.2,512.2 118.7,512.4 122.2,512.4 122.7,512.2 123.2,512.4 124.7,512.4 125.2,512.3 126.2,512.3 126.7,512.2 127.2,510.8 127.7,511.2 128.2,512.3 128.7,512.3 129.2,512.1 129.7,512.3 130.2,512.3 130.7,512.4 137.7,512.4 138.2,512.2 138.7,512.4 139.2,512.4 139.7,512.3 140.2,512.4 140.7,512.1 141.2,512.4 145.2,512.4 145.7,512.2 146.2,512.3 146.7,512.2 147.2,512.4 148.7,512.4 149.2,512.3 150.7,512.3 151.2,511.2 151.7,510.9 152.2,512.2 152.7,512.3 153.7,512.3 154.2,512.4 156.2,512.4 156.7,512.2 157.2,512.1 157.7,512.4 158.2,512.4 158.7,512.3 159.2,512.4 161.2,512.4 161.7,512.2 162.2,512.4 162.7,512.4 163.2,512.3 163.7,512.4 165.2,512.4 165.7,512.3 166.2,512.4 166.7,512.2 167.2,512.4 167.7,512.4 168.2,512.3 168.7,512.4 169.2,512.4 169.7,512.3 170.7,512.3 171.2,512.2 171.7,512 172.2,508.2 172.7,505.6 173.2,510.5 173.7,512.3 174.2,512.1 174.7,512.2 175.2,512.3 175.7,512.4 177.2,512.4 177.7,512.2 178.2,512.4 179.7,512.4 180.2,512.3 180.7,512.2 181.2,512.4 181.7,512.1 182.2,512.3 182.7,512.4 183.7,512.4 184.2,512.3 184.7,512.4 185.2,512.4 185.7,512.3 186.2,512.4 186.7,512.1 187.2,512.1 187.7,512.4 188.7,512.4 189.2,512.3 189.7,512.4 190.2,512.3 190.7,512.4 193.7,512.4 194.2,512.2 194.7,512.4 195.2,512.3 195.7,512.4 199.7,512.4 200.2,512.1 200.7,512.1 201.2,512.4 203.2,512.4 203.7,512.2 204.2,512.4 205.7,512.4 206.2,512.2 206.7,512.4 213.2,512.4 213.7,512.3 214.2,512.4 226.2,512.4 226.7,512.3 227.2,512.4 227.7,512.4 228.2,512.2 228.7,512.4 230.2,512.4 230.7,512.3 231.2,512.1 231.7,512.4 237.7,512.4 238.2,512.2 238.7,512.4 239.2,512.3 239.7,512.4 242.7,512.4 243.2,512.3 243.7,512.4 245.7,512.4 246.2,512.2 246.7,512.4 247.7,512.4 248.2,512.3 248.7,512.4 249.7,512.4 250.2,512.1 250.7,512.3 251.2,512.3 251.7,512.4 252.7,512.4 253.0,512.6Z" fill="#25256e" stroke="none" stroke-width="1"/>
<line x1="90.20" y1="521.40" x2="253.00" y2="521.40" stroke="#c8c8e4" stroke-width="0.5"/>
<text x="90.70" y="515.20" font-size="2.6" text-anchor="start" fill="#999">0 - 1.00</text>
<path d="M90.2,521.4L90.2,521.4 121.7,521.4 122.2,521.2 122.7,521.4 141.7,521.4 142.2,521.3 142.7,521.4 171.2,521.4 171.7,521.1 172.2,518 172.7,515.6 173.2,519.8 173.7,521.3 174.2,521.4 176.7,521.4 177.2,521.3 177.7,521.4 189.7,521.4 190.2,521.2 190.7,521.4 198.7,521.4 199.2,521.2 199.7,521.4 212.7,521.4 213.2,521.3 213.7,521.4 217.2,521.4 217.7,521.3 218.2,521.4 227.7,521.4 228.2,521.2 228.7,521.4 230.7,521.4 231.2,521.3 231.7,521.4 236.7,521.4 237.2,521.3 237.7,521.4 239.2,521.4 239.7,521.2 240.2,521.4 245.2,521.4 245.7,521.3 246.2,521.4 252.7,521.4 253.0,521.4Z" fill="#25256e" stroke="none" stroke-width="1"/>
<line x1="90.20" y1="530.80" x2="253.00" y2="530.80" stroke="#a8dcb8" stroke-width="0.5"/>
<text x="90.70" y="524.60" font-size="2.6" text-anchor="start" fill="#999">0 - 1.00</text>
<path d="M90.2,530.8L90.2,530.8 102.2,530.8 102.7,530.7 103.2,530.8 108.2,530.8 108.7,530.7 109.2,530.8 132.7,530.8 133.2,530.7 133.7,530.8 144.7,530.8 145.2,530.7 145.7,530.8 169.7,530.8 170.2,530.7 171.7,530.7 172.2,529.8 172.7,525.5 173.2,528.3 173.7,530.6 174.2,530.7 175.2,530.7 175.7,530.8 252.7,530.8 253.0,530.8Z" fill="#1f9a4c" stroke="none" stroke-width="1"/>
<line x1="90.20" y1="539.50" x2="253.00" y2="539.50" stroke="#e0b0d4" stroke-width="0.5"/>
<text x="90.70" y="533.30" font-size="2.6" text-anchor="start" fill="#999">0 - 1.00</text>
<path d="M90.2,539.5L90.2,538.8 90.7,538.8 91.2,539.2 91.7,539.1 92.2,539.2 94.7,539.2 95.2,538.6 95.7,539.3 96.2,539.1 96.7,539.2 97.2,538.7 97.7,539.1 98.2,538.7 98.7,539.2 99.2,538.7 99.7,539.2 100.2,538.7 100.7,539.2 101.2,539.2 101.7,539 102.2,539.2 104.7,539.2 105.2,539.1 105.7,538.8 106.2,539.2 106.7,539.2 107.2,538.8 107.7,539.2 108.2,539 108.7,539.2 109.7,539.2 110.2,539.1 110.7,539.2 113.2,539.2 113.7,539 114.2,539.3 114.7,539.2 115.7,539.2 116.2,538.8 116.7,539.2 117.2,539.2 117.7,538.8 118.2,538.8 118.7,539.2 119.2,538.9 119.7,539.2 121.7,539.2 122.2,538.6 122.7,538.9 123.2,539.2 124.2,539.2 124.7,538.9 125.2,539.2 125.7,539.2 126.2,538.6 126.7,538.8 127.2,539.2 127.7,539.3 128.2,539.3 128.7,539.2 129.2,539.2 129.7,538.7 130.2,538.9 130.7,539.2 132.2,539.2 132.7,538.9 133.2,539.2 134.7,539.2 135.2,538.8 135.7,539.2 136.2,539 136.7,539.3 137.2,538.7 137.7,538.6 138.2,538.9 138.7,538.9 139.2,539.2 139.7,538.7 140.2,539 140.7,539.2 141.2,539.2 141.7,539.3 142.2,538.7 142.7,539.2 143.2,538.9 143.7,538.8 144.2,539.1 144.7,539.2 145.2,539.2 145.7,539.1 146.2,539.1 146.7,539.2 147.2,539 147.7,539.2 148.2,539.2 148.7,539 149.2,539.2 149.7,538.7 150.2,538.5 150.7,537.8 151.2,538.2 151.7,537.8 152.2,537.3 152.7,536.8 153.2,536.4 153.7,536.4 154.2,538 154.7,536.2 155.2,536.4 155.7,536.4 156.2,537 156.7,537.2 157.2,537.2 157.7,537.6 158.2,536 158.7,536.1 159.2,537.1 159.7,536.6 160.2,536.7 160.7,537.8 161.2,535.8 161.7,536.9 162.2,537.6 162.7,535.9 163.2,536.1 163.7,537.5 164.2,536.4 164.7,537.5 165.2,537.7 165.7,538.2 166.2,538.1 166.7,537.7 167.2,537.3 167.7,538.6 168.2,538.3 168.7,538.8 169.2,539.2 169.7,538.6 170.2,539.2 170.7,539.2 171.2,538.9 171.7,539.1 172.2,539.2 173.2,539.2 173.7,538.9 174.2,539.2 176.2,539.2 176.7,538.8 177.2,539.2 177.7,538.9 178.2,539.2 178.7,538.6 179.2,539.2 179.7,539 180.2,538.9 180.7,539.2 181.7,539.2 182.2,539.1 182.7,539.2 183.2,539.2 183.7,539.1 184.2,539.3 184.7,539.2 187.2,539.2 187.7,538.6 188.2,539.2 190.2,539.2 190.7,539.3 191.2,539.2 191.7,539.2 192.2,539.1 192.7,539.2 193.2,538.9 193.7,539.2 197.2,539.2 197.7,538.9 198.2,538.8 198.7,538.7 199.2,539.2 199.7,539 200.2,539.2 202.2,539.2 202.7,538.7 203.2,539.2 203.7,538.7 204.2,538.7 204.7,539 205.2,539.2 205.7,539.2 206.2,538.9 206.7,539.1 207.2,539.2 208.2,539.2 208.7,538.7 209.2,539.2 210.7,539.2 211.2,538.6 211.7,538.7 212.2,538.8 212.7,539.2 215.2,539.2 215.7,538.9 216.2,538.9 216.7,538.7 217.2,539.2 219.2,539.2 219.7,539.3 220.2,539 220.7,539.2 221.2,538.9 221.7,539.2 222.2,539.1 222.7,539.2 224.7,539.2 225.2,538.9 225.7,538.8 226.2,539 226.7,539.2 228.7,539.2 229.2,538.7 229.7,539.2 230.7,539.2 231.2,539 231.7,538.8 232.2,538.7 232.7,539.2 235.2,539.2 235.7,539.1 236.2,539.2 236.7,538.7 237.2,539.1 237.7,539.2 238.2,538.7 238.7,538.6 239.2,539.2 240.2,539.2 240.7,538.9 241.2,539.2 241.7,538.8 242.2,538.6 242.7,538.7 243.2,539.2 243.7,539 244.2,539.2 244.7,539.1 245.2,539.2 246.2,539.2 246.7,538.9 247.2,539.2 247.7,539.1 248.2,539.2 248.7,538.9 249.2,539.2 249.7,539.3 250.2,539.2 251.7,539.2 252.2,539.3 252.7,538.9 253.0,539.5Z" fill="#a52a8c" stroke="none" stroke-width="1"/>
<text x="90.70" y="542.60" font-size="2.6" text-anchor="start" fill="#999">0 - 1.00</text>
<path d="M90.2,548.8L90.2,547.9 91.2,547.9 91.7,547.8 92.2,547.9 92.7,547.9 93.2,548.2 93.7,547.4 94.2,547.9 94.7,548.4 95.2,547.9 95.7,547.8 96.2,547.6 96.7,547.8 97.2,548.2 97.7,547.4 98.2,548.1 98.7,548 99.2,546.9 99.7,546.5 100.2,546.6 100.7,546.5 101.2,546.5 101.7,547.7 102.2,547.9 102.7,547.5 103.2,547.9 103.7,547.7 104.2,547.9 105.2,547.9 105.7,547.3 106.2,547.9 106.7,548.5 107.2,547.9 107.7,547.9 108.2,547.1 108.7,547.9 109.7,547.9 110.2,548.5 110.7,547.9 111.7,547.9 112.2,547.5 112.7,547.7 113.2,547.9 113.7,547.1 114.2,547.4 114.7,547.7 115.2,548.1 115.7,547.9 116.2,547.3 116.7,547.9 117.7,547.9 118.2,548 118.7,547.9 119.2,547.9 119.7,547.5 120.2,547.9 120.7,548.1 121.2,547.9 121.7,548.3 122.2,548.5 122.7,547.9 123.2,548.1 123.7,547.9 124.2,547.1 124.7,547.9 125.2,548.5 125.7,547.1 126.2,547.9 126.7,548.5 127.2,547.2 127.7,547.9 130.2,547.9 130.7,548.4 131.2,547.9 131.7,548.1 132.2,547.9 132.7,547.1 133.2,548.4 133.7,548.4 134.2,547.9 138.7,547.9 139.2,547.3 139.7,547.7 140.2,547.9 141.2,547.9 141.7,547.1 142.2,548.2 142.7,547.9 143.2,547.6 143.7,548.3 144.2,547.9 144.7,547.9 145.2,548.2 145.7,547.9 146.2,548 146.7,547.9 147.2,547.6 147.7,548 148.2,547.9 148.7,547.1 149.2,547.9 149.7,547.9 150.2,547 150.7,547.1 151.2,548 151.7,547.3 152.2,545.7 152.7,546.6 153.2,546.3 153.7,547.1 154.2,546.8 154.7,546.8 155.2,547.1 155.7,546.2 156.2,546.3 156.7,544.5 157.2,546.8 157.7,546.2 158.2,545.6 158.7,545.8 159.2,546.8 159.7,546.3 160.2,546.1 160.7,545.7 161.2,545.3 161.7,545.3 162.2,546.2 162.7,546.2 163.2,546.7 163.7,545 164.2,546.9 164.7,546.1 165.2,545.5 165.7,545.8 166.2,546.3 166.7,546.9 167.2,546.6 167.7,547.3 168.2,547.6 168.7,547.7 169.2,547.2 169.7,547.9 170.7,547.9 171.2,547.2 171.7,548.2 172.2,547.9 172.7,547.9 173.2,548.1 173.7,547.9 174.2,547.9 174.7,547.4 175.2,547.8 175.7,547.9 176.2,547.9 176.7,548 177.2,547.9 177.7,547.3 178.2,547.7 178.7,547.9 179.2,547.4 179.7,547.6 180.2,548.2 180.7,547.7 181.2,548.5 181.7,547.7 182.2,547.9 182.7,547.7 183.2,547.9 183.7,547.9 184.2,547 184.7,548.2 185.2,547.9 185.7,548.2 186.2,547.9 186.7,547.5 187.2,548.4 187.7,547.9 188.2,547.9 188.7,548.4 189.2,547.9 190.2,547.9 190.7,548.2 191.2,547.9 191.7,547.4 192.2,547.9 194.7,547.9 195.2,548.3 195.7,547.9 196.2,547.9 196.7,548.3 197.2,547.9 197.7,547.5 198.2,547.7 198.7,547.9 200.7,547.9 201.2,548.4 201.7,547.8 202.2,548 202.7,547.9 203.2,547.9 203.7,548.3 204.2,547.9 204.7,547.6 205.2,547.9 207.2,547.9 207.7,548.1 208.2,547.9 208.7,547.2 209.2,547.6 209.7,547.9 210.7,547.9 211.2,548.1 211.7,548 212.2,547.9 212.7,547.7 213.2,548.4 213.7,547.9 214.2,547.9 214.7,547.3 215.2,547.1 215.7,547 216.2,547.9 216.7,547.8 217.2,547.9 217.7,547.9 218.2,547.7 218.7,547 219.2,547.9 219.7,548.1 220.2,547.9 221.2,547.9 221.7,548.1 222.2,548.3 222.7,547.5 223.2,547.8 223.7,547.9 224.7,547.9 225.2,547.2 225.7,548 226.2,547.9 226.7,547.9 227.2,547.5 227.7,547.9 228.2,548.1 228.7,547.9 230.2,547.9 230.7,547.5 231.2,547.9 231.7,548.5 232.2,548.3 232.7,547.9 233.7,547.9 234.2,547.3 234.7,547.1 235.2,547.2 235.7,547.9 236.2,547.4 236.7,547.9 237.2,547.9 237.7,548.3 238.2,548.1 238.7,547.9 239.2,547.1 239.7,547.9 241.2,547.9 241.7,547.5 242.2,547.9 242.7,548.2 243.2,547.9 243.7,547.4 244.2,547.9 245.7,547.9 246.2,547.8 246.7,547.9 247.2,547.9 247.7,548.3 248.2,548.2 248.7,547.9 249.2,547.9 249.7,548 250.2,547.1 250.7,547.7 251.2,548.5 251.7,548.1 252.2,547.1 252.7,547.9 253.0,548.8Z" fill="#111" stroke="none" stroke-width="1"/>
<line x1="92.00" y1="551.00" x2="252.00" y2="551.00" stroke="#8a8ab0" stroke-width="0.5"/>
<path d="M145.2,550.1h1.5v1.8h-1.5ZM177.9,550.1h1.1v1.8h-1.1ZM99.0,550.1H101.0v1.8H99.0Z" fill="#25256e" stroke="none" stroke-width="1"/>
<rect x="168.40" y="494.20" width="9.00" height="59.10" fill="none" stroke="#c8385e" stroke-width="1.3"/>
<rect x="150.50" y="533.30" width="18.50" height="22.00" fill="none" stroke="#222" stroke-width="0.9" stroke-dasharray="0.9,1.1"/>
<line x1="150.50" y1="540.80" x2="169.00" y2="540.80" stroke="#222" stroke-width="0.9" stroke-dasharray="0.9,1.1"/>
<rect x="171.70" y="533.30" width="3.50" height="20.00" fill="none" stroke="#222" stroke-width="0.9" stroke-dasharray="0.9,1.1"/>
<path d="M175.8,536 L178.4,536 L178.4,545 L175.8,545" fill="none" stroke="#222" stroke-width="0.8"/>
<circle cx="181.80" cy="535.05" r="0.95" fill="#222"/>
<circle cx="181.80" cy="538.75" r="0.95" fill="#222"/>
<circle cx="181.80" cy="542.45" r="0.95" fill="#222"/>
<circle cx="181.80" cy="546.15" r="0.95" fill="#222"/>
<path d="M172.60,487.50 L172.60,482.70 L167.00,482.70" fill="none" stroke="#111" stroke-width="1.2"/>
<path d="M164.00,482.70 L168.60,480.80 L168.60,484.60 Z" fill="#111" stroke="none" stroke-width="1"/>
<text x="133.80" y="485.60" font-size="8.8" text-anchor="start" fill="#1a1a1a" stroke="#1a1a1a" stroke-width="0.06" font-style="italic" textLength="29.2" lengthAdjust="spacingAndGlyphs">NdufB4</text>
<line x1="169.60" y1="553.30" x2="170.20" y2="578.40" stroke="#c82a4c" stroke-width="1.0" stroke-dasharray="2.6,1.6"/>
<text x="87.40" y="572.20" font-size="8.6" text-anchor="end" fill="#333" stroke="#333" stroke-width="0.06" textLength="28" lengthAdjust="spacingAndGlyphs">Human:</text>
<text x="87.40" y="586.00" font-size="8.6" text-anchor="end" fill="#45458f" stroke="#45458f" stroke-width="0.06" textLength="44" lengthAdjust="spacingAndGlyphs">Notch/RBPJ</text>
<text x="87.40" y="594.30" font-size="8.6" text-anchor="end" fill="#45458f" stroke="#45458f" stroke-width="0.06" textLength="18.9" lengthAdjust="spacingAndGlyphs">ETS1</text>
<text x="87.40" y="603.00" font-size="8.6" text-anchor="end" fill="#45458f" stroke="#45458f" stroke-width="0.06" textLength="32.8" lengthAdjust="spacingAndGlyphs">H3K27ac</text>
<text x="87.40" y="612.40" font-size="8.6" text-anchor="end" fill="#d24848" stroke="#d24848" stroke-width="0.06" textLength="26.3" lengthAdjust="spacingAndGlyphs">CDC73</text>
<text x="87.40" y="621.20" font-size="8.6" text-anchor="end" fill="#3aa05e" stroke="#3aa05e" stroke-width="0.06" textLength="36.8" lengthAdjust="spacingAndGlyphs">ATAC-Seq</text>
<rect x="91.50" y="575.90" width="165.00" height="2.40" fill="#d6d6d6" stroke="none" stroke-width="1"/>
<line x1="91.50" y1="575.90" x2="256.50" y2="575.90" stroke="#a8a8a8" stroke-width="0.5"/>
<text x="110.00" y="573.70" font-size="2.8" text-anchor="start" fill="#9a9a9a">48,700 kb</text>
<line x1="114.00" y1="575.90" x2="114.00" y2="578.30" stroke="#999" stroke-width="0.4"/>
<text x="145.00" y="573.70" font-size="2.8" text-anchor="start" fill="#9a9a9a">48,700 kb</text>
<line x1="149.00" y1="575.90" x2="149.00" y2="578.30" stroke="#999" stroke-width="0.4"/>
<text x="178.00" y="573.70" font-size="2.8" text-anchor="start" fill="#9a9a9a">48,700 kb</text>
<line x1="182.00" y1="575.90" x2="182.00" y2="578.30" stroke="#999" stroke-width="0.4"/>
<text x="215.00" y="573.70" font-size="2.8" text-anchor="start" fill="#9a9a9a">48,700 kb</text>
<line x1="219.00" y1="575.90" x2="219.00" y2="578.30" stroke="#999" stroke-width="0.4"/>
<text x="245.00" y="573.70" font-size="2.8" text-anchor="start" fill="#9a9a9a">48,700 kb</text>
<line x1="249.00" y1="575.90" x2="249.00" y2="578.30" stroke="#999" stroke-width="0.4"/>
<line x1="91.50" y1="586.30" x2="256.50" y2="586.30" stroke="#b8b8d8" stroke-width="0.5"/>
<text x="92.00" y="580.10" font-size="2.6" text-anchor="start" fill="#999">0 - 1.00</text>
<path d="M91.5,586.3L91.5,586 92,585.9 92.5,585.9 93,586 93.5,585.8 94,585.6 94.5,585.3 95,585.4 95.5,585.6 96,586 96.5,585.6 97,585.3 97.5,585.4 98,586 100.5,586 101,585.4 101.5,586 102,584.7 102.5,583.8 103,585.7 103.5,585.7 104,586 104.5,585.9 105,585 105.5,585.6 106,585.6 106.5,586 107,584.5 107.5,584.6 108,585.3 108.5,585.9 109,586 109.5,585.7 110,586 110.5,586 111,585.8 111.5,586 113,586 113.5,585.9 114,586.1 114.5,585.8 115,585.5 115.5,586 116,585.4 116.5,586 117,586 117.5,585.6 118,584.1 118.5,585.3 119,585.3 119.5,586 120,586.1 120.5,585.9 121,585.7 121.5,586 122,586 122.5,585.4 123,586 126,586 126.5,585.5 127,585.4 127.5,585.5 128,586 128.5,585.5 129,586 129.5,585.4 130,586 131,586 131.5,585.7 132,585.7 132.5,586 133,585.9 133.5,586 134,585.8 134.5,586.1 135,585.6 135.5,585.6 136,584.5 136.5,585.7 137,586 137.5,586 138,585.4 138.5,585.4 139,586 139.5,585.3 140,586 140.5,585.3 141,586 143,586 143.5,585.3 144,586 145,586 145.5,585.4 146,585.9 146.5,585.7 147,585.8 147.5,586 148.5,586 149,586.1 149.5,586 150,585.6 150.5,585.5 151,586 151.5,586 152,585.3 152.5,584.2 153,585.5 153.5,585.7 154,586 154.5,585.6 155,585.7 155.5,586 156,586 156.5,584.6 157,582.4 157.5,584.9 158,585.5 158.5,585.7 159,586 159.5,585.5 160,585.7 160.5,585.7 161,586 161.5,585.4 162,585.6 162.5,586 165,586 165.5,585.9 166,582.9 166.5,579.2 167,583.2 167.5,585.9 168,586 168.5,585.7 169,586 169.5,586 170,585.5 170.5,585.6 171,585.8 171.5,586 172,585.7 172.5,585.8 173,585.4 173.5,586 174,585.9 174.5,584.8 175,584.5 175.5,585.5 176,584.9 176.5,584 177,585.2 177.5,586 178,585.9 178.5,584.5 179,584.8 179.5,585.8 180,585.4 180.5,585.8 181,586 181.5,586 182,585.5 182.5,585.9 183,585.4 183.5,585.7 184,585.8 184.5,586 185,585.3 185.5,586 186,585.8 186.5,586 187.5,586 188,585.8 188.5,585.4 189,586 189.5,585.4 190,585.6 190.5,585.4 191,585.7 191.5,585.7 192,585.4 192.5,585.8 193,586 195.5,586 196,585.7 196.5,585.4 197,585.8 197.5,586 198,585.7 198.5,586 199,586.1 199.5,586 200,585.4 200.5,585.8 201,586 202,586 202.5,585.3 203,585.7 203.5,586 204,585.6 204.5,586 205,585.7 205.5,585.9 206,586 206.5,585.9 207,585.4 207.5,586 208,586 208.5,586.1 209,586 209.5,586 210,585.9 210.5,585.8 211,585.3 211.5,585.9 212,585.9 212.5,585.6 213,585.3 213.5,585.4 214,586 214.5,585.9 215,584.8 215.5,583.2 216,585 216.5,585.6 217,586 217.5,586 218,585.4 218.5,586 219,586 219.5,585.5 220,586 222.5,586 223,585.6 223.5,586 224,586 224.5,585.7 225,585.6 225.5,585.6 226,585.4 226.5,585.9 227,585.7 227.5,586 230,586 230.5,585.8 231,586 232,586 232.5,585.5 233,585.9 233.5,585.7 234,585.8 234.5,586 235,585.1 235.5,585 236,585.3 236.5,585.3 237,585.9 237.5,586.1 238,586 238.5,585.5 239,586 240,586 240.5,585.5 241,585.3 241.5,586.1 242,586 242.5,586 243,585.6 243.5,586.1 244,586 244.5,585.7 245,586 245.5,586 246,585.7 246.5,586 247,585.3 247.5,586 248,585.9 248.5,585.5 249,585.6 249.5,585.9 250,586 251,586 251.5,585.6 252,585.4 252.5,586 253,585.5 253.5,586 254,585.6 254.5,585.5 255,585.4 255.5,586 256,585.6 256.5,585.9 256.5,586.3Z" fill="#25256e" stroke="none" stroke-width="1"/>
<line x1="91.50" y1="595.20" x2="256.50" y2="595.20" stroke="#c0c0dc" stroke-width="0.5"/>
<text x="92.00" y="589.00" font-size="2.6" text-anchor="start" fill="#999">0 - 1.00</text>
<path d="M91.5,595.2L91.5,594.9 92,594.6 92.5,594.3 93,594.3 93.5,594.9 94,595 94.5,594.7 95,594.5 95.5,594.5 96,594.7 97.5,594.7 98,595 98.5,594.9 99.5,594.9 100,594.5 100.5,593.8 101,593.8 101.5,594.9 102,594.8 102.5,594.7 103,593.9 103.5,594.8 104,594.6 104.5,594.7 105,594.6 105.5,595 106,594.9 106.5,594.5 107,595 108,595 108.5,594.7 109,595 110,595 110.5,594.5 111,594.8 111.5,594.8 112,594.6 112.5,594.9 113,594.7 113.5,594.9 114,595 114.5,595 115,594.7 115.5,595 117.5,595 118,594.6 118.5,594.5 119,594.8 119.5,595 120,595 120.5,594.9 121,594.7 121.5,594.5 122,594.9 122.5,595 123,594.5 123.5,595 124,594.4 124.5,595 125,595 125.5,594.7 126,594.9 126.5,594.7 127,594.9 127.5,594.9 128,594 128.5,594.3 129,594.6 129.5,594.5 130,594.8 130.5,594.4 131,594.4 131.5,594.8 132,594.9 132.5,594.6 133,594.4 133.5,595 134,594.6 134.5,594.5 135,595 135.5,594.7 136,594.6 136.5,595 138,595 138.5,594.6 139,595 139.5,594.9 140,594.7 140.5,594.9 141,594.8 141.5,594.7 142,595 142.5,594.5 143,595 144,595 144.5,594.9 145,595 146,595 146.5,594.8 147,595 147.5,594.7 148,595 148.5,595 149,594.8 149.5,594.8 150,594.9 150.5,595 151,595 151.5,594.8 152,595 153,595 153.5,594.6 154,595 156.5,595 157,594.8 157.5,595 158,595 158.5,594.8 159,594.9 159.5,595 160,595 160.5,594.5 161,595 162.5,595 163,594.8 163.5,595 164,594.8 164.5,594.9 165,594.9 165.5,594.3 166,592.5 166.5,589 167,592.1 167.5,594.5 168,594.4 168.5,594.9 169,594.8 169.5,595 170,595 170.5,594.7 171,595 171.5,594.9 172,595 172.5,594.5 173,594.7 173.5,595 174,594.5 174.5,595 175,594.6 175.5,594.7 176,594.8 176.5,595 177.5,595 178,594.6 178.5,595 179,595 179.5,594.7 180,594.9 180.5,595 181,595 181.5,594.9 182,595 183,595 183.5,594.7 184,594.9 184.5,595 185,594.5 185.5,594.9 186,595 186.5,594.4 187,595 187.5,594.8 188,595 188.5,594.4 189,595 190,595 190.5,594.8 191,594.7 191.5,595 192,594.6 192.5,594.8 193,594.7 193.5,595 194,594.7 194.5,595 195,594.5 195.5,594.9 196,595 196.5,595 197,594.5 197.5,594.7 198,594.4 198.5,595 199.5,595 200,594.4 200.5,594.9 201,595 201.5,594.9 202,594.7 202.5,593.7 203,594.1 203.5,594.9 204,594.9 204.5,594.6 205,594.9 205.5,595 206,594.7 206.5,595 207,594.9 207.5,594.4 208,594.9 208.5,594.9 209,594.3 209.5,593.4 210,594.5 210.5,594.9 211.5,594.9 212,595 212.5,595 213,594.8 213.5,594.4 214,595 214.5,594.7 215,595 215.5,594.5 216,594.9 216.5,595 217,594.7 217.5,594.7 218,594.9 218.5,595 219,595 219.5,594.7 220,595 220.5,594.7 221,594.9 221.5,594.7 222,594.7 222.5,594.6 223,594.5 223.5,595 224.5,595 225,594.6 225.5,595 226,594.4 226.5,595 227,594.7 227.5,594.9 228.5,594.9 229,594.5 229.5,594.4 230,594.6 230.5,594.7 231,594.5 231.5,593.3 232,592.5 232.5,593.3 233,594.5 233.5,594.9 234,594.5 235,594.5 235.5,594.9 236,594.9 236.5,594.6 237,594.9 238,594.9 238.5,594.4 239,593.4 239.5,593.5 240,593.2 240.5,594.4 241,594.9 241.5,594.9 242,594.6 242.5,595 243,595 243.5,594.7 244,594.9 245,594.9 245.5,594.4 246,593.8 246.5,593.8 247,594.4 247.5,594.9 248,594.5 248.5,594.9 249,594.5 249.5,594.9 250,594.5 250.5,593.5 251,594.5 251.5,594.7 252,594.4 252.5,594.8 253,594.5 253.5,594.8 254,594.4 254.5,595 255,594.7 255.5,594.9 256,595 256.5,595 256.5,595.2Z" fill="#25256e" stroke="none" stroke-width="1"/>
<line x1="91.50" y1="604.30" x2="256.50" y2="604.30" stroke="#c8c8e4" stroke-width="0.5"/>
<text x="92.00" y="598.10" font-size="2.6" text-anchor="start" fill="#999">0 - 1.00</text>
<path d="M91.5,604.3L91.5,604.3 99.5,604.3 100,604 100.5,604.3 111.5,604.3 112,604 112.5,604.3 113,604.3 113.5,604.1 114,604.3 120.5,604.3 121,604.2 121.5,604.3 126.5,604.3 127,604.2 127.5,604.3 128,604.2 128.5,604.3 129,604.3 129.5,604.2 130,604.2 130.5,604.3 137.5,604.3 138,604.2 138.5,604.3 147.5,604.3 148,604.1 148.5,604.2 149,604.3 152.5,604.3 153,604.2 153.5,604.3 165.5,604.3 166,602.6 166.5,598.5 167,602.6 167.5,604.3 181.5,604.3 182,604.1 182.5,604.3 194,604.3 194.5,604.2 195,604.3 202.5,604.3 203,604 203.5,604.3 208,604.3 208.5,604.1 209,604.3 214,604.3 214.5,604.2 215,604.3 227,604.3 227.5,604.2 228,604.3 238,604.3 238.5,604 239,604.3 243,604.3 243.5,604.1 244,604.3 246.5,604.3 247,604.2 247.5,604.3 256.5,604.3 256.5,604.3Z" fill="#25256e" stroke="none" stroke-width="1"/>
<line x1="91.50" y1="613.80" x2="256.50" y2="613.80" stroke="#f0b0b0" stroke-width="0.5"/>
<text x="92.00" y="607.60" font-size="2.6" text-anchor="start" fill="#999">0 - 1.00</text>
<path d="M91.5,613.8L91.5,612.7 92,613.4 93.5,613.4 94,612.6 94.5,613.2 95,613.4 95.5,613.1 96,613.4 98,613.4 98.5,613.3 99,613.4 99.5,613.4 100,613.2 100.5,613.4 101,613.5 101.5,612.9 102,613.3 102.5,613.2 103,613.5 103.5,613.4 104,613.6 104.5,613 105,613.5 105.5,613.2 106,613 106.5,613.4 107,613.2 107.5,613.4 108,613.1 108.5,613.4 109,613 109.5,613.4 110,612.9 110.5,613.5 111,613.4 113.5,613.4 114,613.2 114.5,613.4 115,613.3 115.5,612.9 116,613.4 116.5,613.2 117,613.4 117.5,612.7 118,613.4 118.5,613.4 119,613.1 119.5,613.4 121.5,613.4 122,613.6 122.5,613.4 126,613.4 126.5,613 127,613.4 127.5,613.3 128,613.4 128.5,613 129,613 129.5,613.5 130,613.4 130.5,612.9 131,613.5 131.5,613.2 132,613.4 132.5,613.4 133,612.9 133.5,613.4 134,613.4 134.5,613.6 135,613 135.5,612.9 136,612.6 136.5,613.2 137,613.5 137.5,613.4 138,613.4 138.5,612.6 139,613.4 141.5,613.4 142,613.2 142.5,612.9 143,613.1 143.5,613.4 144,613.4 144.5,612.8 145,612.9 145.5,613.4 146,613.2 146.5,613.5 147,613.4 148,613.4 148.5,613.5 149,613 149.5,613.4 150,612.6 150.5,612.7 151,613.4 151.5,612.9 152,613.6 152.5,613.1 153,613.6 153.5,613.4 155.5,613.4 156,612.6 156.5,612.8 157,612.8 157.5,613.4 158,612.8 158.5,613.4 159,613.2 159.5,613 160,613.5 160.5,613.4 161.5,613.4 162,612.8 162.5,613 163,612.7 163.5,613.2 164,612.8 164.5,613.4 166,613.4 166.5,612.8 167,613.2 167.5,612.1 168,610.9 168.5,611.8 169,613.4 169.5,612.7 170,613.4 170.5,613.1 171,613.1 171.5,613.4 172,613.4 172.5,613 173,613.4 173.5,612.8 174,612.9 174.5,613.4 175,613.3 175.5,613.4 177,613.4 177.5,613.2 178,613.4 179,613.4 179.5,612.8 180,613.4 181,613.4 181.5,612.8 182,613.4 184,613.4 184.5,613.2 185,613.4 185.5,613.2 186,612.4 186.5,610.7 187,609.9 187.5,610.8 188,612.2 188.5,613 189,613.5 189.5,613.1 190,612.9 190.5,613 191,613.4 191.5,613.1 192,613.4 192.5,613.5 193,613.4 193.5,613.4 194,613.5 194.5,613.4 195,613.1 195.5,612.1 196,611.4 196.5,612 197,613.1 197.5,613.4 198,613.6 198.5,613.4 199,613.6 199.5,612.9 200,612.6 200.5,613.4 201,613 201.5,613.4 202,613 202.5,613.4 203,613.4 203.5,613.3 204,613.4 204.5,613.5 205,613.2 205.5,613.4 206.5,613.4 207,613.6 207.5,612.6 208,613.4 208.5,613 209,613.4 209.5,613.3 210,613.4 210.5,613.4 211,613.3 211.5,613.4 212,613.5 212.5,613.1 213,612.6 213.5,613.5 214,613.4 217.5,613.4 218,612.7 218.5,613.4 219,613.4 219.5,612.8 220,612.8 220.5,613.4 221,613.4 221.5,613.3 222,613.2 222.5,612.9 223,613.4 224,613.4 224.5,612.7 225,613.4 225.5,613.4 226,613.3 226.5,613.4 228,613.4 228.5,613.6 229,613.4 230,613.4 230.5,613.5 231,612.9 231.5,613 232,613.4 233.5,613.4 234,613.2 234.5,613.2 235,613 235.5,613.4 238.5,613.4 239,612.7 239.5,613.4 240,612.8 240.5,613.1 241,613.4 241.5,613 242,613.1 242.5,613.4 245.5,613.4 246,612.6 246.5,613.2 247,613.5 247.5,612.8 248,613.4 248.5,613.4 249,613.6 249.5,613.4 250.5,613.4 251,613.6 251.5,613.4 252,613.2 252.5,613.2 253,613 253.5,613.4 254,613.4 254.5,613.2 255,613.4 255.5,613.2 256,613.4 256.5,613.1 256.5,613.8Z" fill="#d42d2d" stroke="none" stroke-width="1"/>
<text x="92.00" y="616.40" font-size="2.6" text-anchor="start" fill="#999">0 - 1.00</text>
<path d="M91.5,622.6L91.5,622.6 102.5,622.6 103,622.5 103.5,622.5 104,622.6 107,622.6 107.5,622.5 108,622.6 110.5,622.6 111,622.5 111.5,622.6 146.5,622.6 147,622.5 147.5,622.6 155.5,622.6 156,622.5 156.5,622.5 157,622.6 161.5,622.6 162,622.5 162.5,622.6 163.5,622.6 164,622.5 165.5,622.5 166,621 166.5,617.4 167,621 167.5,622.5 169,622.5 169.5,622.6 171.5,622.6 172,622.5 172.5,622.6 180.5,622.6 181,622.5 181.5,622.6 183,622.6 183.5,622.5 184,622.6 184.5,622.5 185,622.5 185.5,622.6 207,622.6 207.5,622.5 208,622.6 246.5,622.6 247,622.5 247.5,622.5 248,622.6 254,622.6 254.5,622.5 255,622.6 256.5,622.6 256.5,622.6Z" fill="#1f9a4c" stroke="none" stroke-width="1"/>
<line x1="160.00" y1="624.60" x2="190.00" y2="624.60" stroke="#8a8ab0" stroke-width="0.5"/>
<path d="M166.4,623.7h1.2v1.8h-1.2ZM179.4,623.7h1.1v1.8h-1.1ZM181.5,623.7h1.0v1.8h-1.0ZM182.8,623.7h1.2v1.8h-1.2ZM185.6,623.7h1.3v1.8h-1.3ZM171.7,623.7H185.6v1.8H171.7Z" fill="#25256e" stroke="none" stroke-width="1"/>
<rect x="162.00" y="578.40" width="8.70" height="50.60" fill="none" stroke="#c8385e" stroke-width="1.3"/>
<path d="M166.90,570.90 L166.90,565.60 L172.90,565.60" fill="none" stroke="#111" stroke-width="1.2"/>
<path d="M175.90,565.60 L171.30,563.70 L171.30,567.50 Z" fill="#111" stroke="none" stroke-width="1"/>
<text x="176.90" y="568.20" font-size="8.8" text-anchor="start" fill="#1a1a1a" stroke="#1a1a1a" stroke-width="0.06" font-style="italic" textLength="32.3" lengthAdjust="spacingAndGlyphs">NDUFB4</text>
<text x="349.60" y="487.10" font-size="8.6" text-anchor="end" fill="#333" stroke="#333" stroke-width="0.06" textLength="26.5" lengthAdjust="spacingAndGlyphs">Mouse:</text>
<text x="349.60" y="502.20" font-size="8.6" text-anchor="end" fill="#45458f" stroke="#45458f" stroke-width="0.06" textLength="42.5" lengthAdjust="spacingAndGlyphs">Notch/Rbpj</text>
<text x="349.60" y="511.00" font-size="8.6" text-anchor="end" fill="#45458f" stroke="#45458f" stroke-width="0.06" textLength="15.4" lengthAdjust="spacingAndGlyphs">Ets1</text>
<text x="349.60" y="519.70" font-size="8.6" text-anchor="end" fill="#45458f" stroke="#45458f" stroke-width="0.06" textLength="32.8" lengthAdjust="spacingAndGlyphs">H3K27ac</text>
<text x="349.60" y="528.40" font-size="8.6" text-anchor="end" fill="#3aa05e" stroke="#3aa05e" stroke-width="0.06" textLength="36.8" lengthAdjust="spacingAndGlyphs">ATAC-Seq</text>
<text x="349.60" y="537.60" font-size="8.6" text-anchor="end" fill="#c150a0" stroke="#c150a0" stroke-width="0.06" textLength="68.5" lengthAdjust="spacingAndGlyphs">H2BK120ub1 Cntrl</text>
<text x="349.60" y="546.80" font-size="8.6" text-anchor="end" fill="#222" stroke="#222" stroke-width="0.06" textLength="67.7" lengthAdjust="spacingAndGlyphs">H2BK120ub1 OHT</text>
<rect x="352.00" y="491.90" width="161.00" height="1.80" fill="#d6d6d6" stroke="none" stroke-width="1"/>
<line x1="352.00" y1="491.90" x2="513.00" y2="491.90" stroke="#a8a8a8" stroke-width="0.5"/>
<text x="353.00" y="489.70" font-size="2.8" text-anchor="start" fill="#9a9a9a">48,700 kb</text>
<line x1="357.00" y1="491.90" x2="357.00" y2="493.70" stroke="#999" stroke-width="0.4"/>
<text x="385.00" y="489.70" font-size="2.8" text-anchor="start" fill="#9a9a9a">48,700 kb</text>
<line x1="389.00" y1="491.90" x2="389.00" y2="493.70" stroke="#999" stroke-width="0.4"/>
<text x="418.00" y="489.70" font-size="2.8" text-anchor="start" fill="#9a9a9a">48,700 kb</text>
<line x1="422.00" y1="491.90" x2="422.00" y2="493.70" stroke="#999" stroke-width="0.4"/>
<text x="450.00" y="489.70" font-size="2.8" text-anchor="start" fill="#9a9a9a">48,700 kb</text>
<line x1="454.00" y1="491.90" x2="454.00" y2="493.70" stroke="#999" stroke-width="0.4"/>
<text x="482.00" y="489.70" font-size="2.8" text-anchor="start" fill="#9a9a9a">48,700 kb</text>
<line x1="486.00" y1="491.90" x2="486.00" y2="493.70" stroke="#999" stroke-width="0.4"/>
<line x1="352.00" y1="503.80" x2="513.00" y2="503.80" stroke="#c0c0dc" stroke-width="0.5"/>
<text x="352.50" y="497.60" font-size="2.6" text-anchor="start" fill="#999">0 - 1.00</text>
<path d="M352.0,503.8L352,503.6 355,503.6 355.5,503.3 356,503.6 358,503.6 358.5,503.5 359,503.6 361.5,503.6 362,503.5 362.5,503.6 363.5,503.6 364,503.3 364.5,503.2 365,503.5 365.5,503.6 366.5,503.6 367,503.1 367.5,503.6 368,503.1 368.5,503.5 369,503 369.5,503.5 370,502.9 370.5,503.2 371,503.2 371.5,503.5 373,503.5 373.5,503.4 374,503.6 374.5,503.6 375,503.5 375.5,503.4 376,503.5 376.5,503.5 377,502.6 377.5,503 378,503.5 378.5,503 379,503.5 379.5,503.2 380,503.6 380.5,503.1 381,503.6 381.5,503.4 382,503.6 382.5,502.9 383,503.4 383.5,503.6 385.5,503.6 386,503.5 386.5,503 387,503.5 387.5,503.5 388,503.2 388.5,503.2 389,503.5 390.5,503.5 391,503.1 391.5,503.6 392,503.4 392.5,503.6 393,503.5 393.5,503.6 394,503.3 394.5,503.6 395.5,503.6 396,503 396.5,503.6 400,503.6 400.5,503 401,503.6 401.5,503.2 402,503.6 402.5,503.5 403,503.3 403.5,503.5 404,503.4 404.5,503 405,503.2 405.5,503.4 406,503.5 406.5,503.5 407,503.6 407.5,503.5 408,503.6 410,503.6 410.5,503.5 412,503.5 412.5,503.2 413,502.7 413.5,503.4 414,503.5 414.5,503.5 415,503.6 415.5,503.3 416,503.4 416.5,503.5 417,503.5 417.5,502.4 418,502.9 418.5,503.1 419,503.5 420,503.5 420.5,503.6 421.5,503.6 422,503.2 422.5,503.1 423,503.6 424.5,503.6 425,503 425.5,503.6 426,503.6 426.5,503.3 427,503.4 427.5,503.6 432.5,503.6 433,503 433.5,503.6 434,503.6 434.5,503.1 435,503.6 435.5,503 436,503.6 441.5,503.6 442,503.2 442.5,503.6 443,503.4 443.5,503.4 444,503.6 444.5,503.6 445,503.2 445.5,503.6 446,503.5 446.5,503.1 447,503.6 447.5,503.4 448,503.2 448.5,503.6 449.5,503.6 450,503.4 450.5,503.5 451.5,503.5 452,502.4 452.5,499.6 453,502.4 453.5,503.5 455,503.5 455.5,503.2 456,503.6 457.5,503.6 458,503.5 458.5,502.9 459,503.5 459.5,503.5 460,503.4 460.5,500.1 461,496.6 461.5,500.7 462,502.8 462.5,503.5 464,503.5 464.5,503.6 465,503 465.5,503.6 468.5,503.6 469,503 469.5,503.6 470,503.3 470.5,503.6 472.5,503.6 473,503.5 473.5,503.6 475.5,503.6 476,503.3 476.5,503.6 477,503.5 477.5,503.6 479.5,503.6 480,503.5 480.5,503.6 481.5,503.6 482,503.4 482.5,503.6 483,503.6 483.5,503.2 484,503.6 484.5,503.6 485,503.5 485.5,503.1 486,503.5 486.5,503.5 487,503.1 487.5,502.6 488,503.1 488.5,503.5 489,503 489.5,503.1 490,503.5 490.5,502.6 491,502.8 491.5,502.9 492,503.5 493.5,503.5 494,503.6 494.5,503.5 495,503.6 495.5,503.6 496,502.9 496.5,503.6 497,503.1 497.5,503 498,503.5 498.5,503.6 500,503.6 500.5,503.3 501,503.6 506,503.6 506.5,503.1 507,503.2 507.5,503.6 508.5,503.6 509,503.1 509.5,503.5 510.5,503.5 511,502.9 511.5,502.7 512,503.5 513,503.5 513.0,503.8Z" fill="#25256e" stroke="none" stroke-width="1"/>
<line x1="352.00" y1="513.40" x2="513.00" y2="513.40" stroke="#c0c0dc" stroke-width="0.5"/>
<text x="352.50" y="507.20" font-size="2.6" text-anchor="start" fill="#999">0 - 1.00</text>
<path d="M352.0,513.4L352,513.1 355,513.1 355.5,513 356,513.1 356.5,513.1 357,513.2 357.5,513 358,512.2 358.5,512.1 359,513.1 359.5,512.7 360,512.2 360.5,513 361,513.1 362.5,513.1 363,512.8 363.5,513.1 364,512.9 364.5,513.1 366.5,513.1 367,512.1 367.5,512.3 368,513.1 368.5,513.1 369,512.6 369.5,512.2 370,512.5 370.5,513 371,513.1 372,513.1 372.5,512.5 373,513.1 373.5,512.9 374,513.1 375.5,513.1 376,512.8 376.5,513.1 377,513.1 377.5,512.5 378,513.1 379.5,513.1 380,513 380.5,513.1 381,513.1 381.5,512.7 382,513.1 382.5,513.1 383,513.2 383.5,512.8 384,512.6 384.5,512.9 385,512.6 385.5,513 386,513.1 386.5,512.6 387,513 387.5,512.8 388,513.1 388.5,513.1 389,512.5 389.5,512.9 390,513.1 392,513.1 392.5,512.8 393,512.7 393.5,512.3 394,512.9 394.5,512.7 395,513.1 398,513.1 398.5,512.6 399,513.1 401.5,513.1 402,512.8 402.5,513.1 403,513.1 403.5,512.7 404,513.1 404.5,513.1 405,512.5 405.5,513.1 406,513 406.5,513.1 407,513.1 407.5,512.6 408,513.1 409,513.1 409.5,512.8 410,512.6 410.5,513.1 412,513.1 412.5,513 413,513.1 413.5,513 414,512.4 414.5,512.7 415,513.1 419,513.1 419.5,512.9 420,513.1 423,513.1 423.5,512.9 424,513.1 425,513.1 425.5,512.6 426,512.7 426.5,513.1 427,513 427.5,513.1 428.5,513.1 429,513.2 429.5,513.1 430,513.1 430.5,512.9 431,513 431.5,512.9 432,513.1 432.5,513 433,513.1 434,513.1 434.5,512.9 435,513.1 436,513.1 436.5,513 437,512.5 437.5,513.1 440,513.1 440.5,513 441,513.1 443.5,513.1 444,512.8 444.5,513.1 446,513.1 446.5,512.7 447,512.7 447.5,513.1 448.5,513.1 449,512.5 449.5,513.1 451.5,513.1 452,512.6 452.5,510.7 453,512.6 453.5,513.2 454,513.1 454.5,513 455,512.7 455.5,512.6 456,513.1 459.5,513.1 460,512.5 460.5,510.3 461,506.1 461.5,510.3 462,513 462.5,512.9 463,513.1 463.5,513.1 464,512.6 464.5,513.1 466.5,513.1 467,512.6 467.5,513.1 468,512.7 468.5,512.6 469,513.1 474.5,513.1 475,512.5 475.5,513.1 477.5,513.1 478,512.9 478.5,513.1 479,512.8 479.5,513.1 480.5,513.1 481,512.9 481.5,513 482,513.1 482.5,513.1 483,512.8 483.5,512.2 484,512.9 484.5,513.1 487,513.1 487.5,512.6 488,512.8 488.5,513.1 490.5,513.1 491,512.8 491.5,513.1 492,512.7 492.5,513.1 494,513.1 494.5,512.5 495,513.1 495.5,513.2 496,513.1 496.5,513.1 497,512.7 497.5,513.1 498,512.8 498.5,513.1 499,512.6 499.5,512.6 500,512.2 500.5,513 501,513.1 501.5,512.8 502,513.1 504.5,513.1 505,513.2 505.5,512.5 506,513.1 507.5,513.1 508,512.3 508.5,512.6 509,513.1 510,513.1 510.5,512.6 511,513.1 511.5,513 512,513.1 512.5,513.1 513,512.7 513.0,513.4Z" fill="#25256e" stroke="none" stroke-width="1"/>
<line x1="352.00" y1="522.00" x2="513.00" y2="522.00" stroke="#c8c8e4" stroke-width="0.5"/>
<text x="352.50" y="515.80" font-size="2.6" text-anchor="start" fill="#999">0 - 1.00</text>
<path d="M352.0,522.0L352,522 353.5,522 354,521.8 354.5,522 358.5,522 359,521.4 359.5,522 360.5,522 361,521.5 361.5,521.8 362,522 364.5,522 365,521.4 365.5,522 367.5,522 368,521.8 368.5,522 369.5,522 370,521.6 370.5,522 371,521.8 371.5,522 373.5,522 374,521.4 374.5,522 375,521.5 375.5,522 376,521.6 376.5,521.9 377,522 380,522 380.5,521.8 381,522 381.5,522 382,521.7 382.5,522 385.5,522 386,521.8 386.5,522 391.5,522 392,521.9 392.5,522 393.5,522 394,521.9 394.5,522 395,521.8 395.5,521.9 396,522 398.5,522 399,521.8 399.5,522 406,522 406.5,521.7 407,522 415,522 415.5,521.8 416,522 419.5,522 420,521.5 420.5,522 423,522 423.5,521.7 424,522 431.5,522 432,521.4 432.5,522 435.5,522 436,521.8 436.5,521.6 437,521.7 437.5,521.7 438,522 438.5,521.8 439,522 441.5,522 442,521.5 442.5,522 446,522 446.5,521.6 447,522 450,522 450.5,521.8 451,521.4 451.5,522 458.5,522 459,521.9 459.5,522 460,521.9 460.5,520.1 461,517.4 461.5,520.1 462,521.9 462.5,522 463,522 463.5,521.7 464,522 472,522 472.5,521.9 473,522 474.5,522 475,521.9 475.5,522 476,521.4 476.5,522 477,521.7 477.5,522 479,522 479.5,521.8 480,522 480.5,521.5 481,521.7 481.5,522 482,521.9 482.5,522 483,521.9 483.5,522 484,522 484.5,521.5 485,521.6 485.5,522 486,522 486.5,521.5 487,522 487.5,521.9 488,521.9 488.5,522 489,522 489.5,521.7 490,522 493,522 493.5,521.7 494,522 494.5,521.7 495,521.7 495.5,522 496.5,522 497,521.5 497.5,522 498.5,522 499,521.6 499.5,522 501,522 501.5,521.5 502,522 505,522 505.5,521.7 506,522 506.5,521.6 507,522 513,522 513.0,522.0Z" fill="#25256e" stroke="none" stroke-width="1"/>
<line x1="352.00" y1="530.90" x2="513.00" y2="530.90" stroke="#a8dcb8" stroke-width="0.5"/>
<text x="352.50" y="524.70" font-size="2.6" text-anchor="start" fill="#999">0 - 1.00</text>
<path d="M352.0,530.9L352,530.9 376,530.9 376.5,530.8 377,530.9 383.5,530.9 384,530.8 384.5,530.9 387.5,530.9 388,530.8 388.5,530.9 395.5,530.9 396,530.8 396.5,530.9 406.5,530.9 407,530.8 408,530.8 408.5,530.7 409,529.9 409.5,530.7 410,530.8 411,530.8 411.5,530.9 416.5,530.9 417,530.8 418,530.8 418.5,530.6 419,529.6 419.5,530.6 420,530.8 421,530.8 421.5,530.9 422,530.9 422.5,530.8 423,530.9 425,530.9 425.5,530.8 426,530.9 435.5,530.9 436,530.8 437,530.8 437.5,530.7 438,529.9 438.5,530.7 439,530.8 440,530.8 440.5,530.9 450,530.9 450.5,530.8 451.5,530.8 452,530.6 452.5,529.4 453,530.6 453.5,530.8 454.5,530.8 455,530.9 458,530.9 458.5,530.8 460,530.8 460.5,529 461,524.4 461.5,529 462,530.8 463.5,530.8 464,530.9 466,530.9 466.5,530.8 467,530.9 468.5,530.9 469,530.8 469.5,530.9 504.5,530.9 505,530.8 505.5,530.9 513,530.9 513.0,530.9Z" fill="#1f9a4c" stroke="none" stroke-width="1"/>
<line x1="352.00" y1="539.60" x2="513.00" y2="539.60" stroke="#e0b0d4" stroke-width="0.5"/>
<text x="352.50" y="533.40" font-size="2.6" text-anchor="start" fill="#999">0 - 1.00</text>
<path d="M352.0,539.6L352,537.9 352.5,537.8 353,537.1 353.5,538.7 354,537.1 354.5,537.8 355,537 355.5,536.9 356,536.5 356.5,537.4 357,536.9 357.5,535.3 358,537.8 358.5,536.4 359,536.8 359.5,537.6 360,538.5 360.5,536.4 361,536 361.5,538.5 362,536.7 362.5,537 363,536.5 363.5,538 364,536.9 364.5,536.6 365,537.4 365.5,536.5 366,538.1 366.5,536.7 367,536.8 367.5,535.8 368,536 368.5,535.8 369,538.3 369.5,535.9 370,536.9 370.5,536.4 371,537.3 371.5,536.8 372,536.8 372.5,538.2 373,536.1 373.5,536.3 374,535.7 374.5,536.3 375,536.1 375.5,535 376,536.7 376.5,537 377,537.6 377.5,536.2 378,536.7 379,536.7 379.5,538.6 380,537.3 380.5,536.2 381,539.1 381.5,539 382,537.4 382.5,538.8 383,538.9 383.5,538.6 384,537.9 384.5,537.4 385,537.7 385.5,537.2 386,538.4 386.5,537.2 387,538.9 387.5,536.2 388,537.4 388.5,537.9 389,539.3 389.5,537.4 390,539.1 390.5,537.4 391,537.4 391.5,536.4 392,538.9 392.5,537.4 393.5,537.4 394,536.5 394.5,538.3 395,537.9 395.5,538.3 396,538 396.5,538.8 397,537.5 397.5,537.5 398,536.6 398.5,537.4 399,537.4 399.5,537.9 400,537.4 400.5,537.8 401,536.5 401.5,537.4 402,538.5 402.5,537.9 403,537.4 403.5,537.6 404,537.9 404.5,538.5 405,537.4 405.5,536.7 406,536.9 406.5,538.9 407,536.8 407.5,537.7 408,535.7 408.5,535.3 409,536.8 409.5,536.1 410,534.7 410.5,535.8 411,534.9 411.5,535.6 412,536.2 412.5,535.6 413,535.3 413.5,535.4 414,535.9 414.5,535.8 415,535.5 415.5,535 416,535.4 416.5,536.1 417,536.4 417.5,534.2 418,536 418.5,534.7 419,535.3 419.5,534.3 420,535.5 420.5,535.9 421,533.9 421.5,533.3 422,535.8 422.5,534.6 423,534.5 423.5,536.3 424,534.4 424.5,533.6 425,534.5 425.5,534.7 426,534.9 426.5,536.7 427,535.6 427.5,537.1 428,533.5 428.5,533.9 429,536.7 429.5,535.5 430,533.3 430.5,533.8 431,533.8 431.5,535.3 432,535.7 432.5,534.9 433,534.6 433.5,534.3 434,536.9 434.5,534 435,535.3 435.5,533.7 436,532.6 436.5,532.6 437,535 437.5,533.7 438,536.6 438.5,536 439,535.2 439.5,537.7 440,535.1 440.5,535.7 441,534.7 441.5,535.2 442,535.7 442.5,534.2 443,535.3 443.5,535.4 444,535 444.5,534.7 445,535.8 445.5,534.6 446,535.7 446.5,535.8 447,534.6 447.5,535.1 448,535.3 448.5,536.2 449,534.2 449.5,535.8 450,535.3 450.5,535.4 451,534 451.5,535.9 452,535.7 452.5,536.7 453,536.5 453.5,536.8 454,536 454.5,535.6 455,537.2 455.5,536.4 456,536.2 456.5,538.8 457,539.1 457.5,538.6 458,539.1 458.5,539.3 459,538.9 459.5,538.8 460,539.1 460.5,539.1 461,539.2 461.5,539.1 462,539.1 462.5,538.7 463,538.5 463.5,539.1 464,539.1 464.5,538.6 465,539.1 465.5,539.1 466,539 466.5,538.5 467,539.1 467.5,539.3 468,539.1 470.5,539.1 471,538.9 471.5,538.7 472,538.6 472.5,539.1 473,539.4 473.5,539.1 474,539.2 474.5,539.1 476,539.1 476.5,538.6 477,539.1 477.5,539.1 478,539.3 478.5,539.2 479,538.9 479.5,539 480,539.1 480.5,539.1 481,538.9 481.5,539.1 482.5,539.1 483,539.2 483.5,538.5 484,539.1 485,539.1 485.5,538.9 486,539.1 486.5,538.8 487,539.1 487.5,538.6 488,539.2 488.5,538.6 489,539.1 490,539.1 490.5,538.9 491,538.8 491.5,539 492,539.1 492.5,539.3 493,538.9 493.5,539.3 494,539.3 494.5,539.1 495,538.4 495.5,539.3 496,538.4 496.5,538.9 497,539.1 497.5,539.4 498,539.1 498.5,538.6 499,539.2 499.5,538.5 500,539.2 500.5,539.1 501,538.9 501.5,539.4 502,539.1 502.5,539.3 503,538.7 503.5,539.1 505.5,539.1 506,539 506.5,539.2 507,538.8 507.5,539.1 508,539.1 508.5,538.6 509,538.8 509.5,539.1 511.5,539.1 512,539.2 512.5,539.1 513,539.1 513.0,539.6Z" fill="#a52a8c" stroke="none" stroke-width="1"/>
<text x="352.50" y="542.90" font-size="2.6" text-anchor="start" fill="#999">0 - 1.00</text>
<path d="M352.0,549.1L352,547.5 352.5,547.4 353,547.8 353.5,547.4 354.5,547.4 355,548.1 355.5,547.3 356,547.3 356.5,546.4 357,547.3 357.5,547.3 358,547.4 358.5,547.2 359,546.9 359.5,547.3 360,547.4 360.5,547.4 361,546.4 361.5,546.1 362,547.2 362.5,548.3 363,546.4 363.5,547.2 364,547.3 364.5,547.1 365,547.2 365.5,546.9 366,546.8 366.5,548.5 367,547.1 367.5,548.2 368,547.9 368.5,547.7 369,545.9 369.5,547 370,547.3 370.5,547 371,547.2 371.5,547.1 372,547.2 372.5,546.7 373,545.9 373.5,547.7 374,547.2 374.5,547.2 375,546.8 375.5,547 376,547.4 376.5,547 377,547.1 377.5,546.2 378,547.4 378.5,546.6 379,547.8 379.5,546.9 380,547.3 380.5,547.2 381,546.6 381.5,547 382,547 382.5,547.2 383,547 383.5,547.6 384,546.9 384.5,547.1 385,545.7 385.5,547.6 386,547.2 386.5,546.9 387.5,546.9 388,545.9 388.5,548.4 389,546.8 389.5,548.2 390,547.2 390.5,546.8 391,546 391.5,546.8 392,547.1 392.5,548.1 393,545.9 393.5,547.1 394,545.7 394.5,546.6 395,548 395.5,547.2 396,546.9 396.5,548.2 397,547 397.5,548 398,548 398.5,545.8 399,546.9 399.5,547.2 400,546.1 400.5,545.5 401,546.3 401.5,546.1 402,546.9 402.5,546.3 403,546.8 403.5,548 404,547 404.5,547.2 405,546.8 405.5,545.6 406,546.8 406.5,546.8 407,546.4 407.5,547.1 408,546.9 408.5,547.3 409,546.2 409.5,547.1 410,546.6 410.5,546 411,547 411.5,546.8 412,546.9 412.5,546.5 413,546.3 413.5,546.1 414,546.8 414.5,547.2 415,546.9 415.5,547.1 416,547.8 416.5,546.9 417,548.5 417.5,546.8 418,548.4 418.5,547.8 419,546.9 419.5,546.2 420,546.8 420.5,547.2 421,545.5 421.5,546.9 422,547.6 422.5,547.2 423,546.6 423.5,548.3 424,547.5 424.5,547.1 425,546.9 425.5,545.9 426,547.1 426.5,545.6 427,546.1 427.5,547.4 428,548.1 428.5,546.7 429,546.3 429.5,547 430,548.3 430.5,548.2 431,547 431.5,547.6 432,547.3 432.5,547.8 433,547.7 433.5,546.9 434,547.2 434.5,546.2 435,547 435.5,548.3 436,548.4 436.5,546.5 437,547.9 437.5,547.2 438,548.4 438.5,547.2 439,547.3 439.5,547.1 440,545.7 440.5,547.1 441,547.8 441.5,547.9 442,547.8 442.5,546.1 443,547.2 443.5,547.1 444,547.2 444.5,548.4 445,547.3 445.5,547.3 446,547.7 446.5,547.7 447,546.8 447.5,547.2 448,547 448.5,547.3 449,547.3 449.5,546.5 450,545.8 450.5,547.2 451,546.3 451.5,547.3 452,545.7 452.5,545.9 453,547.4 453.5,547.4 454,548.7 454.5,547.4 455.5,547.4 456,547.5 456.5,548.2 457,548.3 457.5,548.6 458,548.7 458.5,548.6 460,548.6 460.5,548.5 461,548.9 461.5,548.6 462,548.6 462.5,548.7 463,548.9 463.5,548.6 464,548.6 464.5,548.2 465,548.6 465.5,548.6 466,548.3 466.5,548.2 467,548.2 467.5,548.6 468,548.8 468.5,547.3 469,548.8 469.5,548.5 470,548.2 470.5,548.5 471,548.5 471.5,548 472,548.5 472.5,548.8 473,547.9 473.5,548.5 474,548.5 474.5,548 475,548.5 475.5,547.7 476,548.4 476.5,548.5 478.5,548.5 479,547.8 479.5,548.5 480,548.5 480.5,547.8 481,548.5 483,548.5 483.5,547.3 484,548.5 484.5,548.2 485,548.5 487,548.5 487.5,547.5 488,547.4 488.5,548.5 490,548.5 490.5,548.1 491,548.1 491.5,548.3 492,547.3 492.5,548.3 493,548.5 494.5,548.5 495,548.3 495.5,548.2 496,548.7 496.5,548.5 497,548.5 497.5,547.3 498,547.9 498.5,548.5 499.5,548.5 500,548 500.5,548.5 502.5,548.5 503,548 503.5,548.5 504,548.5 504.5,547.5 505,548.5 508.5,548.5 509,547.5 509.5,548.5 510,548.3 510.5,547.3 511,548.9 511.5,547.8 512,548.5 512.5,548.5 513,547.7 513.0,549.1Z" fill="#111" stroke="none" stroke-width="1"/>
<line x1="353.00" y1="551.20" x2="512.00" y2="551.20" stroke="#8a8ab0" stroke-width="0.5"/>
<path d="M359.4,550.3h1.0v1.8h-1.0ZM368.1,550.3h1.2v1.8h-1.2ZM370.0,550.3h1.6v1.8h-1.6ZM429.6,550.3h1.6v1.8h-1.6ZM431.6,550.3h0.9v1.8h-0.9ZM498.3,550.3h0.9v1.8h-0.9ZM384.3,550.3H396.6v1.8H384.3Z" fill="#25256e" stroke="none" stroke-width="1"/>
<rect x="456.50" y="494.40" width="8.40" height="58.80" fill="none" stroke="#c8385e" stroke-width="1.3"/>
<rect x="415.40" y="533.00" width="41.20" height="22.30" fill="none" stroke="#222" stroke-width="0.9" stroke-dasharray="0.9,1.1"/>
<line x1="415.40" y1="541.20" x2="456.60" y2="541.20" stroke="#222" stroke-width="0.9" stroke-dasharray="0.9,1.1"/>
<rect x="459.80" y="533.50" width="2.90" height="19.00" fill="none" stroke="#222" stroke-width="0.9" stroke-dasharray="0.9,1.1"/>
<path d="M463.3,535.0 L466.3,535.0 L466.3,544.2 L463.3,544.2" fill="none" stroke="#222" stroke-width="0.8"/>
<circle cx="470.40" cy="534.74" r="0.95" fill="#222"/>
<circle cx="470.40" cy="537.81" r="0.95" fill="#222"/>
<circle cx="470.40" cy="540.89" r="0.95" fill="#222"/>
<circle cx="470.40" cy="543.96" r="0.95" fill="#222"/>
<path d="M460.50,487.70 L460.50,482.40 L454.60,482.40" fill="none" stroke="#111" stroke-width="1.2"/>
<path d="M451.60,482.40 L456.20,480.50 L456.20,484.30 Z" fill="#111" stroke="none" stroke-width="1"/>
<text x="417.70" y="485.70" font-size="8.8" text-anchor="start" fill="#1a1a1a" stroke="#1a1a1a" stroke-width="0.06" font-style="italic" textLength="31.8" lengthAdjust="spacingAndGlyphs">Ndufab1</text>
<line x1="458.00" y1="553.00" x2="454.60" y2="577.70" stroke="#c82a4c" stroke-width="1.0" stroke-dasharray="2.6,1.6"/>
<text x="349.60" y="572.20" font-size="8.6" text-anchor="end" fill="#333" stroke="#333" stroke-width="0.06" textLength="28" lengthAdjust="spacingAndGlyphs">Human:</text>
<text x="349.60" y="586.00" font-size="8.6" text-anchor="end" fill="#45458f" stroke="#45458f" stroke-width="0.06" textLength="44" lengthAdjust="spacingAndGlyphs">Notch/RBPJ</text>
<text x="349.60" y="594.30" font-size="8.6" text-anchor="end" fill="#45458f" stroke="#45458f" stroke-width="0.06" textLength="18.9" lengthAdjust="spacingAndGlyphs">ETS1</text>
<text x="349.60" y="603.00" font-size="8.6" text-anchor="end" fill="#45458f" stroke="#45458f" stroke-width="0.06" textLength="32.8" lengthAdjust="spacingAndGlyphs">H3K27ac</text>
<text x="349.60" y="612.40" font-size="8.6" text-anchor="end" fill="#d24848" stroke="#d24848" stroke-width="0.06" textLength="26.3" lengthAdjust="spacingAndGlyphs">CDC73</text>
<text x="349.60" y="621.20" font-size="8.6" text-anchor="end" fill="#3aa05e" stroke="#3aa05e" stroke-width="0.06" textLength="36.8" lengthAdjust="spacingAndGlyphs">ATAC-Seq</text>
<rect x="352.00" y="575.90" width="161.00" height="2.40" fill="#d6d6d6" stroke="none" stroke-width="1"/>
<line x1="352.00" y1="575.90" x2="513.00" y2="575.90" stroke="#a8a8a8" stroke-width="0.5"/>
<text x="362.00" y="573.70" font-size="2.8" text-anchor="start" fill="#9a9a9a">48,700 kb</text>
<line x1="366.00" y1="575.90" x2="366.00" y2="578.30" stroke="#999" stroke-width="0.4"/>
<text x="398.00" y="573.70" font-size="2.8" text-anchor="start" fill="#9a9a9a">48,700 kb</text>
<line x1="402.00" y1="575.90" x2="402.00" y2="578.30" stroke="#999" stroke-width="0.4"/>
<text x="432.00" y="573.70" font-size="2.8" text-anchor="start" fill="#9a9a9a">48,700 kb</text>
<line x1="436.00" y1="575.90" x2="436.00" y2="578.30" stroke="#999" stroke-width="0.4"/>
<text x="466.00" y="573.70" font-size="2.8" text-anchor="start" fill="#9a9a9a">48,700 kb</text>
<line x1="470.00" y1="575.90" x2="470.00" y2="578.30" stroke="#999" stroke-width="0.4"/>
<text x="496.00" y="573.70" font-size="2.8" text-anchor="start" fill="#9a9a9a">48,700 kb</text>
<line x1="500.00" y1="575.90" x2="500.00" y2="578.30" stroke="#999" stroke-width="0.4"/>
<line x1="352.00" y1="585.70" x2="513.00" y2="585.70" stroke="#b8b8d8" stroke-width="0.5"/>
<text x="352.50" y="579.50" font-size="2.6" text-anchor="start" fill="#999">0 - 1.00</text>
<path d="M352.0,585.7L352,585.3 352.5,585.4 353,585.3 353.5,584.7 354,584.9 354.5,585.2 355,584.9 355.5,585.3 357,585.3 357.5,585.2 358,585.3 358.5,585.3 359,584.7 359.5,584.6 360,585.4 360.5,585.4 361,585.3 362,585.3 362.5,584.8 363,585.3 367,585.3 367.5,585.4 368,585.3 368.5,585 369,585.3 369.5,584.8 370,584.7 370.5,584.4 371,584.6 371.5,585.3 372,585.3 372.5,584.9 373,585.1 373.5,584.6 374,584.8 374.5,584.1 375,585.2 375.5,585.3 376,585.2 376.5,585.1 377,583.8 377.5,584.6 378,585.2 378.5,585.3 379,585.3 379.5,585 380,585.3 381,585.3 381.5,585.1 382,585.3 382.5,585.3 383,584.8 383.5,585 384,585.3 384.5,585.3 385,585.2 385.5,584.7 386,585.3 388,585.3 388.5,584.9 389,585.3 389.5,584.5 390,585.3 390.5,585 391,584.2 391.5,585.1 392,585.3 392.5,584.9 393,584.7 393.5,583.8 394,583.3 394.5,585.1 395,585.5 395.5,584.6 396,584.8 396.5,585.3 397.5,585.3 398,585.1 398.5,585.5 399,585.3 400.5,585.3 401,585 401.5,585.3 402,585.1 402.5,584.9 403,585.3 403.5,585.4 404,584.8 404.5,585.3 405,585.3 405.5,585 406,584.2 406.5,585 407,584.9 407.5,584.8 408,585.2 408.5,584.8 409,585.3 409.5,585 410,584.5 410.5,585.3 411,585.3 411.5,584.8 412,584.7 412.5,585.3 413.5,585.3 414,585.2 414.5,585.3 415,584.7 415.5,584.9 416,585.4 416.5,584 417,583.8 417.5,585.1 418,585.1 418.5,585.3 419,584.8 419.5,584.6 420,584 420.5,584.6 421,585.3 423,585.3 423.5,585.2 424,584.1 424.5,583.4 425,585.2 425.5,585.4 426,584.6 426.5,584.6 427,584.9 427.5,585.3 428.5,585.3 429,585.2 429.5,585.3 430,585.5 430.5,585.4 431,585.3 431.5,585.4 432,585.3 432.5,584.5 433,584.7 433.5,585.4 434,585.4 434.5,585.3 435,585.1 435.5,584.8 436,585.3 437,585.3 437.5,585.1 438,585.2 438.5,583.7 439,584.3 439.5,585.3 440,585.2 440.5,584.9 441,585.3 445,585.3 445.5,584.6 446,584.6 446.5,585 447,585.2 447.5,583.9 448,584.2 448.5,585.3 449.5,585.3 450,584.5 450.5,585.5 451,585.3 453.5,585.3 454,584.9 454.5,585.3 455,585.3 455.5,584.9 456,585.1 456.5,585.3 457,585.1 457.5,584.9 458,581.1 458.5,578.3 459,583.5 459.5,584.6 460,585.3 460.5,585.3 461,584.5 461.5,585.4 462,585.3 463,585.3 463.5,584.6 464,585.3 464.5,584.5 465,584.7 465.5,584.9 466,584.1 466.5,584.9 467,584.4 467.5,584 468,585.2 468.5,585.3 469,584.9 469.5,585.3 470,585.3 470.5,585 471,584.9 471.5,585.3 472,585.3 472.5,585.1 473,584.7 473.5,585.5 474,585.3 475,585.3 475.5,585 476,585.4 476.5,585 477,585.3 477.5,585.5 478,585.4 478.5,585 479,584.6 479.5,585 480,584.7 480.5,585 481,585.3 481.5,585.3 482,584.7 482.5,584.7 483,585 483.5,585.1 484,584.1 484.5,584.5 485,584.9 485.5,585.4 486,585.3 486.5,585.3 487,585.1 487.5,585.1 488,585.3 488.5,585.3 489,585.2 489.5,584.6 490,585 490.5,584.7 491,584.6 491.5,585.3 492,584.9 492.5,585.3 493,585.3 493.5,585.5 494,585.3 494.5,585.3 495,584.9 495.5,584.9 496,585.1 496.5,583.7 497,584.9 497.5,585.2 498,585 498.5,584.7 499,585.3 499.5,585.2 500,584.7 500.5,585.3 501,585.3 501.5,585.4 502,584.5 502.5,584.9 503,585.3 504,585.3 504.5,584.7 505,584.7 505.5,585.3 506.5,585.3 507,585.1 507.5,583.4 508,583.7 508.5,585.2 509,585.3 509.5,584.6 510,585.3 511,585.3 511.5,585.5 512,584.6 512.5,585.3 513,585.3 513.0,585.7Z" fill="#25256e" stroke="none" stroke-width="1"/>
<line x1="352.00" y1="595.10" x2="513.00" y2="595.10" stroke="#c0c0dc" stroke-width="0.5"/>
<text x="352.50" y="588.90" font-size="2.6" text-anchor="start" fill="#999">0 - 1.00</text>
<path d="M352.0,595.1L352,594.7 352.5,594.8 353,594.7 353.5,594.4 354,594.7 354.5,594.1 355,594.7 355.5,594.9 356,594.7 358.5,594.7 359,594.5 359.5,594.7 360,594.7 360.5,594.4 361,594.7 361.5,593.9 362,593.6 362.5,593.2 363,594.6 363.5,594.9 364,594.7 364.5,594.1 365,594.6 365.5,594.7 366,594.1 366.5,594 367,594.2 367.5,594.7 368.5,594.7 369,594.1 369.5,593.9 370,594.4 370.5,594.7 371,594 371.5,594.8 372,594 372.5,594.7 373,594.7 373.5,594.1 374,594.1 374.5,594.4 375,594.7 375.5,594.4 376,594.7 376.5,594.1 377,594.7 377.5,594.7 378,594.2 378.5,594.7 379.5,594.7 380,594.2 380.5,594.7 381,594.7 381.5,594.5 382,594.7 386,594.7 386.5,594.3 387,594.2 387.5,594.4 388,594.2 388.5,594.7 389,594.7 389.5,594.4 390,594.7 391,594.7 391.5,594 392,594.7 392.5,594 393,594.7 396,594.7 396.5,594.2 397,594.6 397.5,594.7 398,594.7 398.5,594 399,594.3 399.5,594.4 400,594.7 400.5,594.7 401,594.1 401.5,594 402,594.7 402.5,594.7 403,593.9 403.5,593.7 404,594.1 404.5,594.7 406,594.7 406.5,594.1 407,593.8 407.5,593.8 408,594.2 408.5,594.9 409,594.3 409.5,594.7 410,594.4 410.5,594.2 411,594.7 411.5,594.5 412,594.5 412.5,594.7 413,594.1 413.5,594.4 414,593 414.5,593.7 415,594.5 415.5,594.7 416,594.7 416.5,594.5 417,594.7 418,594.7 418.5,594.8 419,594.1 419.5,594.7 420,594.8 420.5,594.7 421,594.4 421.5,594.6 422,594.8 422.5,594.7 423.5,594.7 424,594.9 424.5,594.5 425,594.2 425.5,594.7 426,594.7 426.5,594.4 427,594.7 427.5,594.7 428,594.8 428.5,594.7 429,594.1 429.5,594.7 430,594.2 430.5,594.3 431,594.9 431.5,594.6 432,594.6 432.5,594.1 433,594.7 433.5,594.7 434,594.4 434.5,594.7 435,594.5 435.5,594.4 436,594.6 436.5,594.7 437.5,594.7 438,594.8 438.5,594.8 439,594.3 439.5,594.7 440,594.7 440.5,594.5 441,594.7 441.5,594.6 442,594.7 442.5,594.7 443,594.4 443.5,594.7 444,594.7 444.5,594.3 445,594 445.5,594.5 446,594.7 446.5,594.5 447,594.7 449.5,594.7 450,594.8 450.5,594.7 451,594.7 451.5,594.8 452,594.5 452.5,594.5 453,594.9 453.5,594.6 454,594.7 454.5,594.8 455,594.4 455.5,594.7 456.5,594.7 457,594.3 457.5,594.3 458,590.5 458.5,587.7 459,592.8 459.5,594.3 460,594.7 461,594.7 461.5,594.9 462,594.7 462.5,594.1 463,594.5 463.5,594.7 464,594.7 464.5,593.6 465,592.8 465.5,592.5 466,594.2 466.5,594.7 467,594.7 467.5,594.2 468,594.7 470,594.7 470.5,594.8 471,594.9 471.5,594.7 472,594.7 472.5,594.6 473,594.7 473.5,594.8 474,594.2 474.5,594.7 475,594.7 475.5,594.9 476,594.6 476.5,594.7 478.5,594.7 479,594.1 479.5,594.4 480,594.1 480.5,594.6 481,593.9 481.5,594.1 482,594 482.5,594.7 484.5,594.7 485,594.8 485.5,594.7 487,594.7 487.5,594.6 488,594.2 488.5,594.7 489,594.7 489.5,594.3 490,594.7 490.5,594.5 491,594.6 491.5,594.7 492,594.7 492.5,594.4 493,594.7 493.5,594.7 494,594.4 494.5,594.7 495,594.4 495.5,594.7 498.5,594.7 499,594 499.5,593.4 500,594 500.5,594.2 501,594.7 501.5,594.4 502,594.8 502.5,594.8 503,594.1 503.5,594.8 504,594.6 504.5,594 505,593.8 505.5,593.6 506,594.3 506.5,594.4 507,594.9 507.5,594.7 508,594.8 508.5,594.7 509,594.7 509.5,593.6 510,593.7 510.5,594.7 512,594.7 512.5,594.3 513,594.7 513.0,595.1Z" fill="#25256e" stroke="none" stroke-width="1"/>
<line x1="352.00" y1="604.30" x2="513.00" y2="604.30" stroke="#c8c8e4" stroke-width="0.5"/>
<text x="352.50" y="598.10" font-size="2.6" text-anchor="start" fill="#999">0 - 1.00</text>
<path d="M352.0,604.3L352,604 352.5,603.9 353,603.8 353.5,603.8 354,603.6 354.5,604 355,603.5 355.5,604 356,603.6 356.5,603.2 357,602.8 357.5,603.4 358,604 358.5,603.5 359,604 361.5,604 362,603.9 362.5,604 363,603.6 363.5,604 364,604 364.5,603.4 365,604 365.5,603.7 366,604 366.5,603.8 367,603 367.5,603.4 368,603.6 368.5,604 369,603.6 369.5,603.8 370,603.4 370.5,602.6 371,603.1 371.5,603.9 372,604 372.5,603.5 373,604 374.5,604 375,603.6 375.5,603.9 376,604 376.5,603.5 377,603.5 377.5,603.7 378,604 378.5,603.5 379,604 380.5,604 381,603.5 381.5,603.7 382,603.9 382.5,604 383,603.8 383.5,604 384.5,604 385,604.1 385.5,604 386,603.7 386.5,604 387,603.9 387.5,604 388,604.1 388.5,604 389,603.6 389.5,603.9 390,603.5 390.5,603.1 391,603.6 391.5,604 392,603.6 392.5,603.9 393,604 393.5,603.5 394,604 395,604 395.5,603.5 396,604.1 396.5,604 397,603.4 397.5,604 398,604 398.5,603.8 399,604 399.5,604.1 400,603.6 400.5,604 401,603.9 401.5,604 402,603.7 402.5,602.7 403,603 403.5,604 404,603.8 404.5,603.9 405,604.1 405.5,604 406.5,604 407,604.1 407.5,604 408,603.5 408.5,603.4 409,604 410.5,604 411,603.5 411.5,603.7 412,603.8 412.5,604 413,603.6 413.5,603.8 414,603.5 414.5,604 416.5,604 417,603.8 417.5,604 418,604 418.5,603.7 419,603.8 419.5,604 420,604 420.5,603.7 421,604 421.5,603.7 422,604 422.5,604 423,603.7 423.5,603.5 424,604 425,604 425.5,603.5 426,604 426.5,604 427,603.5 427.5,604 428,603.7 428.5,603.6 429,603.8 429.5,603.9 430,604 430.5,603.5 431,604 431.5,603.6 432,604 432.5,604 433,603.6 433.5,603.6 434,604 434.5,603.5 435,604 435.5,604 436,604.1 436.5,604 437,603.9 437.5,604.1 438,604 438.5,604 439,603.6 439.5,603.5 440,604.1 440.5,603.6 441,604 442,604 442.5,603.4 443,604 443.5,603.9 444,604 444.5,603.5 445,604 445.5,603.9 446,603.4 446.5,603.6 447,602.7 447.5,603 448,603.9 448.5,604 449,604.1 449.5,603.4 450,603.7 450.5,603.9 451,604 451.5,603.8 452,603.5 452.5,603.7 453,603.8 453.5,603.9 454,603.8 454.5,603.7 455,604 455.5,604 456,603.7 456.5,604 457,604 457.5,603.6 458,599.6 458.5,597.3 459,602 459.5,603.9 460,603.8 460.5,604 461.5,604 462,603.5 462.5,604 464,604 464.5,603.8 465,604 465.5,603.8 466,602.8 466.5,603.4 467,604 467.5,603.6 468,604 468.5,604 469,603.7 469.5,603.5 470,604 470.5,604.1 471,603.8 471.5,603.7 472,604 473,604 473.5,603.7 474,604.1 474.5,603.8 475,602.9 475.5,603.3 476,604 476.5,603.6 477,604 477.5,604 478,603.6 478.5,604 479,603.6 479.5,604 480.5,604 481,603.5 481.5,604 482,603.5 482.5,603.4 483,603.5 483.5,603.8 484,604 485,604 485.5,603.4 486,602.7 486.5,603.6 487,603.4 487.5,604 488,603.5 488.5,604 489,604 489.5,603.6 490,603.5 490.5,604 491,603.7 491.5,602.9 492,603.9 492.5,604 493,603.9 493.5,604 494,603.7 494.5,603.9 495,603.8 495.5,604 496,604 496.5,603.8 497,604 498,604 498.5,603.8 499,603.8 499.5,604 500,604 500.5,604.1 501,603.7 501.5,604 502,604 502.5,603.9 503,603.9 503.5,604 504.5,604 505,603.4 505.5,603.5 506,603.2 506.5,603.8 507,604 508,604 508.5,603.6 509,603.7 509.5,603.4 510,603 510.5,603.9 511,603.9 511.5,603.4 512,604 513,604 513.0,604.3Z" fill="#25256e" stroke="none" stroke-width="1"/>
<line x1="352.00" y1="613.30" x2="513.00" y2="613.30" stroke="#f0b0b0" stroke-width="0.5"/>
<text x="352.50" y="607.10" font-size="2.6" text-anchor="start" fill="#999">0 - 1.00</text>
<path d="M352.0,613.3L352,611.3 352.5,612 353,612 353.5,612.6 354,612 355,612 355.5,610.9 356,610.9 356.5,612.9 357,611 357.5,611.9 358,612.6 358.5,610.7 359,612.2 359.5,613 360,612.1 360.5,610.7 361,613 361.5,611.9 362,609.1 362.5,611.6 363,612 363.5,613 364,612 364.5,610.6 365,611.8 365.5,612 366,610.5 366.5,612 367.5,612 368,612.6 368.5,612 369,611.1 369.5,612 370,610.6 370.5,612 371,612 371.5,610.7 372,610.9 372.5,612.7 373,611.7 373.5,611.2 374,610.1 374.5,612 375,610.6 375.5,612 377,612 377.5,612.3 378,612 378.5,611.5 379,609.7 379.5,607.9 380,611.3 380.5,611.9 381,612 381.5,611.6 382,611.1 382.5,612.7 383,611.2 383.5,611.3 384,612.2 384.5,611.5 385,612 385.5,610.7 386,611.9 386.5,610.7 387,608.1 387.5,611.7 388,612 388.5,612.1 389,611.7 389.5,611.6 390,612.8 390.5,611.6 391,611.7 391.5,610.7 392,611.6 392.5,611.9 393,611.3 393.5,610.2 394,611.8 394.5,612 395,610.5 395.5,612 396.5,612 397,611 397.5,612 398,612 398.5,612.5 399,612.3 399.5,612 400,611.3 400.5,612 401.5,612 402,611.3 402.5,611.9 403,611.5 403.5,609.5 404,611 404.5,610.5 405,611.2 405.5,612 406.5,612 407,612.7 407.5,611.3 408,612 408.5,610.7 409,610.5 409.5,612.7 410,612.7 410.5,613.1 411,612 411.5,612.8 412,610.8 412.5,612 413.5,612 414,610.9 414.5,612.2 415,611.1 415.5,612 416,610.8 416.5,610.6 417,611.6 417.5,610.3 418,612 418.5,612 419,612.9 419.5,612 420,612.1 420.5,612 421,612.1 421.5,611.8 422,612 422.5,612 423,610.6 423.5,613.1 424,611.2 424.5,611.9 425,612 425.5,611.9 426,610.8 426.5,609.8 427,612.1 427.5,610.3 428,612 428.5,612 429,611.6 429.5,609.7 430,610.9 430.5,611.2 431,611.2 431.5,612.9 432,611.1 432.5,612 433,611.2 433.5,612.1 434,611.2 434.5,612 435,611.8 435.5,612.9 436,612 436.5,612.6 437,612 438,612 438.5,610.9 439,611.9 439.5,609.8 440,611.3 440.5,611.2 441,610.9 441.5,610.7 442,611.4 442.5,612.2 443,611 443.5,611.8 444,610.7 444.5,611.6 445,610.6 445.5,611.3 446,612 446.5,612 447,613 447.5,612.6 448,612 448.5,612 449,611 449.5,612 450,612 450.5,612.9 451,610.3 451.5,610.7 452,612 452.5,612.6 453,611.9 453.5,612.2 454,611.1 454.5,610.5 455,611.7 455.5,612.6 456,612.8 458.5,612.8 459,612.7 459.5,612.8 460,612.9 460.5,612.8 461,612.4 461.5,612.8 462,613 462.5,612.4 463,612.5 463.5,612.8 465.5,612.8 466,612.6 466.5,613.1 467,612.6 467.5,612.6 468,612.4 468.5,612.8 469,612.3 469.5,612.8 471,612.8 471.5,613 472,612.6 472.5,612.8 473,612.6 473.5,612.8 474,613.1 474.5,612.8 476.5,612.8 477,612.3 477.5,612.5 478,612.8 479,612.8 479.5,612.9 480,612.7 481,612.7 481.5,612.8 482,612.8 482.5,612.4 483,612.9 483.5,612.8 484,612.5 484.5,612.7 485,612.8 485.5,612.3 486,612.6 486.5,613 487,612.8 487.5,612.8 488,612.9 488.5,612.8 489,613.1 489.5,612.6 490,612.5 490.5,612.3 491,613 491.5,612.8 493,612.8 493.5,612.6 494,612.8 494.5,612.9 495,612.6 495.5,612.8 497,612.8 497.5,612.4 498,612.3 498.5,612.8 499,612.4 499.5,612.8 500,612.6 500.5,612.5 501,613.1 501.5,613.1 502,612.8 503,612.8 503.5,613 504,612.8 504.5,612.8 505,612.9 505.5,612.8 506,612.8 506.5,613.1 507,612.8 507.5,612.8 508,613 508.5,612.9 509,612.8 511,612.8 511.5,613.1 512,612.7 512.5,612.5 513,612.8 513.0,613.3Z" fill="#d42d2d" stroke="none" stroke-width="1"/>
<text x="352.50" y="615.90" font-size="2.6" text-anchor="start" fill="#999">0 - 1.00</text>
<path d="M352.0,622.1L352,622.1 411.5,622.1 412,622 412.5,622.1 444.5,622.1 445,622 445.5,622.1 455.5,622.1 456,622 457,622 457.5,621.9 458,619.3 458.5,616.3 459,621 459.5,622 461,622 461.5,622.1 492,622.1 492.5,622 493,622.1 504,622.1 504.5,622 505,622.1 513,622.1 513.0,622.1Z" fill="#1f9a4c" stroke="none" stroke-width="1"/>
<line x1="353.00" y1="624.60" x2="512.00" y2="624.60" stroke="#8a8ab0" stroke-width="0.5"/>
<path d="M470.1,623.7h1.2v1.8h-1.2ZM483.4,623.7h0.9v1.8h-0.9ZM372.9,623.7H385.3v1.8H372.9ZM410.0,623.7H411.2v1.8H410.0ZM482.0,623.7H483.2v1.8H482.0ZM495.0,623.7H496.2v1.8H495.0Z" fill="#25256e" stroke="none" stroke-width="1"/>
<rect x="453.50" y="577.70" width="9.40" height="51.90" fill="none" stroke="#c8385e" stroke-width="1.3"/>
<path d="M461.30,570.00 L461.30,564.80 L455.10,564.80" fill="none" stroke="#111" stroke-width="1.2"/>
<path d="M452.10,564.80 L456.70,562.90 L456.70,566.70 Z" fill="#111" stroke="none" stroke-width="1"/>
<text x="414.60" y="567.90" font-size="8.8" text-anchor="start" fill="#1a1a1a" stroke="#1a1a1a" stroke-width="0.06" font-style="italic" textLength="36.9" lengthAdjust="spacingAndGlyphs">NDUFAB1</text>
<text x="104.00" y="381.50" font-size="2.8" text-anchor="start" fill="#9a9a9a">Gene1</text>
<text x="488.00" y="381.50" font-size="2.8" text-anchor="start" fill="#9a9a9a">Gene1</text>
<text x="183.00" y="378.60" font-size="2.8" text-anchor="start" fill="#9a9a9a">Gene1</text>
<text x="230.00" y="378.60" font-size="2.8" text-anchor="start" fill="#9a9a9a">Gene1</text>
<text x="377.00" y="454.60" font-size="2.8" text-anchor="start" fill="#9a9a9a">Gene1</text>
<text x="444.00" y="454.60" font-size="2.8" text-anchor="start" fill="#9a9a9a">Gene1</text>
<text x="168.00" y="628.80" font-size="2.8" text-anchor="start" fill="#9a9a9a">Gene1</text>
<text x="370.00" y="628.80" font-size="2.8" text-anchor="start" fill="#9a9a9a">Gene1</text>
<text x="430.00" y="628.80" font-size="2.8" text-anchor="start" fill="#9a9a9a">Gene1</text>
<text x="495.00" y="628.80" font-size="2.8" text-anchor="start" fill="#9a9a9a">Gene1</text>
<text x="357.00" y="557.20" font-size="2.8" text-anchor="start" fill="#9a9a9a">Gene1</text>
<text x="381.00" y="557.20" font-size="2.8" text-anchor="start" fill="#9a9a9a">Gene1</text>
<text x="418.00" y="557.20" font-size="2.8" text-anchor="start" fill="#9a9a9a">Gene1</text>
<text x="100.00" y="556.80" font-size="2.8" text-anchor="start" fill="#9a9a9a">Gene1</text>
<text x="160.00" y="556.80" font-size="2.8" text-anchor="start" fill="#9a9a9a">Gene1</text>
<rect x="0.5" y="0.5" width="519" height="638" fill="none" stroke="#444" stroke-width="1"/>
</svg></body></html>
